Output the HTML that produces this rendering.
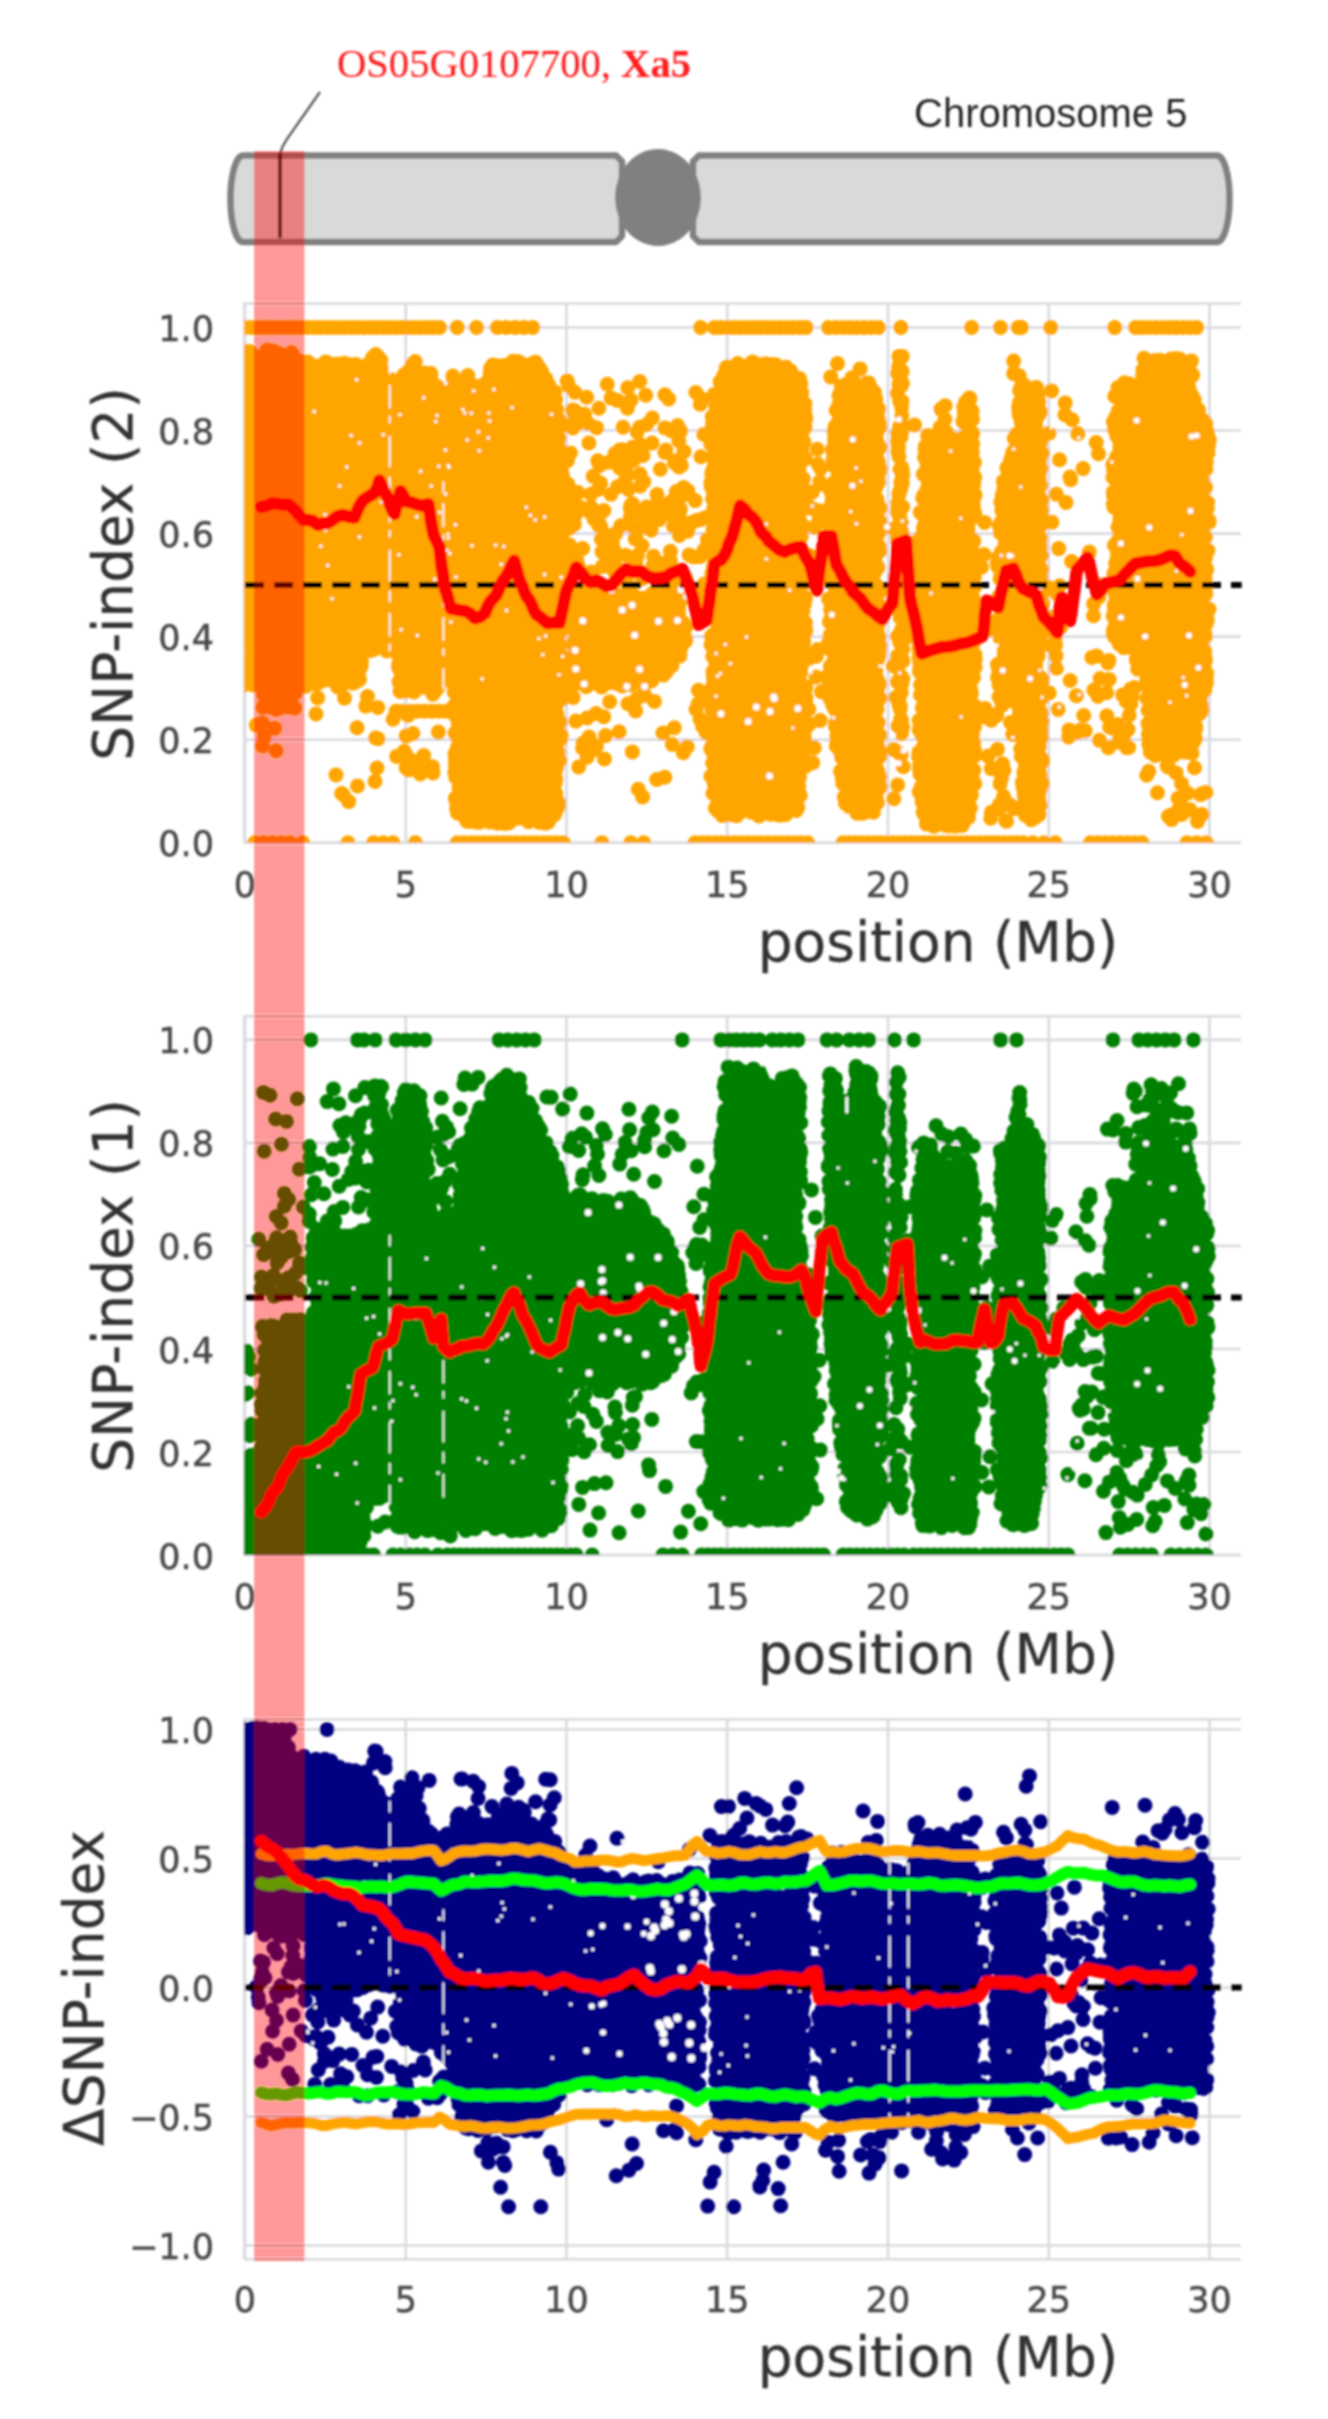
<!DOCTYPE html><html><head><meta charset="utf-8"><title>QTL-seq chromosome 5</title><style>html,body{margin:0;padding:0;background:#fff}svg{display:block}</style></head><body><svg width="1328" height="2419" viewBox="0 0 1328 2419"><defs><filter id="bl" x="-5%" y="-5%" width="110%" height="110%"><feGaussianBlur stdDeviation="1.0"/></filter></defs><rect width="1328" height="2419" fill="#fff"/><g filter="url(#bl)"><g stroke="#808080" stroke-width="6.5" fill="#d9d9d9" stroke-linejoin="round"><path d="M243 155.5H616L622 161.5V236L616 242H243A12.5 43.25 0 0 1 243 155.5Z"/><path d="M699 155.5H1217A12.5 43.25 0 0 1 1217 242H699L693 236V161.5Z"/></g><ellipse cx="658" cy="197.5" rx="43" ry="48.5" fill="#808080"/><line x1="280" x2="280" y1="153" y2="238" stroke="#111" stroke-width="4"/><path d="M280 154Q282 146 287 139L320 92" fill="none" stroke="#555" stroke-width="2.2"/><text x="337" y="77" font-family="'Liberation Serif',serif" font-size="40.6" fill="#ff1a1a">OS05G0107700, <tspan font-weight="bold">Xa5</tspan></text><text x="914" y="127" font-family="'Liberation Sans',sans-serif" font-size="40" fill="#262626">Chromosome 5</text><clipPath id="c1"><rect x="244.3" y="303.5" width="996.5" height="539.2"/></clipPath><line x1="245" x2="245" y1="303.5" y2="842.7" stroke="#d9dade" stroke-width="2.6"/><line x1="405.8" x2="405.8" y1="303.5" y2="842.7" stroke="#d9dade" stroke-width="2.6"/><line x1="566.5" x2="566.5" y1="303.5" y2="842.7" stroke="#d9dade" stroke-width="2.6"/><line x1="727.2" x2="727.2" y1="303.5" y2="842.7" stroke="#d9dade" stroke-width="2.6"/><line x1="888" x2="888" y1="303.5" y2="842.7" stroke="#d9dade" stroke-width="2.6"/><line x1="1048.8" x2="1048.8" y1="303.5" y2="842.7" stroke="#d9dade" stroke-width="2.6"/><line x1="1209.5" x2="1209.5" y1="303.5" y2="842.7" stroke="#d9dade" stroke-width="2.6"/><line x1="244.3" x2="1240.8" y1="842.7" y2="842.7" stroke="#d9dade" stroke-width="2.6"/><line x1="244.3" x2="1240.8" y1="739.7" y2="739.7" stroke="#d9dade" stroke-width="2.6"/><line x1="244.3" x2="1240.8" y1="636.6" y2="636.6" stroke="#d9dade" stroke-width="2.6"/><line x1="244.3" x2="1240.8" y1="533.6" y2="533.6" stroke="#d9dade" stroke-width="2.6"/><line x1="244.3" x2="1240.8" y1="430.5" y2="430.5" stroke="#d9dade" stroke-width="2.6"/><line x1="244.3" x2="1240.8" y1="327.5" y2="327.5" stroke="#d9dade" stroke-width="2.6"/><path d="M244.3 842.7V303.5H1240.8" fill="none" stroke="#d9dade" stroke-width="2.5"/><line x1="244.3" x2="1240.8" y1="842.7" y2="842.7" stroke="#d9dade" stroke-width="2.5"/><g clip-path="url(#c1)"><path d="M238.1 350L238.1 687.3L260.5 687.3L261.1 710.5L297.3 710.5L298.9 687.3L358.7 687.3L363.5 651.2L391.7 651.2L391.7 374.7L382.7 374.7L379.8 347.9L373.5 347.9L370.3 361.8L300.8 361.8L299.2 350Z" fill="#ffa500" fill-rule="evenodd"/><path d="M389.2 385L389.2 648.8L397.2 653.9L398.7 694.5L441.5 694.5L441.5 386.2L433.6 375.5L416.9 362.2L415.1 358.1L410.7 367L393.9 385Z" fill="#ffa500" fill-rule="evenodd"/><path d="M440.7 401L440.7 682.1L453.5 682.1L454.5 809.6L466.4 823.8L550.3 823.8L559 810L563.7 688L563.7 482.2L558.9 405.8L554.6 389.4L545.5 377.3L534.3 359.4L491.3 361.6L488.1 382.1L448.3 384.8Z" fill="#ffa500" fill-rule="evenodd"/><path d="M572.5 591.1L572.5 687.3L645.1 687.3L674.4 668.5L685.9 645.5L685.9 591.1Z" fill="#ffa500" fill-rule="evenodd"/><path d="M710.7 430.8L710.7 780.4L716.3 816.1L796.3 816.1L806.4 764.8L806.4 405.5L796.4 366.5L748.6 361.4L746.5 355.7L744.7 360.8L724.7 366.2L715.4 381Z" fill="#ffa500" fill-rule="evenodd"/><path d="M828.1 533.7L828.1 687.7L845 813.5L879.1 813.5L880.4 791L880.4 405.9L871.1 382.4L838.7 382.4L832.9 431Z" fill="#ffa500" fill-rule="evenodd"/><path d="M897.2 354.1L897.2 733.7L902.9 733.7L902.9 354.1Z" fill="#ffa500" fill-rule="evenodd"/><path d="M906.9 539.6L906.9 640.9L910.9 640.9L910.9 539.6Z" fill="#ffa500" fill-rule="evenodd"/><path d="M918.1 523.5L918.1 790.6L925.1 826.4L969.7 826.4L975.2 790.7L975.2 482.2L972.2 392.7L964.3 392.7L961.1 436.5L924.1 436.5Z" fill="#ffa500" fill-rule="evenodd"/><path d="M996.9 559.5L996.9 707.9L1019.2 707.9L1022.4 821.2L1040 821.2L1042.8 790.9L1042.8 420.8L1035.7 382.4L1019 382.4L1016.1 431.5L1001.7 483.1Z" fill="#ffa500" fill-rule="evenodd"/><path d="M1112.6 430.7L1112.6 635.7L1117.5 651.2L1144.6 651.2L1147.8 756.8L1194.8 756.8L1206.7 687.6L1206.7 421.8L1195.6 401.4L1191.2 356.7L1144.1 356.7L1140.9 382.4L1115.5 382.4Z" fill="#ffa500" fill-rule="evenodd"/><path d="M238.9 483.6h0M391 494.5h0M390 474.2h0M243.6 376.9h0M344.4 363.3h0M238.7 602.6h0M373.3 360.7h0M316.1 684h0M247.2 351.4h0M388.4 463.2h0M386.8 468.7h0M244 360.7h0M242 460.8h0M242.8 350.9h0M386.7 420.3h0M355.7 364.6h0M381.5 367.7h0M238.9 533.3h0M240.3 402.9h0M359.9 650.3h0M265.7 353h0M388.7 587.3h0M375.8 354.6h0M387.3 469h0M299.3 683.6h0M266.4 699.7h0M355.5 666.2h0M245.3 682.3h0M242.8 399.4h0M241.2 352.7h0M244.1 501h0M241.4 452.9h0M361.3 666h0M290.1 707.1h0M361.5 661.1h0M242.2 613h0M271.1 707.5h0M355.3 365.9h0M266.9 350.1h0M391.2 626.9h0M243.3 575.6h0M390.6 515.5h0M364.9 367.2h0M389.8 560.8h0M243.1 394.1h0M391 379.5h0M378.9 371.8h0M243.2 669h0M359.6 679.4h0M382.7 378.7h0M387.1 378.3h0M386.4 479.9h0M344.4 363.4h0M341 366.1h0M349.9 364.8h0M240.5 433.7h0M348.8 366.1h0M391.6 641.2h0M302.7 682.1h0M385.9 386h0M385.8 428.1h0M242.1 482.2h0M263.5 683.8h0M240.5 491.2h0M243.1 611.9h0M390.1 648.9h0M241 500.7h0M266.4 692.5h0M238.6 418.5h0M243.5 474.5h0M280.3 707.1h0M308 362.1h0M242.2 630.9h0M386 525.1h0M280.9 706.9h0M239 450.1h0M294.8 708.1h0M310.3 683h0M386.9 474.4h0M287.8 707.1h0M253.7 355.7h0M379.7 646.7h0M389 525.3h0M240.1 626.1h0M371.9 649.5h0M263.5 694.6h0M243.3 376.7h0M387.5 510.6h0M243.2 636.2h0M391.3 404.9h0M300.5 361h0M317.6 365.9h0M278.8 708.4h0M244.1 511.4h0M240 682.5h0M354.8 366h0M273.4 350.9h0M241.8 590.1h0M390.6 526.2h0M358.1 656.2h0M262.9 707.3h0M387.4 380.7h0M243 429h0M239.4 528.6h0M240.2 687h0M387.4 600.7h0M239.2 630.7h0M329.1 363.6h0M386.4 445.5h0M387.9 455.1h0M240.7 629.3h0M276.1 709.4h0M358.2 652.7h0M390.4 496.8h0M386.6 443h0M243.9 663.6h0M239 630.9h0M385.9 426.6h0M243.5 491.9h0M338.6 682.1h0M387.9 501.7h0M388.6 575.7h0M359 671.2h0M241 503.6h0M241.8 543.7h0M355.7 682h0M240.3 498.4h0M391.2 644.2h0M244.1 446.6h0M390.2 485.4h0M238.6 465.4h0M340.6 687h0M241.1 575.1h0M338.3 363.9h0M390.3 467.9h0M241.6 519.8h0M242 668.7h0M389.9 616.7h0M390 509.3h0M370.3 650.4h0M371 648.1h0M356.7 367.8h0M240.9 487.9h0M241.6 485h0M238.6 596.5h0M306.6 363.4h0M373.7 646.5h0M297.2 363.2h0M272.7 352.1h0M387.4 478.3h0M391.6 412.5h0M388.6 560.7h0M269.4 352.3h0M391 640.8h0M388.5 382.9h0M364.8 645.4h0M239.2 422.7h0M240.6 389.1h0M390.4 636.2h0M391.1 616.8h0M239.4 576.2h0M271.1 705.7h0M325.7 361.9h0M239.7 535.4h0M387.6 641.4h0M298 686.2h0M306.2 686.2h0M355.8 364.5h0M319 682.4h0M390.2 446.7h0M239.7 478.8h0M390.7 411.1h0M387.4 549.7h0M360.6 649.4h0M388.2 627.4h0M272.3 705.2h0M241.2 494.7h0M266.6 354.4h0M239.1 434.7h0M238.4 434.6h0M243.5 406.3h0M378.6 357.5h0M243.8 466.7h0M240.6 486.9h0M388.1 424.1h0M386.7 543.6h0M390.3 587h0M279.8 353.7h0M388.6 591.9h0M388.7 574.2h0M365.8 367.7h0M335.8 366.4h0M249.9 351.5h0M391.6 551.4h0M250.7 353.6h0M358.3 663.4h0M242.5 601.5h0M290.7 353.3h0M387.7 446h0M391.3 643.4h0M239.3 560.2h0M253.4 684.9h0M391.4 420.9h0M240.3 395.8h0M330.9 364h0M291.4 352.5h0M373.9 649.5h0M389.1 528.4h0M243.9 513h0M250.8 355h0M299.9 686.6h0M372.6 357.5h0M240.2 600.7h0M242.5 414.7h0M357.1 668.6h0M391.6 392.3h0M240.6 379.1h0M281.3 705.5h0M241.3 448h0M366.9 365.1h0M242.7 487h0M240.2 474.6h0M243.2 438.2h0M298 364.9h0M240.6 522h0M238.4 360.1h0M377.6 376.3h0M238.7 460.4h0M387 474.2h0M305.2 686h0M295.2 693.3h0M342.8 366.2h0M243.3 380.6h0M386.8 604.8h0M357.1 658.6h0M239 357.2h0M244 629h0M388.7 508.2h0M388 447.1h0M381 360.3h0M240.1 418.5h0M387 502.8h0M241.1 538.6h0M240.5 537.2h0M286.4 704.8h0M360.6 651.4h0M337.6 687h0M352.8 683.3h0M238.8 549h0M387.7 484.7h0M387.8 405.6h0M240.7 430.7h0M386.6 464.7h0M388.8 476.1h0M357.1 672.2h0M391.6 578h0M307.7 363.5h0M386.7 650.9h0M238.6 668.7h0M391.3 385.1h0M388.1 621.7h0M390.8 533.9h0M388.5 379h0M385.9 440.4h0M387.1 592.4h0M370.1 646.5h0M239.8 591.4h0M359.6 655.5h0M239 429h0M292.5 693.2h0M385.8 463.6h0M379.8 365.7h0M245.2 684.4h0M241.9 681h0M391.6 384.9h0M392.5 619.9h0M438.1 579h0M398.5 380.5h0M439.6 500.7h0M439 580.4h0M437.5 599.6h0M436.5 435.8h0M412.4 369.2h0M439.6 626.7h0M435.6 489.2h0M438.7 583.5h0M432.8 694.2h0M394 477.9h0M439.4 395.8h0M441.4 420.8h0M389.5 431.5h0M415.2 361.6h0M439.5 449.9h0M402.7 665h0M392.7 528.2h0M403.7 375.1h0M392.6 617.5h0M392.9 562.7h0M389.8 611h0M439 417.1h0M394.4 583.2h0M392.7 428.2h0M441.2 407.2h0M438.4 578.1h0M400 691.5h0M436.5 664.9h0M438.6 555.7h0M391.6 520.9h0M394.4 394.6h0M440.7 625.2h0M391.6 638.5h0M436.3 548.2h0M439.3 639.7h0M392.5 610.8h0M390.7 521.8h0M439.9 613h0M398.8 655.7h0M438.2 563.3h0M438.6 614.2h0M438.4 613.9h0M391.3 537.8h0M389.9 549.4h0M436.2 477.8h0M393.4 516.9h0M393.7 548.5h0M393.1 399.4h0M392 647.6h0M390 477h0M408.6 371h0M438.8 391.5h0M397.8 666.8h0M440.7 635.5h0M439.5 666.3h0M389.8 404.4h0M430.5 377h0M439.8 544.8h0M397.4 389.7h0M436.7 689.3h0M389.4 580.6h0M394.5 432.4h0M441.1 485.3h0M399.9 691h0M436.7 386h0M389.7 578.1h0M395.2 558.4h0M436.7 631.2h0M395.1 410.8h0M437.2 440.1h0M438.4 682h0M437.4 563.8h0M390.6 521.5h0M395 535h0M392.3 510.8h0M399.5 665.5h0M440.4 523h0M412.5 366.9h0M441.3 475.5h0M441.5 567.4h0M439.4 516.6h0M389.7 417.6h0M393 475h0M440.4 389.6h0M439.5 398.4h0M413.7 372.2h0M440.1 618.2h0M439.6 528.8h0M414 692h0M392.4 494h0M398.7 681.7h0M439.2 529.3h0M391.3 568.4h0M393.8 553.1h0M395.1 557h0M390.7 513.7h0M436.8 633.2h0M437.2 428.7h0M440.4 631.9h0M390.5 495.4h0M437.4 576.6h0M435.9 392.4h0M389.5 557.9h0M433.8 692.8h0M393.5 427.9h0M435.9 572h0M437 478.5h0M398.1 665.4h0M393.2 557.3h0M393.4 648.3h0M398.9 665.4h0M392.8 634.9h0M401.4 689.2h0M440.4 438h0M439.9 400.1h0M412.4 364.4h0M439.7 441.5h0M390 431.5h0M392.2 599.5h0M424.5 372.9h0M441.2 419.1h0M394.7 495.8h0M394.9 484.7h0M402 689.4h0M438.7 509.6h0M391.4 626.6h0M435.8 534.4h0M397.8 648.7h0M392.9 621.7h0M440.9 667.4h0M393.3 542.3h0M436.9 646.6h0M394.8 522.4h0M440.2 639.8h0M399.8 670.2h0M393.6 581.5h0M403.2 662.4h0M437.5 537.5h0M440.3 503.2h0M391 634.1h0M438 611.6h0M440 516.4h0M437.5 444.4h0M437.5 544h0M398.1 654.8h0M437.2 625.4h0M438 526.5h0M393.4 449.3h0M436 571.2h0M391.4 426.8h0M393.8 553.8h0M436.9 513.8h0M389.8 572.8h0M440 596.9h0M394.2 505.1h0M438.7 632.8h0M439.9 541h0M424.3 375.7h0M438.2 508.7h0M437.3 612.2h0M399.9 669.6h0M391.1 552.6h0M438.7 634.9h0M438.4 638.4h0M437 685.4h0M438.4 686h0M393.4 431.6h0M441.4 500.5h0M391.8 414.6h0M403.6 685h0M438.4 627.6h0M392.6 603.6h0M393.6 577.4h0M405.4 691.3h0M439.7 497.6h0M436.6 405h0M440.7 557.3h0M389.7 459.7h0M430.9 373.5h0M440.1 656.7h0M439.2 413.9h0M393.5 549.5h0M404.3 375.4h0M407.6 690.7h0M437.6 432.2h0M440.1 565.2h0M394.4 565.2h0M391 528h0M391.6 503.9h0M390.2 534.1h0M391.4 634.2h0M440.9 527.2h0M541.6 376.8h0M441.4 407.4h0M519.1 361.9h0M479.6 822.2h0M517.7 363.6h0M560.8 734.9h0M456 685.9h0M558.1 751.8h0M560.6 670.1h0M456.4 801.8h0M444.6 632.5h0M455 753.5h0M444.4 482.3h0M446.6 476h0M443.3 552.2h0M540.7 376.5h0M554.6 814.5h0M558.1 504.6h0M444.5 488h0M460.5 813.1h0M563.5 553.7h0M557.7 520.4h0M559.4 689.9h0M562.7 619.8h0M559.8 521.2h0M441 515.2h0M557.8 807.4h0M444.7 653.2h0M470.5 821.4h0M563.6 504.3h0M557.3 464.4h0M555.9 779.2h0M559.5 657.2h0M450.4 680.8h0M555.8 793.6h0M561.1 682h0M560.1 645.4h0M550.8 814.3h0M458.1 761.1h0M478.1 819.5h0M503.7 365.8h0M442.3 626.1h0M457.7 746.8h0M559.3 739.7h0M443.9 481.6h0M454 706.1h0M561.3 736h0M557.4 735.7h0M548.6 385.2h0M490.6 368.1h0M459.3 753.1h0M561.9 554.5h0M556.7 409.5h0M441.4 595.8h0M441.3 562.6h0M561.7 495.3h0M560.7 739.1h0M511.4 365.6h0M560.7 669h0M442.4 454.3h0M559.6 583.4h0M561.7 536.9h0M506.7 366.3h0M442.9 436.3h0M561.2 683.8h0M538.4 376.3h0M490.3 371.8h0M455.4 758.4h0M560.6 477.9h0M562 630.3h0M492.5 819.8h0M441.9 630.5h0M554.1 781.1h0M441.6 568.1h0M499.5 822.9h0M442.8 405.1h0M458.9 787.2h0M448.1 396.4h0M558.3 645.4h0M455.7 777.5h0M456.9 708.3h0M557.9 528.6h0M444.5 485.7h0M446.5 609h0M446.3 468.2h0M514.5 818.2h0M558.9 448.9h0M445.2 393.7h0M493.6 370.3h0M523.5 364.8h0M561.3 679.7h0M560.7 526.7h0M445.3 532.3h0M448.1 677.6h0M545.9 378.7h0M442.7 499.2h0M560.2 535h0M558.8 439.4h0M509.1 822.7h0M445.6 457h0M503.6 366.4h0M442.5 402.2h0M559 437.7h0M444.5 487.5h0M492.8 365.1h0M451.9 680.5h0M444.7 530.4h0M558.8 490.9h0M443.6 484.2h0M489.9 822.1h0M446.2 482.4h0M560.5 495.3h0M561.2 623.9h0M443.3 398.3h0M443.7 531.4h0M491.6 379.3h0M559.3 605.5h0M557.9 755.7h0M446.2 568.6h0M560.6 453.1h0M558.4 643.7h0M534.5 362.6h0M445.9 539.9h0M558.5 666.6h0M556.5 733.7h0M443 656.4h0M444.9 395.4h0M444.7 639.7h0M445 468.7h0M557.9 682.8h0M444.7 600.4h0M539.5 822.4h0M562.1 524.1h0M491.9 386.7h0M454.2 692.2h0M555.6 441.4h0M455.4 756.9h0M454.9 714.9h0M535.7 362.2h0M458.9 751.2h0M442.1 458h0M442.9 402.6h0M474 385.8h0M459 795.8h0M563.4 625.2h0M555.1 783.2h0M555.5 399.6h0M556.7 739h0M441.6 617.4h0M455.6 705.5h0M457.9 811.6h0M560.3 669.9h0M498.5 365.7h0M455.7 756.7h0M553.7 399.1h0M560 721.8h0M454.2 691.4h0M541.8 371.7h0M560.1 580.3h0M561.8 591.8h0M558.6 802.6h0M457.2 778.1h0M510.9 821h0M451.7 678.5h0M558.1 466.2h0M442 453.5h0M444.7 425.2h0M560.5 461h0M455.3 798.4h0M528.6 821.7h0M457.4 700.9h0M563.1 658.3h0M455.3 762.4h0M442 606.6h0M504.9 365.4h0M443.7 464.2h0M548.6 384.6h0M456.6 808.8h0M560.6 655.3h0M556.6 760.5h0M441.3 658.2h0M445.4 457.8h0M446 410.4h0M555 771.1h0M460 783.1h0M457.8 388h0M466.9 821.3h0M557.9 525.8h0M454.5 706.8h0M457.3 733h0M446.3 400.6h0M495.3 366.1h0M562.7 477h0M482.7 387.2h0M554.7 391.9h0M556.7 446.2h0M505.1 823.5h0M458.4 755.5h0M443.2 553h0M455.1 733.1h0M561.5 472.8h0M444.4 678.3h0M562 684.4h0M556 435.5h0M446.4 565.6h0M559.7 760.5h0M561.2 660.2h0M552 816.7h0M562.2 542.2h0M492.8 818.5h0M548.2 822.1h0M489.5 377.4h0M457.5 813h0M558.5 576.9h0M442.3 524.7h0M560.8 576h0M476.7 822.2h0M532.7 363.4h0M539.3 367.8h0M442.9 516.8h0M557.1 714.4h0M516.9 361.4h0M446.6 549.4h0M493.2 365.2h0M557.5 479.1h0M445.6 497.7h0M497.7 823.2h0M443.3 544.9h0M454.8 772.5h0M444.1 533.6h0M559.2 469.6h0M446.1 621.9h0M485 386.1h0M466 819.6h0M441.3 455.3h0M444.1 630.5h0M558 724.3h0M443.6 600.4h0M518.7 818.1h0M457.7 720.1h0M562.1 699.2h0M561 547.4h0M562.5 488h0M445.9 449.6h0M563.4 674.1h0M442.7 553.3h0M458.1 720.9h0M479.1 388h0M442.2 587.7h0M555 813.2h0M512.8 361.2h0M556.6 767.8h0M446.1 643h0M470.2 820.4h0M559.1 614.6h0M458.4 723.9h0M558.4 806.6h0M442.6 634.5h0M560.4 502.7h0M442.7 645.5h0M453.4 680.6h0M451.5 385.8h0M560.6 682.7h0M556.1 446.3h0M554.5 812h0M483.7 384.8h0M559.2 722.9h0M558.8 448.1h0M446.6 433.3h0M455.5 766.6h0M560 490.4h0M561.9 472.4h0M455.8 679.8h0M444.8 561.3h0M443.9 478.5h0M457.1 749h0M558.5 733.9h0M461.2 388h0M545.5 823.2h0M456.8 797.4h0M445 459.6h0M457 802.9h0M443 464.8h0M457.5 737.1h0M539.4 818.6h0M478.9 388.1h0M556 756.7h0M536.3 370.4h0M563.5 688.6h0M562.9 589.2h0M563.7 615.9h0M502.9 817.9h0M559.1 633.8h0M442.5 614.4h0M556.7 429.6h0M444.5 453.2h0M557.2 724.3h0M560.9 674.1h0M440.7 630.6h0M663.5 675.1h0M644 681.9h0M680.8 648.1h0M587 593.7h0M676.6 656.1h0M574.3 628.6h0M683.5 595.1h0M651.8 680.6h0M641.8 684.6h0M591.5 683.5h0M576.6 633.7h0M670.1 663.7h0M576.9 593.2h0M574.9 603.5h0M575 652.5h0M608.4 593.8h0M676 653.9h0M631.6 684.7h0M679.9 655.9h0M630.4 591.2h0M573.3 642.7h0M576.7 656.8h0M574.8 647.4h0M680.8 597.8h0M642.3 684h0M644.6 684.9h0M614 594.1h0M572.6 614.7h0M573.2 685.3h0M615.6 596.7h0M573.4 667h0M572.8 671.8h0M600.9 685.9h0M597.4 593.1h0M576 630.4h0M685.7 640.4h0M602.3 596.2h0M636.6 681.6h0M586.2 686.8h0M575.4 633h0M614.4 593.7h0M573.8 670.8h0M576.6 628h0M685.7 627.5h0M596.3 682.2h0M575.6 615.2h0M684.1 641.9h0M671.9 665.7h0M630.7 594.1h0M684 625.2h0M653.1 596h0M578 672.6h0M665.1 593.3h0M679.4 593.7h0M585 684.1h0M614.5 682.5h0M680.3 601.5h0M602 685.1h0M609.1 682.7h0M576.9 631.6h0M575.5 641.3h0M666.5 671.7h0M622.3 686h0M677.7 656.5h0M685.5 595.7h0M601.1 593h0M683.4 596.3h0M618.2 683.9h0M666.5 670.7h0M578.2 608.5h0M653.6 595.7h0M664.3 673.4h0M652.5 593.4h0M583.1 596.3h0M610.1 595.8h0M629.3 683.1h0M680.5 622h0M623.3 595.2h0M597.5 596.6h0M685.1 641.5h0M674.2 656.3h0M576.1 652h0M574.5 608.7h0M685 640.1h0M624.3 596.4h0M601.8 596.2h0M626.2 684h0M685.5 638.9h0M601.6 687h0M675.9 595.2h0M604.8 593.3h0M683.5 622.9h0M632.9 594.6h0M576.7 608.6h0M666.8 593.4h0M582.5 592.5h0M578.1 630.6h0M577.1 636.9h0M578.1 630.2h0M627.7 592.5h0M597.2 595.9h0M590.1 682.2h0M766 363.9h0M802.3 528.2h0M713.6 654.2h0M804 459.3h0M713.8 557.7h0M800.6 582.3h0M713.2 753.1h0M804.1 558.6h0M717.1 413.4h0M714 760.2h0M759 816h0M737.1 810.4h0M797.7 797.4h0M716.5 591.2h0M712.9 671.9h0M803.7 641.4h0M710.8 748.7h0M714.1 718.9h0M805.2 729.5h0M799.6 385h0M770.7 813.5h0M775.8 364.8h0M796.3 810.4h0M806 697.9h0M715.1 550.2h0M711.8 431.9h0M714.4 422.2h0M712.6 763h0M715.4 738.8h0M765.9 367.8h0M741.9 366.6h0M805.6 727.2h0M714.3 589.5h0M786.2 367.3h0M736.7 815.7h0M771.7 364.4h0M751 810.7h0M730.8 813.2h0M797.8 807.6h0M711.4 688.6h0M713.5 693h0M802.6 690.4h0M805.8 418.9h0M802.7 728.8h0M712 710.2h0M802.4 485.9h0M715.6 649.8h0M765.1 812.9h0M804.2 623.4h0M804 635.2h0M713.4 587.6h0M800.7 479h0M714.7 468.4h0M713.4 543.8h0M714.4 461.9h0M805.9 631h0M806 687h0M800.8 566.1h0M802.2 639.3h0M761.7 365.2h0M712.7 656.3h0M802 498.6h0M802.9 413.9h0M714 428h0M804.4 738h0M714.5 421.7h0M712.2 577.2h0M714.3 783.8h0M713.8 701.5h0M803.8 502.1h0M801.1 700.4h0M800.6 477.9h0M802.4 645.8h0M718.3 795.6h0M711.3 701.3h0M801.6 605.2h0M805.4 622.7h0M710.8 776.2h0M715.9 753.9h0M713.2 581.7h0M713.4 491.1h0M805.5 416.9h0M711.8 573.5h0M795.4 377.8h0M713.6 699.7h0M800.8 672h0M712.6 470.1h0M782.8 811.2h0M715.5 584.1h0M793.8 797.7h0M711.1 644.9h0M785.5 814.7h0M711.3 636.2h0M715.7 406.5h0M801.2 633.7h0M803.9 715.9h0M713 710.5h0M801.4 485.4h0M804.7 410.3h0M723.6 375.9h0M717.9 811h0M804 730.1h0M805.7 501.8h0M716.7 704.5h0M802.1 480.9h0M801.8 450.3h0M803.9 564.8h0M799.6 777.1h0M714.1 427.8h0M803.3 734.5h0M714.5 449.3h0M713.3 609.7h0M805.6 458.8h0M760.7 366.5h0M798.5 794.6h0M802.3 662.6h0M716.6 496h0M798.4 390.1h0M800.7 424.7h0M790.6 371.1h0M801 606.4h0M713 456.8h0M771 813.2h0M795.1 806.5h0M801.6 665.1h0M713.4 509.2h0M715.9 663.5h0M716.2 636.5h0M802 610.3h0M755.6 811.7h0M800.5 697.4h0M751.1 812.2h0M715.7 526.3h0M712.8 703.8h0M801.8 625.2h0M802.8 560.2h0M715.7 445.3h0M714.1 492.1h0M764.7 364.1h0M714 422.6h0M713.2 721.5h0M711.7 473.8h0M711.3 487.1h0M801.3 536.6h0M800.9 432.5h0M716.7 455.6h0M713.5 677.9h0M799.5 378.5h0M718.4 793h0M716.3 520.1h0M801.8 392.7h0M712.6 499h0M803.3 478.7h0M713.4 612.3h0M725.7 374.5h0M805.9 505.3h0M737.8 363.5h0M803 630.5h0M713.5 557.5h0M717.5 396.3h0M713.9 489.1h0M805.2 625.2h0M715.4 808.4h0M715.6 790.2h0M715 633.5h0M776.9 814.4h0M713.1 429.7h0M716.1 806.7h0M755.9 363.7h0M716.1 552.5h0M740.2 812.2h0M803.6 705h0M711.3 432.7h0M800.8 397.3h0M800.3 795.4h0M803.3 639.2h0M770.7 814.3h0M719.1 397h0M713.1 580.3h0M770.9 367.5h0M804.6 651h0M716.7 603.9h0M803.8 422.8h0M715.9 533.3h0M805.1 427.6h0M713.7 493.5h0M805.7 687.9h0M804.9 557h0M780.7 812.2h0M799.4 396.8h0M800.3 383.6h0M802.1 762.8h0M729.8 814.7h0M802.4 632.5h0M711.7 584.6h0M800.8 529.2h0M801.8 690.8h0M714.5 480h0M719.5 803.5h0M779.8 815.2h0M720.1 381.8h0M804.5 553.5h0M804.3 604.5h0M805.7 766.1h0M710.9 692.4h0M716.2 556.6h0M805.1 725.9h0M800.8 383.8h0M802.9 622.6h0M803.3 752.1h0M713 793.4h0M800.9 404.8h0M714.3 394.4h0M801.8 433.3h0M713.2 695.6h0M716.3 604.3h0M778.2 810.3h0M716.7 480.7h0M801.3 560.5h0M715.1 596.7h0M796.8 796.3h0M715.9 659.2h0M712.7 416.6h0M801.9 525.4h0M713 742.7h0M713.9 670.3h0M804 442.1h0M714.3 642.7h0M802.2 504.1h0M715.6 499.8h0M716.2 709.1h0M717.4 792.8h0M725.9 368.2h0M713 529.7h0M803.5 525.9h0M805.4 597.6h0M715.2 545h0M752.7 362.1h0M710.8 444.1h0M713.5 509.5h0M800.5 670.5h0M713.1 533.3h0M804.5 739.7h0M801.3 733.3h0M712.5 424.1h0M801.3 510h0M805.6 582.2h0M714.9 502.4h0M716.5 617.8h0M786 368.9h0M800.7 707.3h0M802.1 619.9h0M798.7 786h0M800.7 411.3h0M710.8 482.8h0M719.6 391.9h0M803.7 751.5h0M727.3 366.9h0M778.8 368.5h0M713.3 566.4h0M803 611.3h0M714.5 775.8h0M772 367.1h0M805.3 599.2h0M716.7 441.6h0M714.4 575.4h0M769.5 369.2h0M713.8 424.4h0M715.7 667.7h0M712.2 416.9h0M805 403.7h0M758.3 366.3h0M714.7 555.5h0M712.2 481h0M713.3 684.7h0M722.5 815.6h0M713.8 672.5h0M802.6 628.8h0M803.6 733.7h0M713.5 689.1h0M805.9 704.6h0M800 397.7h0M804.3 491.5h0M832.8 669.7h0M879.6 427.7h0M829.1 681.4h0M875.9 623.3h0M841.9 746.8h0M878.7 482.1h0M877.8 617.8h0M830.1 635.3h0M833.5 506.6h0M878.9 615.8h0M876.4 769.8h0M879.8 776.8h0M874.8 477.9h0M832.2 633.2h0M878.7 408.7h0M874.5 604.7h0M845.5 803.5h0M833.7 533.8h0M877.2 709.2h0M836.6 742.7h0M876.1 732.5h0M840.7 746.1h0M875.6 727.6h0M880.2 468.8h0M878.8 781.3h0M832.2 489.5h0M865.2 384.2h0M843.5 768.2h0M833.9 495.3h0M831 553.6h0M834.7 443.1h0M878.5 588.2h0M830.7 547.7h0M844.7 783.8h0M831.4 522.6h0M875.6 603.3h0M879.2 788.5h0M877.3 758.6h0M876.3 585.6h0M837.3 738.7h0M831.4 616.3h0M828.6 599h0M839 405.6h0M876.1 639.4h0M833.9 660.2h0M828.8 641.8h0M878.2 680.8h0M880 508.4h0M828.2 675.2h0M830.4 666.1h0M829.4 576.5h0M842 386.3h0M832.1 699.7h0M875.6 763.6h0M834 618.7h0M847.2 804.1h0M868.8 383h0M879.9 756.5h0M833.6 482.7h0M875 462.4h0M877.4 802.7h0M878.6 749.3h0M832.7 687.2h0M877.1 408.9h0M878.3 448.2h0M832.2 520.3h0M833.1 459.6h0M874.5 760.7h0M878.1 771.3h0M842.7 387.8h0M879.6 751.6h0M835.7 455.1h0M839.9 752.4h0M831.2 569.9h0M876.9 432.5h0M834.3 708.4h0M879.2 532.6h0M840.6 411.4h0M878.9 421.1h0M831.2 689.6h0M845.9 799h0M834.2 487.5h0M876.1 601.4h0M878.5 696.9h0M869.5 387.7h0M837.6 447.2h0M833.2 688.7h0M839.5 741.2h0M874.5 392.4h0M870.1 386.9h0M832.5 703.2h0M838.9 395.4h0M879 655.4h0M831.9 501.2h0M879.7 645.2h0M832.5 704.6h0M880.3 620h0M844.5 797.8h0M831.3 598.4h0M874.9 561h0M880.3 591.4h0M837.6 726.5h0M831.7 621.1h0M832.3 673.1h0M830.2 490.4h0M841.1 386.2h0M877.5 621h0M877.6 477h0M828.9 648.8h0M839.1 412.4h0M841.9 398.1h0M836.9 735.9h0M834.6 440.6h0M828.8 525.1h0M834.5 696.1h0M832.3 465h0M830.5 609.3h0M878 733.2h0M876.5 728.7h0M864.1 812.8h0M877.8 410h0M876.7 535.7h0M848.5 805.5h0M835.6 723.2h0M877.6 416h0M878 567.3h0M835.4 457.1h0M875.8 548h0M829.1 643.5h0M830.9 564.6h0M830.3 699h0M875.7 488.3h0M835.3 496.6h0M878.4 722.5h0M835.4 726.4h0M866.7 383h0M857 813.3h0M879.7 684.2h0M880.1 786.9h0M836.3 746.2h0M833.6 674.6h0M830.7 506.7h0M876 728.8h0M834.5 456.5h0M832.1 495.3h0M878.2 687.1h0M830.3 680.2h0M879.2 472.7h0M834 431.2h0M879.1 604.9h0M877 413.9h0M855 386.4h0M875.2 797.5h0M840.4 771.2h0M877.8 659.1h0M832.3 449.7h0M838.8 404.9h0M878.5 461.5h0M830.3 519.5h0M861.3 810.9h0M834.3 707h0M878.1 634.8h0M842.8 783.4h0M828.3 540.7h0M875.6 778.3h0M833.5 538h0M831.2 641.3h0M875.8 650h0M879.5 649.9h0M833 683.7h0M842.2 778.3h0M834.6 464.4h0M874.7 642.7h0M877.2 499.2h0M871.5 399.8h0M879.6 621.4h0M880.2 447.5h0M828.1 551h0M837.1 712.3h0M834.7 436h0M876.9 441.6h0M833.5 663.4h0M879.2 546.2h0M876.6 615h0M877 742.1h0M833.8 675.2h0M880.3 508.1h0M875 718.1h0M829.6 578.5h0M877 738h0M876 797.1h0M876.2 438.7h0M835.1 700.7h0M879.9 735h0M879 637.1h0M843.8 768.4h0M879.7 753.2h0M874.7 797.1h0M879.7 424.9h0M877.3 744.6h0M833.9 572.4h0M875.6 725.7h0M862 813.3h0M836.2 410.5h0M879.7 520.9h0M841.4 757.1h0M836.2 446.8h0M831.3 526.3h0M862.8 813h0M829.8 524.9h0M880.1 698.5h0M877.8 504h0M876.7 697h0M875.8 399h0M828.8 579.5h0M877.7 685.5h0M858.8 812.1h0M874.7 406h0M831.2 513.1h0M875.6 731.1h0M861.2 385.8h0M873.4 812.3h0M874.7 543h0M837.8 422.2h0M875.9 478.6h0M844.4 796.8h0M846 384.5h0M833.9 456.7h0M875 485.5h0M833.1 515.6h0M876.1 541.6h0M876.5 749.1h0M843.7 778.4h0M876.6 453.3h0M830.3 573.7h0M879.8 551.2h0M835 426.9h0M875.6 680.5h0M845.2 777.3h0M876.2 703.2h0M874.9 569.7h0M875.8 570.5h0M829.4 621.9h0M875.2 438h0M862.5 809.5h0M840.5 408.5h0M877.3 627.6h0M875.9 671.2h0M899.5 696.6h0M901.9 415.2h0M901.4 433.5h0M900.1 574.3h0M898.9 493h0M902.2 371.4h0M897.4 511.9h0M899.3 435.5h0M899.1 509.4h0M900 571.6h0M897.5 541.3h0M899.6 401.2h0M898 609.4h0M897.6 433.5h0M902.9 660.9h0M902 543.9h0M899.1 369h0M900.9 731.2h0M898.6 447.1h0M902.3 356.4h0M900.8 675.9h0M899.7 516.3h0M898.9 495.1h0M899.7 642.5h0M901.5 733.4h0M901.6 407.4h0M897.5 656h0M902.7 727h0M900.2 709h0M902.3 470.2h0M897.5 373.2h0M902.1 546.5h0M900.6 589.3h0M897.8 443.7h0M897.2 580.4h0M898.6 366.2h0M902.4 679.9h0M900.9 488.8h0M899.1 373.1h0M898.9 456.5h0M901.3 692.4h0M899.5 427h0M897.7 451.5h0M900.8 482.6h0M900.1 519.2h0M902.2 425.1h0M897.8 440.2h0M901 655.6h0M901.6 582h0M900.1 435.3h0M901.8 726h0M902.3 483.6h0M901.4 561.8h0M898.3 596.3h0M897.9 726h0M900.3 617.7h0M902.8 678.8h0M902.6 506.9h0M899.8 469.2h0M900.7 642.6h0M899 585.1h0M900.8 521.9h0M897.3 393.2h0M902.3 525h0M902.4 383h0M901.1 630.2h0M898 440.4h0M898.8 554.4h0M902.1 534.1h0M898.9 356.4h0M901.7 720.2h0M902.1 430.4h0M901.3 633.6h0M898.9 704.8h0M900.7 534.3h0M902.1 477.8h0M901.3 385.7h0M901.9 467.7h0M902.2 526.7h0M900.2 505.2h0M901 436.9h0M900.4 588.1h0M902.8 649.3h0M897.7 503.5h0M897.4 442.1h0M901.7 467.3h0M901.6 429.1h0M900.7 718.7h0M897.3 681.7h0M899 383.8h0M902 401.4h0M898.1 665.8h0M897.4 538.5h0M902.8 474.4h0M900.3 705.9h0M897.9 508.2h0M899.3 516.5h0M902 683.5h0M910.5 629.9h0M908.3 581.4h0M907.7 619.9h0M909.9 581.9h0M907.1 637.2h0M908.1 548.6h0M908.6 613.9h0M909.1 634.9h0M909 620.1h0M910.5 625.7h0M910.2 571.7h0M907.5 595.2h0M907.4 590.6h0M909.5 543h0M908.4 619.9h0M910.9 546.2h0M908.1 562.5h0M907.7 568.7h0M924 621h0M968 798.4h0M970.5 721.1h0M928 464.2h0M945.1 821.4h0M964.8 418.6h0M934.9 825.8h0M970 773.9h0M921.9 770.9h0M972.2 411.3h0M971.8 562h0M924.5 472.9h0M927.2 464.2h0M925.4 450h0M975.2 667.2h0M971.7 410.8h0M926.7 820.8h0M972.7 443.8h0M962.9 421.5h0M974.4 576.4h0M974.6 587h0M923.4 474.5h0M923.8 526.4h0M973.6 485.3h0M969 798.5h0M918.8 647.2h0M919.8 663.4h0M929.7 437h0M921.3 726.8h0M959 824.5h0M970.2 797.2h0M920 774.2h0M921.2 513.5h0M920.7 565.5h0M926.4 491h0M967.9 440.3h0M968.1 414.6h0M969.1 477.3h0M975.1 494.9h0M973.1 616.8h0M968.4 443.2h0M920.9 761.7h0M974.1 562.4h0M924.6 805.1h0M970.1 661.8h0M970.7 784.8h0M972.3 452.7h0M972.5 782.2h0M954.3 439.6h0M921.8 735h0M973.7 482.2h0M972.2 716.7h0M919.3 541.4h0M974.7 783.7h0M974.3 611.3h0M972.6 419.2h0M951.7 824.2h0M919.5 670.1h0M972.5 597.1h0M933.7 826.2h0M971.3 795h0M969.6 627.9h0M939.9 441h0M970.6 751h0M922.9 659.7h0M922.4 707.4h0M973.7 714.2h0M952.6 438.5h0M975 654.6h0M962.6 437.9h0M921 661.5h0M971.6 648.7h0M973.5 628.4h0M971.4 794.7h0M970.9 629.5h0M928.2 462.8h0M950 825h0M968.9 427.4h0M974.8 477.2h0M927.6 451.8h0M964.4 423h0M970.7 724h0M971.7 448.9h0M973.6 495.7h0M926.4 823.9h0M972.8 433.4h0M974.8 755.7h0M973.7 514.8h0M973.7 603.9h0M920.4 695h0M969.5 503.1h0M970.7 539.4h0M971.6 452.2h0M970.4 744.8h0M920.1 512.3h0M925.7 804.8h0M918.6 756.7h0M972.6 506.8h0M968.5 421.2h0M972.3 481.4h0M965.5 402.4h0M965.7 405.4h0M974.7 513h0M973.5 582.5h0M918.9 650.5h0M975.1 565.9h0M922.8 803.3h0M969.6 622.5h0M918.5 624.1h0M971.4 693.7h0M930.5 821.5h0M923.7 813.4h0M945.1 825.3h0M974.8 560.8h0M974.5 749.7h0M919.7 538.3h0M974.9 706h0M923.4 495.8h0M922.9 544.5h0M972.2 587h0M963.8 406.9h0M971.5 716.2h0M968.3 448.1h0M919.4 671.6h0M919.5 769.3h0M973.3 780.2h0M918.9 657.4h0M969.6 722.3h0M923.1 812.6h0M922.2 797.3h0M972.7 678.7h0M921.1 787h0M971.3 512h0M972.3 713.4h0M920.1 793h0M966.7 409.1h0M968.9 404.9h0M920.6 684.9h0M921.7 685.9h0M922.7 732.1h0M952.2 441.4h0M967.8 402.2h0M970.7 689.1h0M969.4 809.4h0M921.3 539h0M948.4 440.8h0M919.8 588.8h0M918.6 628.3h0M971.1 567.4h0M964.3 413.5h0M969.5 705.9h0M969.9 680.7h0M961.8 438.8h0M923.7 560.8h0M974.5 462.2h0M972.6 719.9h0M923.7 578.1h0M972.8 605.1h0M922.7 566.8h0M969.6 398h0M949.5 825.9h0M920.4 671.3h0M973.4 540.4h0M922.5 721.8h0M920.6 602.3h0M926.7 461.8h0M972.3 469h0M919 720.5h0M973.1 513.3h0M925 448.2h0M919.2 791.8h0M970.4 808h0M972.2 784.2h0M920.8 764.2h0M919.4 637.4h0M973.6 742.7h0M924 767h0M969.8 737.7h0M922.3 771.9h0M919.2 729.7h0M955.7 826.1h0M969.9 642h0M924.4 457.3h0M928.9 821.5h0M973.5 599h0M922.2 801.6h0M922.4 707.9h0M919.6 630.1h0M974.4 727h0M969.6 544.3h0M970 398.4h0M922.1 608.9h0M971.6 549.7h0M921.6 566.7h0M970.1 670.7h0M970.2 652.5h0M971.5 517.9h0M927.9 447.9h0M969.9 554.3h0M923.1 557.7h0M923.3 528.1h0M973.8 541.1h0M923.1 685.9h0M973.2 653.4h0M923.6 693.2h0M918.4 583.6h0M924 744.7h0M919.6 556.3h0M919.7 633.9h0M936.9 438.5h0M972.1 666.8h0M970.5 415.7h0M920.4 614.3h0M974.2 641.6h0M972.4 555.5h0M923.5 685.5h0M973.9 770.1h0M922 612h0M974.9 617h0M971.7 664.2h0M923.4 554.1h0M923.5 681.7h0M945.1 823.9h0M962.2 825.5h0M948.3 441.1h0M973.4 500.2h0M970.7 703.3h0M945.4 824.1h0M973.6 677.2h0M922.7 498h0M974.1 567.7h0M967.4 404.6h0M968.4 817.5h0M920 575h0M919.8 580.6h0M975.2 659.5h0M927.4 470.8h0M919.5 765.7h0M970.5 743.2h0M924 547.4h0M919.2 754.2h0M972 669.9h0M972.5 735h0M925.2 446.4h0M925.2 507.7h0M972.3 641.2h0M920 763.1h0M918.9 752.2h0M969 398.2h0M924.4 803.6h0M918.6 581.7h0M973.5 506.8h0M1039.5 791.8h0M1002.3 494.7h0M1039 538.7h0M1037.9 581.7h0M1041 730.6h0M1041.2 713.3h0M1036.8 631h0M997.5 664.6h0M1037.8 653.3h0M1040.6 719.9h0M1041.3 607.8h0M1023 787.6h0M1000.9 522.4h0M1038 589.8h0M1006.9 467.8h0M999.1 668.6h0M1038.3 529.1h0M1025.2 776.4h0M1009 473.3h0M998.4 668.2h0M1004.6 532.1h0M1001.2 552h0M996.9 600.1h0M1039.4 445.6h0M1042.3 783.1h0M1039.6 640h0M1003.8 488.4h0M1038.9 596.7h0M1039.2 730.3h0M1018.9 413.4h0M1021.2 730.5h0M1000.3 605.4h0M1001.2 699.1h0M1040.1 567.4h0M1018.5 407.7h0M1040.1 774.5h0M1031.3 819.7h0M1008.2 472.5h0M1004.4 507.3h0M998.7 619.5h0M1000.2 638.4h0M1002.2 705.3h0M998.5 666h0M1036.8 658.5h0M1000.8 502h0M1036 809.6h0M1002.6 556.2h0M1001.9 615.6h0M1042.7 593.5h0M1016.8 703.3h0M1001.8 669.5h0M1032.5 394.7h0M1035.6 817.2h0M1003.1 519.5h0M1037.7 548h0M1037.9 488h0M1036.8 529.1h0M1038.1 758.1h0M1039.3 728.8h0M1023.6 384.6h0M999.1 525.6h0M1041.6 569.6h0M999.3 668.4h0M1022.3 782.4h0M1037.8 531.1h0M1039.3 557.9h0M1026.4 801.2h0M1038.9 754.2h0M1041.9 605.6h0M1039.2 507.3h0M1041.1 440.8h0M1041.1 759.5h0M1039.9 586.1h0M1040.8 499.4h0M1001.8 634.4h0M1040.5 411.8h0M1000.3 532.8h0M1039.3 473.6h0M1039.8 574.4h0M1019.3 402.9h0M1040.3 677.2h0M1037 494.6h0M1038.2 611.2h0M1018.9 443.4h0M1037.9 690h0M1038.3 490.6h0M1020.7 387.3h0M999 684.9h0M1004.2 530.8h0M1001.2 570.3h0M1038.9 521.9h0M1001.1 528.1h0M1039.6 689h0M997.1 563h0M1000.9 574.8h0M1004.6 515.8h0M1023.2 804.9h0M1041.2 596.5h0M1025.8 796.9h0M1042.5 759.4h0M1039 641.1h0M1010.7 459.9h0M1040.1 546.5h0M1039.3 479h0M1004.3 531.4h0M1000 634.3h0M1037.5 565.8h0M1039.7 547.9h0M1002 630.8h0M1026.6 798.5h0M1037.9 397.7h0M998.3 560h0M1042.7 604.1h0M1039.7 544.6h0M1042 698.1h0M1041.9 681.8h0M1042.6 624.8h0M1039.6 617.9h0M1014.2 438.4h0M1036.5 387.6h0M1041.4 555.6h0M1001.8 510.1h0M1037.4 393h0M1019.6 709.8h0M1013 451.8h0M1000 578.7h0M1003.9 498.9h0M1004.6 490.6h0M1020.7 749h0M1039.8 460.4h0M1037.9 564.3h0M1017.2 448.2h0M997.3 620h0M1037.5 651.8h0M1001.4 673.1h0M1038.7 415.1h0M1042 678.7h0M1020.5 736.1h0M1040.1 589.2h0M1022.6 416.6h0M1037.4 776.8h0M1036.8 719.7h0M1037.8 686.3h0M1021.3 422.4h0M1019.6 390.7h0M999.2 567.5h0M1041.6 509.4h0M1025.5 725.7h0M1037.9 405.3h0M1016.3 434.2h0M1022.3 735.8h0M1000.3 670.2h0M1040.8 618.6h0M1038.6 799.9h0M1037.4 573.1h0M1001.4 689.8h0M1005 498h0M1039.5 775h0M1024.1 773.9h0M998.3 557.2h0M1023.7 735.8h0M1025.3 763.5h0M1037.8 579.6h0M999 696.9h0M1024 771.5h0M1003.3 481.4h0M1038.7 402h0M1040.1 588.4h0M1019.8 416.6h0M1038.2 656.1h0M1040.8 485.4h0M1023.4 786.7h0M1020.4 433.1h0M1037.2 511h0M1042.4 453.2h0M1001.6 627.6h0M1037.7 777.8h0M1038.1 705.3h0M1042.6 631.8h0M1040.3 805.3h0M1038.9 799.4h0M1041.8 499.9h0M1038 490.2h0M1024.9 788.4h0M1039.4 610.7h0M1021.3 756.4h0M1038.6 613.9h0M1036.9 793.2h0M997.6 566.5h0M1042.5 585.1h0M1040.4 711.6h0M998.4 625.8h0M997.5 677.4h0M1037.4 770.3h0M1039.5 746h0M1031.7 388.5h0M1039.3 814.4h0M1025.8 755.6h0M1041.1 513.9h0M1039.1 710.7h0M1038.7 769.7h0M1006.2 491.7h0M1027.3 807.3h0M1041.4 737.4h0M1037.2 488.9h0M1041.6 785.2h0M1019.5 714.9h0M1038.9 730.5h0M1026.3 774.7h0M1042 523.9h0M999.8 698.3h0M1025.4 815.3h0M1040.5 781.1h0M1037.4 490h0M999.5 595.8h0M1042.4 622.7h0M1027.2 802.4h0M1039.4 736.4h0M1026.5 811.9h0M1033.5 395.3h0M1019.5 409.9h0M1023.8 752.9h0M1040.2 584h0M1042.5 761.8h0M1024.1 794.7h0M1024.2 725.2h0M1002.1 572.7h0M1041.9 722.3h0M1001.5 630.5h0M998.3 668.1h0M1038.6 499.4h0M1021.6 432.4h0M1016.2 450.4h0M1037.9 495.8h0M1040.3 537.9h0M1040.9 468.5h0M1039.4 599.8h0M1016.2 448.8h0M1040.5 691h0M1019.8 712.2h0M1000.4 604.2h0M1012.1 455.5h0M1039.1 788.4h0M1040.7 576.9h0M1036.1 394.5h0M1037.3 780.8h0M1040.7 690.2h0M1005.6 515.5h0M1116.8 436h0M1114.3 610.8h0M1147.7 661.8h0M1206.2 677.9h0M1201.5 672.1h0M1181.9 361h0M1119.2 644h0M1149.1 743.8h0M1202.6 484.1h0M1114.6 636.8h0M1205.6 487.4h0M1149.6 702.2h0M1138.7 648.9h0M1192.4 396.4h0M1151.1 675.3h0M1196.8 409.6h0M1116.2 494.5h0M1199.5 700h0M1202.9 505.9h0M1201.2 506.3h0M1113.3 421.8h0M1206.2 570.5h0M1201.8 448.6h0M1118 527h0M1129.4 383.9h0M1148 723.5h0M1115.3 625.1h0M1189 367.2h0M1150 692.1h0M1204.1 572.8h0M1202.2 445h0M1203.7 523.3h0M1117.1 501.8h0M1132.2 648.1h0M1203.4 676.2h0M1202.8 565.2h0M1117 550.3h0M1113.5 590.6h0M1161.2 753.7h0M1114.7 396.2h0M1194.7 739.5h0M1204.1 440.8h0M1146.6 367.3h0M1117.1 600.1h0M1202 710.4h0M1202 580.7h0M1188.6 380.5h0M1190.1 392.6h0M1205.7 423.7h0M1203.3 433.3h0M1135.6 647.6h0M1205.1 578.9h0M1124.5 382.7h0M1202.1 670.5h0M1114.3 572.5h0M1117.9 396.4h0M1139.9 385h0M1148.9 726.6h0M1201.7 520.1h0M1203.2 458.4h0M1205.5 660h0M1201.1 578.8h0M1146.4 649.2h0M1202.4 541.9h0M1116.9 585.4h0M1199.3 713.9h0M1113.9 507.2h0M1173.7 755.1h0M1201.2 531.3h0M1201.9 638.8h0M1154.7 360.6h0M1179.5 361.2h0M1202.2 542.5h0M1201 574.3h0M1117.4 395.3h0M1148.4 734.7h0M1202.4 590.5h0M1151.8 700h0M1191.4 360.9h0M1198.8 415.8h0M1200.8 602.1h0M1118.8 419.2h0M1142.9 369.9h0M1202.6 455.4h0M1205.9 434.4h0M1151.9 742.7h0M1202.7 433.5h0M1202.2 494.7h0M1202.4 598h0M1113.1 616.1h0M1116.9 630.6h0M1116.5 457h0M1201.1 574.7h0M1116.1 417.2h0M1118.4 585.2h0M1185.5 752.1h0M1200.9 590.5h0M1204.6 669.1h0M1149 744.7h0M1206 469.3h0M1152.1 737.1h0M1195.7 726.8h0M1114.3 429.2h0M1145.9 685.4h0M1201.4 706.4h0M1204.6 574.7h0M1113.2 630.2h0M1194 400.2h0M1204.8 584.4h0M1205.5 425.1h0M1150.6 664.7h0M1205.6 611h0M1119.5 397.7h0M1160.5 751.2h0M1116.4 563.3h0M1200 417.9h0M1176.1 358.4h0M1204.7 651.3h0M1205.3 661h0M1194.4 739.3h0M1205.5 440.2h0M1142.6 375.9h0M1144 358.2h0M1119.1 394.4h0M1150.4 710.8h0M1193.7 401.6h0M1203.6 435.7h0M1114.3 545.2h0M1202.2 647.1h0M1155.2 755.5h0M1193.6 742h0M1116.3 426.9h0M1202.4 663.3h0M1204.6 633.6h0M1205.5 586.8h0M1188.7 386.7h0M1148.2 364.5h0M1115.9 460.7h0M1201.6 594.9h0M1203.8 633.9h0M1204.4 587.4h0M1148.1 710.3h0M1152.8 752h0M1150.9 712.7h0M1173.4 359.5h0M1205.4 609.6h0M1166.3 752.6h0M1192.1 403.7h0M1150.2 734.3h0M1148.8 739.7h0M1192.7 375.1h0M1118 387.6h0M1115.6 417.4h0M1200.8 585.7h0M1123.5 647.6h0M1113.9 573.9h0M1115.1 498.7h0M1205.3 516.3h0M1201.4 600.3h0M1115.7 622.8h0M1198.5 409.7h0M1144.7 368.6h0M1113.9 584.3h0M1167.3 754.5h0M1150.2 657h0M1202.8 635.4h0M1205.1 469.3h0M1195.4 738.4h0M1114.1 605.3h0M1200.9 695.5h0M1149.6 660.8h0M1117.1 559h0M1151.3 745.9h0M1113.2 492h0M1118.3 499.6h0M1118.2 411.1h0M1206.4 623.4h0M1192.5 405.6h0M1146.8 698.2h0M1185.4 752.1h0M1194.3 399.7h0M1149.9 732h0M1177.8 752.1h0M1202 420.8h0M1195.5 729.2h0M1116.7 488.7h0M1113 477.5h0M1202.1 631.6h0M1199 707.3h0M1150.2 752.2h0M1146.8 679.9h0M1205.5 591h0M1206.4 682.9h0M1170.9 359h0M1112.8 464.4h0M1115.6 563.5h0M1150.5 729.1h0M1116.9 606.4h0M1205.4 557.7h0M1202.2 570.7h0M1202.4 480.7h0M1205.5 536.8h0M1205.5 451.1h0M1202.1 440.1h0M1140.7 650.4h0M1113.1 634.2h0M1204.8 577.1h0M1204.7 656.5h0M1117.8 396.4h0M1117.2 542.1h0M1113.5 495.6h0M1204.8 610.9h0M1206.7 569.8h0M1201.6 524.8h0M1147.1 649.3h0M1201.5 588.2h0M1203 520h0M1115.8 596.4h0M1202.8 600.2h0M1206 430.4h0M1159.9 360.2h0M1146.8 679.5h0M1202 439.7h0M1113.6 469.7h0M1204.8 689.9h0M1114.9 420.3h0M1118.6 603.8h0M1203.5 420.6h0M1201.7 473.9h0M1168.1 361.5h0M1168.5 361.4h0M1146.6 362.6h0M1202.6 484.2h0M1201.4 711.8h0M1200.5 709.7h0M1115 581h0M1170.1 751.5h0M1200.7 703.3h0M1203.1 497.5h0M1201.4 642.7h0M1145.5 371.3h0M1204.6 657.7h0M1180 359.3h0M1205.7 549.9h0M1144 379.8h0M1117.3 557.6h0M1202.9 536.6h0M1113.3 504.1h0M1192.1 753.2h0M1203.2 579.2h0M1147.1 667.8h0M1200.7 494.6h0M262.4 745.9h0M276.1 750.8h0M264.1 736.9h0M262.4 723.1h0M274.7 728.2h0M256.2 725.1h0M377.8 707.5h0M316 714h0M317.7 697.9h0M377.9 738.7h0M344.5 698.1h0M375.7 738h0M357.1 727.7h0M365.8 706.1h0M367.5 696.5h0M406.4 755.6h0M423.7 755.6h0M419.3 768.4h0M415.3 761.6h0M432.5 766.7h0M396.6 756.4h0M438.4 732.1h0M406.1 767.8h0M404.2 751.2h0M393.1 719.3h0M412.9 733.5h0M408 715.5h0M406.2 735.9h0M433.1 772.9h0M375 781.4h0M336 774.9h0M377 768h0M348.7 801.6h0M341.7 793.5h0M343 794.6h0M357.5 786h0M420.2 774h0M408.4 770h0M459.8 383.4h0M453.7 378.3h0M467.8 375.6h0M460.7 384.1h0M452.9 376.1h0M567.4 460.8h0M572.6 410h0M559.1 419.7h0M569 555.8h0M566.5 566h0M565.2 612.6h0M561.4 627.7h0M564.4 507.6h0M557.3 442.7h0M571.4 490.5h0M565.1 502.2h0M567.2 380.9h0M569.3 544.9h0M566.1 674.4h0M563.2 424.8h0M561.6 466.9h0M561.1 564.4h0M562.9 552.6h0M565 555.3h0M571.4 617.6h0M574.4 524.4h0M570.4 452.9h0M574.9 392.2h0M574.8 415.3h0M572.9 427.9h0M574.3 499.1h0M562.4 627.9h0M565.1 453.7h0M569.4 425.6h0M574.9 410.8h0M555.1 560.4h0M566.7 521.6h0M563.7 552h0M554.4 414.3h0M568.6 385.9h0M556.2 425.5h0M568 484.3h0M555.4 657.7h0M559.7 683.6h0M573.7 669.3h0M575.3 515.3h0M573.2 549.3h0M674.4 462.7h0M598.4 520.3h0M591.2 572h0M659.6 565h0M679.9 570.8h0M640.2 486.1h0M628.4 489.4h0M629 460.4h0M681 573.1h0M641.7 448.1h0M632.6 447.2h0M628.2 463.4h0M683.5 494.9h0M668.1 561.5h0M673.3 526.3h0M569.7 528.3h0M641.9 453.3h0M612.4 541.9h0M602.3 566.4h0M684 451.6h0M653.5 556.3h0M680.4 509.3h0M598.1 489.5h0M570.6 551h0M599.6 465.5h0M591.4 507.6h0M605.9 536h0M642.2 512.2h0M589.2 511.6h0M631.2 504.5h0M683.5 487.4h0M614.7 572.2h0M619.8 467.9h0M572.1 559.5h0M600.5 483h0M643 455.5h0M625.7 555.2h0M643.5 516h0M601.3 539.2h0M670 514h0M670.4 560.3h0M652.6 566.4h0M658.1 508.7h0M666.3 563h0M635.9 562.4h0M594.1 519.1h0M685.7 577.9h0M615.2 453.6h0M572.5 512.4h0M597.4 518.9h0M624.8 468.8h0M633.5 460.2h0M651.3 530.1h0M622.2 449.7h0M677.8 574.4h0M673.9 585h0M608.7 462.3h0M660.3 469.2h0M658.3 562.7h0M605.7 565.8h0M687.9 531.2h0M620.8 525.7h0M637.6 555.4h0M578.1 492.6h0M582.7 548.5h0M627.6 475.4h0M630.2 507.7h0M668.1 570.4h0M672.1 500.9h0M572.5 520.9h0M573.8 500.7h0M610.9 494.2h0M665.9 450.1h0M614.2 550.1h0M586.5 574.1h0M578.3 566h0M657.9 500.7h0M625.2 480.5h0M642 545.6h0M679.2 515h0M642.4 526.8h0M582 507.9h0M610.8 557h0M659.3 519.6h0M566.9 459.6h0M679.6 507.6h0M679.4 535.4h0M592.4 574.7h0M687.9 490.7h0M635.9 537.8h0M590.9 494.3h0M652.8 512.1h0M652.6 573.8h0M649.6 518.7h0M676.5 491.6h0M667.9 504.5h0M575.5 509.1h0M600.7 526.5h0M642 578.7h0M616.8 568.1h0M620.5 463.3h0M598.6 525.5h0M626.4 579.3h0M568.8 550.5h0M619.7 450h0M676.2 460.8h0M604.3 533.9h0M664.9 572.2h0M577.1 560.4h0M670.4 551.2h0M602.1 551.9h0M646.5 507.1h0M632.4 503.8h0M657 494.4h0M617.8 579.6h0M617.5 486.8h0M597.8 460.8h0M615.9 533.4h0M674.7 577.3h0M630.3 516.3h0M631.6 525.8h0M686.2 529.7h0M635.2 538.9h0M640 474.1h0M664.9 452.5h0M603.9 510.5h0M681.4 465.4h0M645.5 527.2h0M617 555.8h0M685.8 524.5h0M679 466.9h0M593.1 476.2h0M643.8 481.8h0M668.6 398.9h0M584.7 414.2h0M652.3 418h0M680.7 431h0M678.8 440.7h0M631.1 400h0M588 423.3h0M652 443.1h0M664.9 394.7h0M586.7 397.2h0M598.9 408.2h0M671.2 430.7h0M640.3 444.5h0M577 423.9h0M677.6 425.6h0M623 427.3h0M646.7 424.5h0M645.7 395.2h0M588.9 443h0M617.4 400.4h0M611.1 398.1h0M637.2 432h0M664.9 427.9h0M639.6 427.3h0M627.4 408.3h0M596.6 427.8h0M607.2 384.3h0M627.8 387.8h0M639.7 381.5h0M691.7 522.6h0M701.1 519.4h0M696.3 520.5h0M689.2 554.9h0M693.5 556.9h0M663 732.9h0M632.3 751.9h0M683.3 752.8h0M603.7 716.8h0M687.2 746.9h0M589 737.1h0M587.1 718h0M635.6 710.9h0M596.2 713.5h0M609.7 701.8h0M628 703.7h0M644.7 695.4h0M636.7 698.7h0M674.3 727.8h0M573.3 697.4h0M672.3 744.5h0M583.1 743.1h0M594 749.5h0M582.6 748.1h0M619.1 731.8h0M654.5 701.4h0M575.8 721.1h0M605.6 735.6h0M596.4 746h0M656.7 779.5h0M578.7 767h0M638.3 789.2h0M604.4 758.9h0M587.1 757.2h0M664.8 777.3h0M642.6 796.9h0M703.8 434.4h0M699.9 556.6h0M707.4 539.3h0M695.9 392.5h0M698.3 690.3h0M702.7 399.2h0M704 550.1h0M703 614.5h0M707.8 701.5h0M699.9 617h0M706.1 732.6h0M702.1 592.8h0M704.4 583.9h0M702.5 726.2h0M699.2 611.6h0M698.1 703.8h0M700.2 404.2h0M695.1 500.6h0M705.1 517.8h0M700.9 456.7h0M696.6 598.4h0M696.1 709.5h0M707.9 602.3h0M700 719.3h0M701.8 587.4h0M820.3 720.5h0M815.9 677h0M818.9 519.2h0M812.3 492.2h0M814.5 653.7h0M809.5 573.6h0M808.9 709.2h0M809.3 658.1h0M812.7 762.8h0M818 464.2h0M815.6 556.9h0M809.6 723.9h0M814.5 527.2h0M820.6 468.6h0M808.9 555.2h0M819.8 481.8h0M816.4 656.2h0M817.2 449.2h0M820.7 483.9h0M812.2 508.6h0M814.2 747.8h0M818 567.1h0M821.4 691.7h0M817.7 649.4h0M819.4 510.7h0M899.1 590.6h0M895.8 585.8h0M893.3 666h0M895.8 697.5h0M903.9 601.3h0M893.7 528.9h0M899.8 753.4h0M897.5 636.5h0M893.8 798.7h0M903.4 766.7h0M897.6 784.9h0M901.1 754.7h0M893.8 749.6h0M940.1 427.2h0M945.1 405.8h0M933.6 436.4h0M914.6 425h0M927.6 435.4h0M946.5 432.1h0M940.7 409.2h0M944.9 419.3h0M984.6 522.4h0M984.1 717h0M984.9 708.4h0M984 554.6h0M988.9 629.6h0M981.5 567.1h0M1096.2 442.6h0M1098.8 597.1h0M1056 655.8h0M1089.3 552.1h0M1096.2 583.8h0M1068.6 737h0M1059.6 585.7h0M1097.9 696.2h0M1064.9 414.7h0M1058.7 548.6h0M1059.5 459.7h0M1070.1 680.5h0M1083.7 715.5h0M1070 477h0M1069 729.9h0M1056.6 668.1h0M1066 502.5h0M1098.5 453.7h0M1058.1 709.4h0M1051 625.2h0M1053.4 630.9h0M1077.8 732.2h0M1093.9 690.1h0M1047.3 586.9h0M1060.9 626.8h0M1093.5 615.8h0M1051.5 390.9h0M1077.8 433.7h0M1072.1 419.8h0M1058.3 618.6h0M1085.2 730.7h0M1055.1 636.7h0M1051.9 522.2h0M1049 433.3h0M1096.5 656.1h0M1056.3 494.3h0M1053.4 617h0M1065.2 402.9h0M1055.6 644.9h0M1070.7 479.8h0M1049.3 693h0M1057.1 594.2h0M1083.1 468.6h0M1076.3 695.7h0M1093.6 603.9h0M1050.8 645.8h0M1080.1 730.2h0M1071.6 561.5h0M1136.2 659.9h0M1126.3 701.4h0M1112.6 728.3h0M1117.9 724.4h0M1132.2 696.6h0M1130.8 703.9h0M1108.9 660.4h0M1128.7 747.5h0M1128.1 729.5h0M1106.8 715.7h0M1109.6 727h0M1129.2 715.3h0M1108 662.9h0M1134.3 687.6h0M1123.3 737.8h0M1115.8 727h0M1122.7 694.9h0M1099.4 740.3h0M1106.6 692.8h0M1126.7 747.6h0M1118.6 742.2h0M1137.7 669.1h0M1130.8 689h0M1100.1 678.6h0M1108.4 747.7h0M1118.7 741.3h0M1109.2 679.5h0M1091.8 657.5h0M1148.8 771.3h0M1167.2 765.9h0M1194.5 767.7h0M1168.4 767.1h0M1177.7 810.7h0M1190 809.8h0M1168.4 816.2h0M1200.5 794.6h0M1197.5 821.5h0M1181.7 814.4h0M1171.2 815.1h0M1202.1 814.5h0M1171.6 819.6h0M1176.1 772.9h0M1146.7 775.2h0M1178 798.3h0M1187.7 793.2h0M1181.6 783.7h0M1180.4 804h0M1205.9 792.4h0M1157.5 792.7h0M1202.9 793.3h0M1006.6 821.3h0M991.3 768.6h0M995.9 714.4h0M991.3 812.3h0M1010.3 805.3h0M1010.5 722.6h0M1003.9 770.5h0M999.2 804.8h0M1014.3 808.6h0M997.5 749.3h0M988.1 756.1h0M1005.8 801.7h0M1001.4 778.2h0M990.7 818.2h0M999.2 809h0M1012.7 734.5h0M1005.7 820.8h0M1000.1 783.9h0M1003.5 796.2h0M1002.5 763.8h0M996.8 715.5h0M991.4 720.3h0M830.8 376.9h0M837.5 363.6h0M860.1 368.9h0M852 377.7h0M1013.7 373.7h0M1013.8 373.1h0M1013.7 361.1h0M1019.2 375.7h0M1206.1 553.8h0M1207 609.8h0M1207.3 619.7h0M1205.8 594h0M1209 520.6h0M1206.2 568.2h0M1208 453.1h0M1203.3 456.6h0M1209.4 440.1h0M1208.4 446h0M1204.6 635.8h0M1207.6 502.6h0M1205.5 636.4h0M1203.5 580.8h0M1206.3 462.2h0M1206.1 440.9h0M1207.5 432.2h0M1206.8 673.3h0M1209.1 522.3h0M1206.2 510.9h0M1203.8 606h0M1203.9 537.5h0M1209.1 609.2h0M1207.3 508.5h0M1208 550.5h0M245 327.5h0M251.3 327.5h0M257.5 327.5h0M263.8 327.5h0M270.1 327.5h0M276.4 327.5h0M282.6 327.5h0M288.9 327.5h0M295.2 327.5h0M301.5 327.5h0M307.7 327.5h0M314 327.5h0M320.3 327.5h0M326.6 327.5h0M332.8 327.5h0M339.1 327.5h0M345.4 327.5h0M351.7 327.5h0M357.9 327.5h0M364.2 327.5h0M370.5 327.5h0M376.8 327.5h0M383 327.5h0M389.3 327.5h0M395.6 327.5h0M401.9 327.5h0M408.1 327.5h0M414.4 327.5h0M420.7 327.5h0M427 327.5h0M433.2 327.5h0M439.5 327.5h0M457.2 327.5h0M476.5 327.5h0M497.4 327.5h0M506.2 327.5h0M515.1 327.5h0M523.9 327.5h0M532.7 327.5h0M700.6 327.5h0M714.4 327.5h0M720.9 327.5h0M727.5 327.5h0M734 327.5h0M740.6 327.5h0M747.1 327.5h0M753.7 327.5h0M760.2 327.5h0M766.7 327.5h0M773.3 327.5h0M779.8 327.5h0M786.4 327.5h0M792.9 327.5h0M799.5 327.5h0M806 327.5h0M828.5 327.5h0M835.6 327.5h0M842.8 327.5h0M849.9 327.5h0M857 327.5h0M864.1 327.5h0M871.2 327.5h0M878.4 327.5h0M900.9 327.5h0M971.6 327.5h0M1000.5 327.5h0M1018.2 327.5h0M1021.4 327.5h0M1050.7 327.5h0M1114.7 327.5h0M1135.6 327.5h0M1142.3 327.5h0M1149.1 327.5h0M1155.9 327.5h0M1162.7 327.5h0M1169.5 327.5h0M1176.3 327.5h0M1183.1 327.5h0M1189.9 327.5h0M1196.6 327.5h0M396.1 711.3h0M403.2 711.3h0M410.3 711.3h0M417.5 711.3h0M424.6 711.3h0M431.7 711.3h0M438.8 711.3h0M445.9 711.3h0M254.6 842.7h0M263.5 842.7h0M272.3 842.7h0M281.2 842.7h0M290 842.7h0M302.9 842.7h0M347.9 842.7h0M373.6 842.7h0M383.2 842.7h0M392.9 842.7h0M415.4 842.7h0M457.2 842.7h0M463.8 842.7h0M470.5 842.7h0M477.1 842.7h0M483.7 842.7h0M490.3 842.7h0M497 842.7h0M503.6 842.7h0M510.2 842.7h0M516.9 842.7h0M523.5 842.7h0M530.1 842.7h0M536.8 842.7h0M543.4 842.7h0M550 842.7h0M556.7 842.7h0M563.3 842.7h0M601.9 842.7h0M630.8 842.7h0M643.7 842.7h0M695.1 842.7h0M701.7 842.7h0M708.3 842.7h0M715 842.7h0M721.6 842.7h0M728.2 842.7h0M734.8 842.7h0M741.4 842.7h0M748.1 842.7h0M754.7 842.7h0M761.3 842.7h0M767.9 842.7h0M774.5 842.7h0M781.1 842.7h0M787.8 842.7h0M794.4 842.7h0M801 842.7h0M807.6 842.7h0M843 842.7h0M849.2 842.7h0M855.4 842.7h0M861.6 842.7h0M867.8 842.7h0M874 842.7h0M880.2 842.7h0M886.4 842.7h0M892.7 842.7h0M898.9 842.7h0M905.1 842.7h0M911.3 842.7h0M917.5 842.7h0M923.7 842.7h0M929.9 842.7h0M936.1 842.7h0M942.3 842.7h0M948.5 842.7h0M954.7 842.7h0M960.9 842.7h0M967.2 842.7h0M973.4 842.7h0M979.6 842.7h0M985.8 842.7h0M992 842.7h0M998.2 842.7h0M1004.4 842.7h0M1010.6 842.7h0M1016.8 842.7h0M1023 842.7h0M1032.7 842.7h0M1043.9 842.7h0M1055.2 842.7h0M1090.5 842.7h0M1097.9 842.7h0M1105.2 842.7h0M1112.6 842.7h0M1119.9 842.7h0M1127.3 842.7h0M1134.6 842.7h0M1142 842.7h0M1187 842.7h0M1196.6 842.7h0M1206.3 842.7h0" fill="none" stroke="#ffa500" stroke-width="15" stroke-linecap="round"/><line x1="389.7" x2="389.7" y1="363.6" y2="688.1" stroke="#fff" stroke-width="1.8" stroke-dasharray="10 12 22 9 6 14 30 11" stroke-linecap="round"/><line x1="443.4" x2="443.4" y1="482.1" y2="688.1" stroke="#fff" stroke-width="1.8" stroke-dasharray="10 12 22 9 6 14 30 11" stroke-linecap="round"/><path d="M493.9 389.5h0M423.8 397.8h0M562.6 656.6h0M478.5 431.7h0M464.9 413h0M359.3 537h0M495.7 545.1h0M462.9 409.5h0M445.8 383.5h0M559 674.8h0M449.1 467.2h0M544.6 517h0M339.6 485.9h0M383.3 434.7h0M472 545.8h0M488.9 412.9h0M535.1 519.9h0M482.1 679.1h0M314.2 411.4h0M526.2 507.2h0M544.5 574.5h0M467.3 439.9h0M450.9 621.9h0M417.3 635.4h0M356.6 379.8h0M473.6 391h0M551.5 414.3h0M398.9 554.7h0M489.6 420.9h0M320.8 546.3h0M332.1 598.7h0M325.6 530.1h0M437.2 562.3h0M359.5 443.1h0M351.1 435.4h0M420.7 471.2h0M402.1 496.9h0M456 576.9h0M400 414.7h0M325.1 514.7h0M503.8 546.6h0M346.8 467.1h0M542.8 654.8h0M401.1 629.7h0M488.2 438h0M455.4 524.8h0M327.8 565.4h0M479.2 450.7h0M501.3 564.2h0M471.3 413.2h0M530.3 515.3h0M538.9 638.8h0M545.7 636.1h0M381.3 502h0M438.8 466.3h0M561.2 577.2h0M506.5 610.4h0M416.6 516.7h0M512 407.8h0M431.2 486.1h0M720.3 673.6h0M1012.8 737.6h0M891.9 475h0M1111.8 462h0M1001.3 555.5h0M1059.2 707h0M1076.8 666h0M816.1 592.9h0M931.1 593.3h0M1169.9 702.3h0M1042 697.3h0M1039.8 670.3h0M715.9 696.2h0M812.2 505.9h0M907.7 587.4h0M1176.4 571h0M730.3 663.8h0M960.8 518.3h0M899.7 673h0M902.4 521h0M913.8 522.7h0M861 481.3h0M997.1 645.3h0M1013.7 449.1h0M766.1 524h0M746.4 636.9h0M815.3 539.7h0M989.6 604.4h0M1073.1 667.2h0M950.8 585h0M789.7 590.2h0M904 552h0M717.5 676.2h0M786.4 552.8h0M1044.1 611.3h0M1020.7 487.1h0M1066.3 442.3h0M1064.3 664.7h0M850.8 511.5h0M816.5 634.2h0M856.4 523.7h0M811 672.2h0M1079.2 694.8h0M766.4 559.1h0M880 666h0M716.1 653.5h0M833.6 717.8h0M725.3 644.6h0M1012.5 555.8h0M1051.4 427.5h0M1078.7 437.7h0M1186.7 695.7h0M1181.8 534.7h0M1181.5 584.2h0M932.3 411.7h0M856.1 468.1h0M792.9 728.1h0M961.1 717h0M950.7 450.9h0M1183.2 677.6h0M445.6 494.1h0M434.8 579.2h0M446.9 550.4h0M448 534.2h0M445.5 449.9h0M448.2 465.4h0M435.8 421.6h0M449.9 553.6h0M439.9 561.3h0M439.6 512.3h0M434.7 584.5h0M448.3 537.9h0M437.1 415.4h0M440.8 566.7h0" fill="none" stroke="#fff" stroke-width="3.5" stroke-linecap="round"/><path d="M639.6 669.3h0M611.6 590.1h0M681 589.8h0M673.5 682.9h0M626.8 686.5h0M584.2 684.1h0M686.6 596.5h0M658.5 621.3h0M677.5 620.6h0M634.6 635.2h0M644.6 686.5h0M622.2 610.1h0M582.8 620.7h0M575.1 650.2h0M575.8 669h0M632.1 605.3h0M773.6 697h0M774.3 698.4h0M797.8 708.6h0M770 711.5h0M748.2 721.5h0M756.3 707h0M720.9 713.8h0M769.5 775.9h0" fill="none" stroke="#fff" stroke-width="7" stroke-linecap="round"/><path d="M1184.8 684.9h0M1120.9 617.4h0M1191.5 436.4h0M1120.8 543.4h0M1198.3 667.7h0M1149.2 527.4h0M1196.8 435.6h0M1189 635.5h0M1137.3 578.8h0M1136.6 420.6h0M1190.5 511.1h0M1145.1 636.6h0M1002.7 670.6h0M903.7 750.5h0M1038.9 588.6h0M1030.1 678.7h0M898.6 763.2h0M852.8 439.4h0M831.8 614.8h0M892.8 735.3h0M1009.5 555.7h0M887.1 527.1h0M852.4 485.7h0M830.8 756.6h0M910.8 526.3h0M899 419.5h0" fill="none" stroke="#fff" stroke-width="6" stroke-linecap="round"/></g><path d="M245 585.1L1241.7 585.1" fill="none" stroke="#000" stroke-width="6" stroke-linejoin="round"  stroke-dasharray="19 10" stroke-linecap="butt"/><path d="M261.1 506.9L266.5 505.9L272 503.3L277.5 503.7L282.9 504.7L288.4 504.4L292.3 507.8L296.1 511.3L300 516.2L303.8 520L308.4 519.9L313.1 521.1L317.7 524.9L322.4 523.6L327.1 523.2L331.8 520.6L337.4 516.3L343.1 514.9L348.7 516.9L354.3 517.6L356.5 512.4L358.7 507.2L360.8 503.5L363 500.2L368.3 496.7L373.6 493.6L375.5 490.9L377.5 486.9L379.4 480.6L381.7 485.4L384.1 491.5L386.5 495.6L388.5 500.3L390.5 506L392.5 510.4L394.5 514L395.9 507.2L397.4 504.1L398.8 500.4L400.3 491.2L403 494.9L405.8 501.6L411.4 502.4L417 504.5L422.6 505.8L428.3 504L429.2 508.7L430.1 515.6L431 521.9L431.9 526.9L432.8 531L433.7 535.3L435.6 539.1L437.6 543L439.5 547.9L440.2 554.7L441 562.6L441.7 567.8L442.4 571.1L443.1 575.2L443.8 580.9L444.6 586.8L445.3 590L446.7 593.1L448 598.1L449.4 602.9L450.8 608.5L460.4 610.4L465.2 611L470.1 613.6L474.9 618.3L479.9 616.9L484.8 613.2L487.5 606.8L490.1 601.9L492.7 599.2L495.3 596.3L498 591.6L500.6 585.2L503.3 579.9L506 576.6L508.7 572.3L511.4 566.1L514.1 560.8L516.1 567.7L518.1 575.8L520.1 581.5L522.1 585.3L524.1 591.3L526.4 596.4L528.8 599L531.2 603.4L533.6 609.6L536 614.2L541.6 618.2L547.2 623.2L553.3 622.6L559.4 622.8L560.6 617.4L561.8 611.7L563 607.2L564.1 601L565.3 595L566.5 590.6L568.9 585.1L571.3 580.2L573.7 574.5L576.1 567.5L581.1 572.6L586 579L590.9 582.1L596.1 580.3L601.2 583L606.4 586.2L611.5 585.4L616.4 579.3L621.4 573.4L626.3 569.1L631.4 571.7L636.6 571.2L641.7 571.8L646.9 576.3L653.3 578.2L659.7 578.1L666.2 576.8L671.5 573.1L676.9 571L682.2 569L684.2 573.6L686.1 578.6L688 582.8L690 588.7L691.9 595L693 598.9L694 603.3L695.1 608.1L696.2 612L697.2 618.1L698.3 624.7L706.7 620L707.4 613.7L708.2 608.7L709 603.6L709.8 597.9L710.5 591L711.3 586.1L712.1 583L712.8 577.2L713.6 570L714.4 563.8L717.6 561.5L720.8 560.1L724 555.9L727.2 549.5L728.9 543.4L730.5 540.3L732.1 536.8L733.7 531.3L735.3 525.2L736.9 519.6L738.5 513L740.1 505.7L744.4 509.2L748.7 514.5L753 517.9L755.5 520.9L758.1 525.6L760.7 531.8L763.3 534.6L765.8 536.3L768.4 540.9L773.7 545.2L778.9 549.5L784.2 551.9L789.8 549.5L795.5 547.6L801.2 546.9L803.4 552.3L805.5 556.9L807.7 560.2L809.9 563.9L811.3 569L812.7 574.2L814.1 580.1L815.5 586.3L816.9 590.3L817.6 584L818.2 579.5L818.8 574.2L819.4 569L820 565.7L820.6 561.8L821.2 557.5L821.9 552.4L822.5 545.8L823.1 541.5L823.7 536.6L831.4 536.2L832.4 542.6L833.5 547.6L834.5 553.9L835.5 560.6L836.6 565.3L839.8 570.1L843 577L846.2 582.1L849.4 586.1L852.6 591.6L856.7 595.3L860.7 598.8L864.7 604.6L868.7 609.2L873.3 612L877.9 616.1L882.5 619.2L885.7 612.5L889 607.5L892.2 603.9L892.7 600.2L893.2 595L893.7 588.2L894.2 581.3L894.7 576.7L895.2 573.2L895.7 567.6L896.2 561.9L896.7 557.4L897.1 550.9L897.6 543.6L906 540.6L906.4 547.4L906.7 551.9L907.1 555.6L907.4 561.4L907.8 566.9L908.1 570.7L908.5 576.5L908.8 584L909.2 588.5L909.5 591.5L909.9 596.8L911 603L912.2 607.8L913.3 611.9L914.5 616.4L915.6 621.8L916.8 627.5L917.9 633.6L919.2 641.4L920.5 647.5L921.8 653.6L927 651.7L932.2 649.7L937.4 648.3L942.7 646.9L948.8 646.7L954.9 645.5L961 643.6L967.1 642.7L972.3 640.9L977.6 638.6L982.8 635.9L983.4 632.1L983.9 628.1L984.5 620.5L985 613.2L985.6 609.6L986.1 606.6L986.7 600.7L992.5 602.9L998.3 607.2L999.4 601.4L1000.6 594.9L1001.7 590.5L1002.9 586L1004 580.2L1005.2 575.6L1006.3 570.5L1013.4 568.7L1015.8 574.1L1018.2 581.3L1020.6 585.1L1023 588.7L1029.5 591.8L1035.9 594.1L1037.8 600.3L1039.7 606.6L1041.7 611.1L1043.6 617L1048.2 621.4L1052.8 626.5L1057.4 632.6L1058.1 626.3L1058.8 617.9L1059.5 610L1060.2 604.5L1060.9 601.1L1061.6 597.5L1063.3 602.6L1065 606.3L1066.6 611.6L1068.3 616.9L1070 620.9L1070.7 616.8L1071.4 613L1072.1 607.1L1072.8 601.6L1073.5 596.9L1074.2 592L1074.9 586.6L1075.6 580.4L1076.3 574.5L1077 569.8L1080.5 566.1L1083.9 562.2L1087.3 557.7L1088.9 561.7L1090.5 569.5L1092.2 577.6L1093.8 582.2L1095.4 587.3L1097 594.4L1100.8 590.2L1104.7 583.9L1112.1 582.1L1119.5 580.2L1123.5 575.5L1127.5 571.4L1131.5 567.2L1135.6 563.5L1142 562.3L1148.4 561.2L1154.8 560.9L1159.9 559.9L1165 557.8L1170 555.5L1175.1 555.9L1178.9 562.2L1182.7 565.4L1186.4 568.1L1190.2 571.7" fill="none" stroke="#ff0000" stroke-width="12.5" stroke-linejoin="round" stroke-linecap="round"/><g font-family="'DejaVu Sans','Liberation Sans',sans-serif" fill="#4a4a4a" stroke="#4a4a4a" stroke-width="0.5"><text x="214" y="856.2" font-size="35" text-anchor="end">0.0</text><text x="214" y="753.2" font-size="35" text-anchor="end">0.2</text><text x="214" y="650.1" font-size="35" text-anchor="end">0.4</text><text x="214" y="547.1" font-size="35" text-anchor="end">0.6</text><text x="214" y="444" font-size="35" text-anchor="end">0.8</text><text x="214" y="341" font-size="35" text-anchor="end">1.0</text><text x="245" y="897" font-size="35" text-anchor="middle">0</text><text x="405.8" y="897" font-size="35" text-anchor="middle">5</text><text x="566.5" y="897" font-size="35" text-anchor="middle">10</text><text x="727.2" y="897" font-size="35" text-anchor="middle">15</text><text x="888" y="897" font-size="35" text-anchor="middle">20</text><text x="1048.8" y="897" font-size="35" text-anchor="middle">25</text><text x="1209.5" y="897" font-size="35" text-anchor="middle">30</text><text x="938" y="961" font-size="55" text-anchor="middle" fill="#333" stroke="#333" stroke-width="0.3">position (Mb)</text><text transform="translate(132 574) rotate(-90)" font-size="55" text-anchor="middle" fill="#333" stroke="#333" stroke-width="0.3">SNP-index (2)</text></g><clipPath id="c2"><rect x="244.3" y="1016.3" width="996.5" height="538.7"/></clipPath><line x1="245" x2="245" y1="1016.3" y2="1555.0" stroke="#d9dade" stroke-width="2.6"/><line x1="405.8" x2="405.8" y1="1016.3" y2="1555.0" stroke="#d9dade" stroke-width="2.6"/><line x1="566.5" x2="566.5" y1="1016.3" y2="1555.0" stroke="#d9dade" stroke-width="2.6"/><line x1="727.2" x2="727.2" y1="1016.3" y2="1555.0" stroke="#d9dade" stroke-width="2.6"/><line x1="888" x2="888" y1="1016.3" y2="1555.0" stroke="#d9dade" stroke-width="2.6"/><line x1="1048.8" x2="1048.8" y1="1016.3" y2="1555.0" stroke="#d9dade" stroke-width="2.6"/><line x1="1209.5" x2="1209.5" y1="1016.3" y2="1555.0" stroke="#d9dade" stroke-width="2.6"/><line x1="244.3" x2="1240.8" y1="1555" y2="1555" stroke="#d9dade" stroke-width="2.6"/><line x1="244.3" x2="1240.8" y1="1452" y2="1452" stroke="#d9dade" stroke-width="2.6"/><line x1="244.3" x2="1240.8" y1="1349" y2="1349" stroke="#d9dade" stroke-width="2.6"/><line x1="244.3" x2="1240.8" y1="1245.9" y2="1245.9" stroke="#d9dade" stroke-width="2.6"/><line x1="244.3" x2="1240.8" y1="1142.9" y2="1142.9" stroke="#d9dade" stroke-width="2.6"/><line x1="244.3" x2="1240.8" y1="1039.9" y2="1039.9" stroke="#d9dade" stroke-width="2.6"/><path d="M244.3 1555.0V1016.3H1240.8" fill="none" stroke="#d9dade" stroke-width="2.5"/><line x1="244.3" x2="1240.8" y1="1555.0" y2="1555.0" stroke="#d9dade" stroke-width="2.5"/><g clip-path="url(#c2)"><path d="M238.1 1452.8L238.1 1564.5L362.9 1564.5L364.5 1502.6L395.3 1502.6L396.9 1528.4L433.7 1528.4L451.5 1522.7L465.3 1531L555.5 1531L560.5 1512.9L563.9 1384.2L648.6 1384.2L665.4 1375.2L679.8 1356.7L685.9 1322.7L685.9 1288.2L667.3 1238.6L651.8 1218.7L634.8 1196L614.9 1200.5L562.7 1191.9L560.6 1175.2L548.1 1140.1L528.8 1098.8L520.4 1074.2L496.8 1074.2L491.6 1088.9L475.2 1115.1L458.3 1144.6L456.6 1210.7L434.4 1210.7L430.3 1184.8L425.5 1112.9L420.2 1089.7L401.1 1089.7L390 1147.3L384.9 1146.9L382.3 1084.5L374.7 1084.5L373.1 1228.8L312 1228.8L310.4 1318.6L261.3 1321.2L260.6 1452.8Z" fill="#008000" fill-rule="evenodd"/><path d="M709.1 1297.5L709.1 1502.1L718.1 1520.7L797.6 1520.7L812.9 1491.7L812.9 1273.6L801.6 1258.2L801 1092.2L796.2 1073.1L785.1 1070.1L775 1090.4L765 1066.5L724.9 1066.5L720.4 1143.5L710.7 1220.6Z" fill="#008000" fill-rule="evenodd"/><path d="M828.1 1112.1L828.1 1322.9L847.1 1510.9L858.1 1520.7L878.3 1520.7L882 1502.9L882 1117.6L877.3 1087.6L870.7 1066.5L855.1 1066.5L853.5 1097.4L837.4 1097.4L835.7 1071.7L829.5 1071.7Z" fill="#008000" fill-rule="evenodd"/><path d="M894.6 1071.7L894.6 1404.8L900.6 1404.8L900.6 1071.7Z" fill="#008000" fill-rule="evenodd"/><path d="M916.5 1194.9L916.5 1512.5L924 1528.4L969.9 1528.4L975.2 1502.9L975.2 1194.7L972.5 1159.2L922.1 1159.2Z" fill="#008000" fill-rule="evenodd"/><path d="M996.9 1235.7L996.9 1492.2L1008.1 1525.8L1034.2 1525.8L1041.1 1492.6L1042.1 1246L1039.6 1144.7L1023.6 1119.2L1020.2 1086.4L1012.6 1135.2L1000 1150.3Z" fill="#008000" fill-rule="evenodd"/><path d="M1109.4 1246.1L1109.4 1389.7L1118.1 1440.8L1195.4 1440.8L1208.3 1399.6L1208.3 1226.2L1194.1 1175.4L1185.6 1143.8L1136.5 1143.8L1134.9 1182.4L1112.3 1182.4Z" fill="#008000" fill-rule="evenodd"/><path d="M380.3 1108.5h0M426.1 1145.1h0M288.8 1324.9h0M549.8 1525.2h0M419 1102.8h0M665 1366.3h0M278.5 1558.6h0M313.2 1237.9h0M239.5 1488.2h0M385.3 1149.1h0M558 1463.5h0M458.8 1154.4h0M671.6 1366.1h0M378.2 1086.6h0M559.3 1483.5h0M377.8 1123.8h0M238.5 1485.9h0M684.2 1323.8h0M556.5 1496.1h0M421.7 1133.3h0M558.6 1183.4h0M394.2 1134.4h0M394.9 1499.1h0M653.8 1374.7h0M654.3 1224.1h0M298.5 1320.3h0M473.6 1127.2h0M397.2 1526.1h0M607.7 1201.3h0M374.2 1146h0M379.7 1498.3h0M313.5 1281.1h0M558.3 1488.1h0M619.7 1379.1h0M675.1 1268.7h0M261.3 1404.2h0M563.7 1197h0M552.8 1170.9h0M415.1 1093.3h0M682.7 1320.3h0M239.9 1561.7h0M460.3 1206.3h0M413.3 1093.3h0M681.6 1337.5h0M460.2 1195.1h0M550.1 1151.6h0M399.6 1503.7h0M546.3 1143.1h0M519.3 1078.9h0M426.3 1187.3h0M467.2 1528.3h0M359.9 1552.2h0M459.7 1156.1h0M381.2 1086.6h0M250.2 1455.4h0M562.6 1412.7h0M316.7 1271.8h0M330 1233.1h0M535.4 1120.5h0M446.5 1213h0M389.2 1147.2h0M666.2 1243h0M619.6 1202.3h0M265.9 1441.9h0M313.1 1237.9h0M264.2 1334.8h0M257 1454.7h0M422.4 1131.3h0M329.1 1233.3h0M493.9 1089.2h0M677.6 1355h0M560.3 1178h0M652.9 1381.4h0M557 1418.5h0M248.8 1457.2h0M475.4 1126.1h0M635.7 1205.6h0M380.9 1142.9h0M566.9 1378.6h0M462.3 1177.2h0M420 1095.7h0M266.6 1397.1h0M458.5 1147.3h0M538.5 1126.4h0M527.1 1104.3h0M403.8 1103.4h0M421.5 1111.4h0M375.1 1498.3h0M664.9 1246.3h0M430.1 1209.2h0M680.5 1310.1h0M457.2 1524.1h0M460.5 1180.4h0M561.5 1184h0M278.6 1562.7h0M556.9 1452.4h0M403.4 1527.2h0M256.6 1561.9h0M263.6 1368.4h0M380.3 1121.3h0M521.3 1530.6h0M458.7 1151.5h0M380.6 1139.4h0M316.9 1233.1h0M666.3 1241.7h0M496.7 1089h0M375.1 1148.9h0M398.3 1126.1h0M265.3 1406.2h0M361.6 1531.2h0M630.4 1379.5h0M606.3 1204h0M462.5 1180.4h0M381.7 1087h0M522.5 1526.1h0M580.1 1194.8h0M642.3 1210h0M558.3 1518.5h0M478.8 1111.6h0M241.4 1534.5h0M257.2 1563.8h0M370.6 1232.1h0M432 1199.4h0M631.9 1200.2h0M517.8 1081.8h0M677.9 1278.8h0M239.6 1494.6h0M587.4 1200h0M254.7 1454.7h0M557.7 1167.4h0M378 1189.7h0M265.9 1435.7h0M301.3 1561.5h0M495.8 1526.4h0M561.1 1486.1h0M560 1512.9h0M557.3 1192.7h0M459.7 1145.4h0M381.6 1113.6h0M377 1190.2h0M621.2 1199.1h0M266.9 1360.4h0M520.1 1087.6h0M402.4 1104.9h0M496.1 1085.1h0M356.6 1234.3h0M241.4 1556.6h0M589.7 1199.2h0M642.7 1209.3h0M567.7 1378.4h0M425.3 1162.5h0M261.7 1437.3h0M362.3 1561.7h0M243.8 1478.5h0M273.2 1325.9h0M243.2 1488.6h0M318.7 1560.8h0M479.2 1118.2h0M660.3 1375.7h0M424 1133.6h0M562.2 1193.2h0M361.7 1507.6h0M299.1 1559.2h0M615.1 1381.7h0M359.2 1504.3h0M383.5 1151.6h0M633.5 1202.5h0M428.3 1169.4h0M409.7 1094.1h0M423.4 1165.2h0M360 1542.6h0M517.3 1082h0M240.4 1471.1h0M450.4 1519.7h0M552.9 1520.5h0M313.2 1261.8h0M242.4 1529.3h0M569.5 1381.1h0M499.7 1081.6h0M313.4 1312.8h0M392.1 1148.8h0M406.7 1523.3h0M398.7 1119.2h0M396.6 1131.2h0M590.9 1199.5h0M685.8 1311.9h0M605.3 1378.6h0M314.9 1242.5h0M563.6 1386.5h0M462.2 1190.9h0M559.9 1509.1h0M555.5 1508h0M381.9 1132.2h0M402.5 1103.1h0M619.5 1204.5h0M642.1 1384.1h0M423.9 1152.2h0M334 1561.1h0M667.4 1242.9h0M314.8 1263.7h0M381.5 1104.6h0M396.7 1518.8h0M626.3 1199.6h0M402.2 1100.5h0M265.2 1391.6h0M634.3 1378.9h0M265.5 1427h0M242.1 1479.9h0M361.8 1563.6h0M675.6 1270.9h0M567.4 1382.5h0M449.3 1522.6h0M460.2 1180.7h0M307.7 1323.9h0M680.1 1299h0M361.7 1562.6h0M459.4 1184.9h0M283.5 1563.7h0M426.6 1166.5h0M362.1 1230.8h0M261.1 1432.7h0M239.6 1512.2h0M593.1 1383.6h0M264.4 1350.2h0M313.9 1278.2h0M264.8 1363h0M568.4 1378.6h0M242.6 1490.1h0M241.5 1543.1h0M562.9 1405.1h0M461.9 1153.4h0M685.8 1321.5h0M662.6 1373.1h0M518.4 1525.8h0M378.8 1093.6h0M491.7 1094.8h0M587.2 1379.1h0M378.9 1101.7h0M359.1 1534.3h0M678.7 1354h0M383.7 1120.3h0M368.5 1230h0M241.9 1485h0M265.6 1397.2h0M374.8 1204.6h0M626.6 1382.8h0M293 1320.1h0M274.1 1562h0M606 1201.6h0M286.9 1320.1h0M670.8 1256.1h0M493.3 1086.5h0M422.7 1142.7h0M646.4 1219.8h0M450 1522.3h0M361.1 1520.9h0M539.8 1525.1h0M679.6 1281.3h0M642.6 1210.1h0M562.1 1439.4h0M243.4 1538.5h0M291.1 1562h0M477.5 1116.2h0M657.9 1229.7h0M630.3 1381.1h0M528.6 1529.3h0M501.7 1079.4h0M545.5 1149.4h0M426.4 1526.2h0M473.1 1126.6h0M485.9 1108.1h0M314.5 1242.4h0M557.7 1467.9h0M577.8 1195.5h0M399.5 1527.1h0M375.3 1113.6h0M363.6 1530.3h0M592.3 1201.5h0M678.2 1347.3h0M379 1154.4h0M396.3 1506.9h0M631.3 1381.5h0M419.2 1527.9h0M662.4 1239.3h0M559.8 1424.7h0M240.6 1549.9h0M620.1 1200.5h0M283.7 1559.8h0M585.3 1378.6h0M265.5 1380.9h0M242.6 1496.4h0M461.8 1150.7h0M542.1 1530.3h0M554.8 1165.6h0M266.4 1385.9h0M374.3 1181.6h0M404.3 1092.5h0M556.1 1478h0M505 1077.6h0M652.8 1381.5h0M266.2 1360.8h0M558.6 1170.5h0M608.5 1379.3h0M601.5 1203.3h0M294.8 1560.4h0M640.7 1207.6h0M316.5 1231.4h0M552 1155.6h0M685.2 1324.6h0M560 1422.2h0M304.9 1560.6h0M294.8 1561.5h0M378.3 1123.5h0M391.4 1142.7h0M361.7 1554.7h0M420.8 1122.4h0M460.3 1157.3h0M421.5 1528.1h0M272.7 1559.8h0M560.8 1446.7h0M555.3 1486.9h0M271 1325.7h0M314.9 1257.8h0M490.8 1093.4h0M560.5 1490.5h0M683.4 1319.1h0M643.7 1212.2h0M395.7 1146h0M396.5 1128.2h0M266.7 1361.8h0M666.6 1249.9h0M378.5 1110.8h0M561.3 1469.4h0M556.5 1495.1h0M262 1410.6h0M374.7 1095.7h0M366.3 1502.1h0M596 1203.2h0M401 1507.7h0M595.2 1202.1h0M316.9 1260h0M505.4 1077.7h0M450.3 1517.5h0M464.1 1146.4h0M369.6 1230.7h0M315.5 1319.3h0M459.7 1200.1h0M678.3 1333.1h0M379.6 1156.9h0M402.8 1111.8h0M383.5 1118h0M501.5 1526.6h0M392.8 1140.5h0M422.7 1121.6h0M240 1536.3h0M528.6 1102.5h0M425.6 1192h0M265.3 1385.3h0M536.4 1127.7h0M383 1126.1h0M460.2 1181.7h0M240.6 1520.8h0M495.1 1528.4h0M636.4 1379.8h0M550 1155.1h0M241 1564.3h0M401.4 1518.8h0M292.8 1323.9h0M320.1 1562.8h0M241 1534.2h0M312 1323.1h0M426.4 1195.1h0M396.3 1135.7h0M338.2 1562.7h0M632.6 1200.9h0M492.2 1088h0M592.2 1198.8h0M650.7 1377.5h0M240.8 1525.2h0M622.1 1199.3h0M614.7 1378.4h0M677.7 1274.9h0M561.4 1382.7h0M559.1 1383.4h0M604.1 1381.5h0M401.7 1514.6h0M240.8 1491.6h0M678.6 1285.6h0M683.6 1323.3h0M461.8 1150.4h0M420.3 1111.7h0M424.4 1141.2h0M561 1394.6h0M585.6 1200h0M391.5 1146.8h0M661.3 1370.8h0M261.5 1446.8h0M558 1468.9h0M380.5 1136.7h0M671.7 1252h0M369.9 1498.6h0M265.6 1388.9h0M239.2 1559.9h0M352.4 1558.9h0M378.9 1144.1h0M422.9 1163.4h0M561 1188.1h0M624.3 1203.2h0M378.7 1167.6h0M517.1 1079.4h0M374.8 1085.9h0M376.3 1209.1h0M539.1 1526.1h0M667.3 1241.2h0M311.9 1247.2h0M244.1 1486.7h0M494.3 1525.5h0M263.9 1396.5h0M316.2 1255.5h0M558.7 1497.4h0M594.1 1202h0M241.5 1473h0M393.7 1138.4h0M376.8 1146.3h0M680.6 1322.1h0M414.9 1528.2h0M580.9 1380.9h0M640.4 1205.6h0M414 1090.8h0M260.4 1454h0M677.3 1265.9h0M358.2 1530.5h0M313.3 1246.6h0M636.9 1207h0M262.3 1326.7h0M419.7 1104.5h0M333 1228.9h0M514.6 1529.9h0M431.8 1527.7h0M263.3 1439.2h0M242.3 1527.7h0M556.9 1445.2h0M427.9 1524.1h0M559.8 1428.4h0M480 1107.8h0M405.7 1089.8h0M400.5 1513.9h0M683.2 1306.7h0M462.8 1185.8h0M262.4 1423.5h0M506.8 1075.2h0M239.3 1462.4h0M313.8 1265.9h0M561.8 1460.5h0M312.1 1258h0M394 1133.6h0M610.3 1378.4h0M459.3 1148.5h0M650.8 1382.7h0M243 1472.3h0M574.6 1382.6h0M326.7 1230.3h0M680.6 1297.6h0M630.4 1197.7h0M397.3 1110.1h0M557.8 1515.3h0M381.1 1124.3h0M559.6 1393.8h0M316.2 1296.7h0M429.4 1523.8h0M265.2 1392.7h0M639.5 1206.7h0M561 1426.9h0M465.8 1530.4h0M429.2 1191.1h0M544.1 1525.4h0M660.6 1235.4h0M435.1 1524.5h0M681 1291.3h0M379.8 1162.7h0M512.5 1527.8h0M532.1 1108.6h0M651.6 1222.7h0M376.1 1229.5h0M398.8 1522.9h0M308 1559.1h0M678.6 1275h0M426.8 1160.4h0M511.7 1530.8h0M395.2 1126.7h0M557.5 1180.9h0M425.8 1127.7h0M657.4 1230h0M682.8 1309.5h0M675.6 1357h0M451.7 1517.9h0M363 1530.5h0M464.2 1143.4h0M664.4 1238.3h0M462.5 1164h0M663.5 1234h0M637.7 1379h0M262.1 1393.1h0M300.5 1319.8h0M560.2 1195.2h0M558.8 1180.6h0M309.6 1320.1h0M551.3 1525.8h0M400.3 1110.8h0M316.8 1229.2h0M248.8 1561.1h0M607.3 1378.3h0M674.6 1263.2h0M378 1135.8h0M681 1311.5h0M471.4 1128h0M534.9 1123h0M314.1 1237.3h0M664.4 1374.3h0M311.4 1270.5h0M525.2 1527.6h0M475.8 1118.9h0M603.2 1200.4h0M680.1 1292.3h0M378.9 1112.6h0M422.5 1524.6h0M322 1231.3h0M558.6 1478.3h0M373.8 1212h0M393.6 1132.6h0M376 1106.6h0M278.4 1563h0M589.7 1378.9h0M458.4 1148h0M277.1 1561.2h0M240 1528h0M638.9 1211h0M676.4 1349.9h0M540.7 1130h0M425.9 1527.2h0M360.5 1562.5h0M378.8 1107.1h0M450.4 1213.8h0M262.6 1326.3h0M429.4 1212.7h0M612.5 1384h0M432.1 1528.4h0M378.6 1172h0M677.8 1268.9h0M252.6 1563.1h0M298.6 1320.9h0M649.2 1380h0M375.8 1225h0M275.4 1560.2h0M475.3 1528.7h0M378.2 1209.4h0M427.3 1191.4h0M561.3 1458.5h0M662.3 1375.1h0M265 1361.3h0M304.8 1564.3h0M676.5 1268.4h0M378.6 1221.9h0M649.2 1377.5h0M359.4 1539.1h0M799.8 1156.1h0M720 1512.9h0M715 1494.2h0M713.2 1338.3h0M798.4 1098.6h0M803.1 1509.6h0M713 1311.7h0M711.5 1323.2h0M709.8 1392.7h0M710.3 1271.4h0M717.7 1200h0M712 1404h0M713 1307.5h0M799.6 1087.3h0M796.4 1107.2h0M713.8 1315.4h0M721 1154.6h0M725.6 1094.8h0M798.2 1113.1h0M723.9 1162.3h0M797.9 1107.1h0M718.6 1182.5h0M795.6 1194h0M713.2 1398.7h0M714.2 1479h0M805.2 1501.3h0M800.8 1152.6h0M797.3 1135.8h0M799.3 1101.4h0M729.5 1081.3h0M735.3 1070.8h0M759.5 1519.4h0M753.5 1068.9h0M714 1295.6h0M781.3 1518.3h0M710.6 1413h0M710.7 1324.4h0M712.1 1405.5h0M779.7 1517.9h0M780.5 1084.3h0M810 1463.7h0M810.8 1372.4h0M811.1 1486.6h0M714 1271.4h0M710.3 1303.4h0M728.8 1520.2h0M715.5 1259.4h0M758.8 1519h0M713.8 1480h0M796.8 1091.1h0M711 1421h0M715 1249.5h0M712.9 1346h0M797.4 1511.6h0M798.7 1168.3h0M714.5 1200.9h0M782.1 1080.8h0M711 1284.9h0M715.1 1460.1h0M809.9 1342.4h0M711 1405.3h0M713.2 1446.7h0M798.3 1256.1h0M723.5 1131.2h0M800.6 1180.6h0M810.8 1337.1h0M742.6 1071.6h0M717.5 1186.8h0M752.6 1069.7h0M713.5 1285.8h0M712.5 1311.6h0M728.1 1067.1h0M796.2 1083h0M802.2 1500.2h0M785.1 1080.7h0M710 1297.9h0M782.5 1519.3h0M809.5 1419.5h0M812.4 1334.2h0M795.9 1227.6h0M711.1 1453.2h0M812.4 1283.4h0M799.9 1152.1h0M713.6 1210.5h0M782.3 1078.4h0M811.3 1470.1h0M807.4 1305h0M787.3 1079h0M724.7 1135.4h0M800.8 1122.7h0M711.2 1501.2h0M716 1199.9h0M710.6 1358.8h0M796.2 1084.3h0M774.9 1092.9h0M719.7 1184.7h0M800.1 1148.2h0M792 1075.9h0M742.3 1520.1h0M740.1 1518.4h0M795.6 1225.3h0M801 1247.3h0M800.4 1171.9h0M709.8 1377h0M807 1411.8h0M807.1 1465.8h0M716.6 1176.7h0M711.7 1387h0M725 1081.4h0M799.8 1097.2h0M715.7 1223.8h0M713.6 1306.2h0M725.6 1122.4h0M727.1 1095.9h0M763.5 1519.1h0M715.3 1262.8h0M808.5 1362.3h0M715.3 1193.8h0M719 1192.8h0M753 1517.8h0M723.8 1115.4h0M807.7 1318.9h0M725.2 1147h0M709.3 1410.6h0M727.5 1094.1h0M714.4 1435.8h0M719.2 1173.6h0M711.4 1430.9h0M709.2 1313.4h0M750.9 1514.8h0M797.8 1163.7h0M795.9 1246.5h0M710.3 1489.7h0M788.4 1519.8h0M812 1466.9h0M711.5 1427.8h0M799.5 1161.9h0M776.7 1519.5h0M798.6 1510.7h0M724.7 1120.9h0M721.5 1167.3h0M712.8 1326.6h0M784.2 1083.1h0M801.1 1250.5h0M752.7 1515.9h0M783 1516.9h0M796 1141.4h0M712.3 1459.6h0M714.1 1459.7h0M806.6 1493.7h0M711.4 1345.7h0M709.2 1500h0M772.6 1093.6h0M711.8 1260h0M801.5 1255.8h0M798.7 1138.2h0M715.9 1211.2h0M710 1483.8h0M798.8 1203.7h0M805 1504.1h0M714.3 1270h0M735.7 1069h0M801.2 1254.8h0M711.1 1248.9h0M809.6 1316.5h0M712.8 1312.2h0M809.6 1382h0M714.6 1197.1h0M710.1 1268.7h0M777.2 1089.3h0M714.5 1327.2h0M809.5 1320.4h0M810.4 1405.3h0M806.9 1472.4h0M711.4 1249.5h0M795.3 1092.5h0M712.8 1325.1h0M709.2 1342.3h0M805.5 1495.4h0M809.5 1350.1h0M796.7 1169h0M807.4 1307.5h0M713.4 1471.6h0M717.3 1185.7h0M808.8 1281h0M710.1 1287h0M772.3 1091.9h0M715.3 1218.9h0M729.2 1085.5h0M807.5 1472.7h0M711.1 1436.3h0M758.2 1520.3h0M811.8 1308.6h0M714.6 1480.5h0M808.2 1328.6h0M811.4 1305.3h0M797.9 1247.2h0M720.7 1149.7h0M810.8 1405.9h0M799.1 1239.5h0M723.1 1147.1h0M769.9 1086.1h0M796 1256.9h0M737.2 1068.1h0M736.5 1518.7h0M713.6 1380.9h0M716.1 1199.4h0M779.5 1515.6h0M811.4 1425.8h0M810.6 1393.4h0M796.9 1086.6h0M811.2 1380.8h0M712.8 1426.3h0M711.7 1424.9h0M809.6 1275.1h0M782 1088.3h0M799.5 1155.6h0M730.9 1071.7h0M715.4 1214.6h0M809.9 1369.1h0M809.5 1396.9h0M723.9 1115.7h0M725 1110.7h0M795.8 1154.3h0M798 1091.6h0M719.7 1181.8h0M709.6 1441.2h0M712.5 1340.7h0M776.2 1517.7h0M773.3 1088.8h0M799.5 1107.1h0M720.5 1179.8h0M724.1 1086.7h0M798.4 1254.9h0M812.1 1312.1h0M710.7 1348h0M809.2 1373.7h0M810.4 1347.6h0M811.2 1451.3h0M806.3 1492h0M710.7 1503.2h0M798 1514.4h0M716.8 1201.5h0M722.7 1161h0M798.9 1147.5h0M777.8 1519.8h0M723.8 1119.3h0M808.1 1369.9h0M811.1 1448h0M709.9 1327.1h0M810.9 1293h0M811 1305.3h0M796.6 1113.1h0M714.1 1383.6h0M709.4 1452.6h0M808.3 1359.2h0M710.4 1299.1h0M799.3 1264.1h0M716 1253.9h0M800.1 1122.2h0M810 1465h0M768.4 1088.1h0M712 1476.9h0M713.5 1414h0M716.3 1211.8h0M807.2 1438.7h0M715 1413.6h0M807.6 1404.1h0M808 1481.5h0M811.4 1488.6h0M784.8 1518.7h0M711.7 1284.3h0M799.2 1087.5h0M807.1 1318.6h0M710.9 1363.6h0M714.7 1442.8h0M721.3 1155.8h0M800.4 1182.2h0M807.3 1442.4h0M720.5 1142.6h0M795.8 1216.4h0M779.2 1518.3h0M712.9 1388.1h0M809.5 1317.4h0M772.8 1093.6h0M768.9 1519.1h0M799 1202.7h0M711.7 1281h0M722.5 1135.7h0M719.2 1185.6h0M774.3 1094.3h0M841.7 1409h0M877.7 1150.3h0M881.3 1204.2h0M880.6 1330.3h0M833.1 1317.7h0M843.6 1440.8h0M876.2 1168.9h0M850.1 1501.7h0M836.6 1090.2h0M879.8 1397.2h0M880.9 1294.7h0M832.8 1165h0M836.6 1102.3h0M876.8 1304.9h0M832.1 1354.9h0M878.8 1105.7h0M881.5 1487.1h0M833.7 1354.3h0M836.5 1383.1h0M876.3 1192.2h0M830.3 1073.9h0M831.5 1199.7h0M829 1110.9h0M831 1159.8h0M879.6 1233.3h0M880.6 1503.1h0M844.2 1473.7h0M859.7 1080.1h0M834.1 1086.9h0M829.6 1148.5h0M877.1 1208.9h0M831.4 1256.9h0M834.5 1331.7h0M839.4 1420.4h0M877.5 1439.2h0M873.3 1516.2h0M877.9 1243.8h0M880.9 1233.2h0M832.8 1166.5h0M831 1344.1h0M828.3 1167h0M828.8 1259.2h0M878.5 1320.8h0M833.7 1086.5h0M838.8 1381.5h0M876.1 1510.1h0M850.5 1494.6h0M828.7 1283h0M828.9 1181.3h0M830.8 1165.3h0M878.4 1276.8h0M881.6 1284.5h0M880.3 1220.4h0M880.1 1279.4h0M875.9 1510.1h0M878.8 1360.6h0M832 1312.6h0M877.2 1332.2h0M857.9 1098.9h0M877.4 1334.9h0M832.5 1152.4h0M878.4 1155.3h0M867.4 1519.1h0M831.6 1088.3h0M880.3 1436.5h0M836.7 1398.3h0M828.9 1324.7h0M871 1075.9h0M876 1236h0M832.5 1302.6h0M831.5 1218.9h0M834.6 1086.1h0M841.5 1447.9h0M881.3 1248.5h0M832.1 1246.7h0M836 1400.3h0M880.2 1412h0M830.1 1105.1h0M877.8 1472.2h0M876.7 1436.9h0M831.4 1349.2h0M853.6 1512.4h0M838 1393.7h0M880.8 1145.9h0M839.3 1424h0M877 1108.8h0M830.4 1299.6h0M860.3 1073.6h0M829.4 1075.8h0M828.1 1249.8h0M834.5 1383.7h0M833.5 1227.3h0M866.1 1071.6h0M877.6 1218.5h0M829.3 1189.1h0M873.9 1102.1h0M879.3 1312.8h0M881.3 1367.2h0M881.3 1409.6h0M831.9 1342.4h0M839.5 1429.1h0M833.7 1280.9h0M835.9 1362.9h0M854.4 1098.5h0M828.8 1135.6h0M834 1223.3h0M830.9 1085.6h0M871.7 1517.1h0M881.4 1148.9h0M842.7 1447.1h0M879.2 1375.4h0M833.6 1248h0M877.2 1313.3h0M844.5 1469h0M881 1423.2h0M830.5 1212.2h0M877.2 1503.6h0M829.4 1307.5h0M876.3 1319.1h0M833.3 1330.5h0M846.3 1444.7h0M835.4 1351.6h0M880.8 1151.4h0M880.2 1256h0M879 1399.8h0M833.5 1178h0M878.7 1248.3h0M843.4 1436.2h0M831.1 1310.1h0M829.9 1102.4h0M878.4 1116.3h0M880 1254.5h0M856.2 1066.6h0M847.8 1465.9h0M881.8 1433.3h0M878.7 1148.3h0M876.6 1409.6h0M838.6 1383.5h0M876 1260.9h0M833.2 1135.4h0M876.5 1454.7h0M830.9 1152.8h0M844.1 1438.6h0M857 1515.1h0M831.5 1338.9h0M846 1447.1h0M852.9 1097.6h0M833.7 1322.6h0M832.9 1351.8h0M833 1257h0M876.1 1396.6h0M833.7 1229h0M878.4 1393.3h0M831.5 1167.6h0M830.4 1151h0M835.5 1078.4h0M833.4 1169.6h0M881.4 1221.8h0M837.2 1399.6h0M876.7 1490.6h0M856.6 1099.3h0M829.8 1240h0M832.5 1312.3h0M846.3 1501.4h0M879.6 1142.6h0M843.7 1101.5h0M876.1 1394.9h0M833.8 1135.7h0M868.6 1516.3h0M877.5 1169h0M881.4 1350.6h0M832.4 1305.4h0M878.4 1158.2h0M878.9 1107.8h0M877 1506h0M876.4 1197.9h0M878.7 1332.9h0M846.3 1102.4h0M876.9 1191.7h0M857.9 1100.5h0M881.9 1486.5h0M856.2 1074.2h0M868.8 1072.9h0M833.4 1193.5h0M878.8 1401.7h0M876.2 1107.4h0M855 1091.1h0M839.4 1404.8h0M848.2 1481h0M880.5 1493.5h0M878.6 1234.6h0M879.1 1453.6h0M828.3 1253.5h0M875.6 1102h0M878.4 1124.4h0M830.8 1234h0M834.6 1347.6h0M879 1381.3h0M850.9 1510.8h0M846.3 1480.6h0M879.7 1361.5h0M847.5 1507.5h0M855.9 1070.7h0M836.4 1355h0M834.1 1169.6h0M876 1358.9h0M877.1 1333.3h0M881 1344.5h0M880.2 1456.5h0M842.1 1432h0M843.4 1417.7h0M830.9 1241.6h0M832.3 1181.8h0M877 1492.6h0M879.5 1341.8h0M830.2 1227.9h0M831.7 1206h0M878.2 1388.1h0M872.5 1515h0M881.5 1393.5h0M880.4 1418.8h0M832.8 1305.7h0M833.8 1148.9h0M880.9 1452.1h0M829.4 1314.7h0M870.8 1078.9h0M836.1 1394.3h0M842.8 1454.1h0M881.3 1191.5h0M846.5 1485.3h0M878 1156.6h0M839 1375.3h0M881.6 1317h0M878.9 1485.1h0M880 1106.4h0M878.9 1312.2h0M845.6 1476.5h0M856.8 1511.9h0M840.7 1442.9h0M833.1 1098.8h0M848.8 1484.9h0M836.9 1372.6h0M833.2 1323.9h0M836.2 1370.3h0M876.8 1415.4h0M877.4 1262h0M876.8 1266h0M876.4 1336.7h0M845.4 1450.7h0M856.3 1084.6h0M877.2 1116.3h0M881.9 1400.6h0M881 1477h0M881.5 1426.9h0M830.6 1332.6h0M829.8 1090.9h0M831.6 1235.4h0M879.6 1181.5h0M839.1 1373.2h0M833.1 1259.2h0M879.4 1305.4h0M832.8 1207h0M828.3 1165.9h0M881.5 1194.5h0M881.9 1209.6h0M828.3 1122h0M831.2 1238.8h0M828.3 1304.9h0M895.6 1112.4h0M898.2 1135.2h0M897.7 1382.5h0M895 1130.4h0M899.2 1252.6h0M897.2 1282.8h0M898.1 1307.1h0M897.7 1072.8h0M897.8 1319h0M896.7 1120.2h0M895.3 1299h0M895.1 1279h0M897.6 1268.2h0M898.3 1158.2h0M897.8 1223h0M898.5 1105.3h0M899.2 1077.2h0M896 1128.4h0M895.4 1271.2h0M899.6 1367.7h0M895.3 1172.3h0M899.8 1141.2h0M894.8 1354.1h0M899.1 1221.6h0M899.5 1128.5h0M900.3 1398.5h0M897.2 1365.9h0M899.1 1204.5h0M896.7 1380.4h0M895.3 1264.6h0M895 1249.6h0M898.9 1336.8h0M898.7 1118.2h0M900.2 1162h0M899.5 1143h0M896.9 1108.5h0M896.6 1329.8h0M898.6 1267.7h0M900.3 1398.1h0M900.6 1334h0M898.7 1282.9h0M896.4 1287.2h0M896.7 1349.1h0M897.3 1156.6h0M895.8 1323.6h0M899.3 1330.1h0M896.4 1147.3h0M898.5 1347.6h0M895.4 1189.6h0M900.4 1372.7h0M899.2 1212.6h0M896.2 1082.5h0M897.2 1214h0M898.9 1142h0M899.1 1175.2h0M896.1 1360.7h0M897.5 1132.2h0M895.8 1205.5h0M897.3 1213.6h0M896 1094.3h0M898.9 1094.1h0M897.3 1378.4h0M899.5 1392.1h0M898.9 1151.4h0M900.2 1323.5h0M895.4 1190.1h0M898.3 1255.2h0M900.2 1344.5h0M899.5 1328.8h0M897.5 1162h0M895.7 1289.5h0M899.9 1151.6h0M895.6 1112h0M899.8 1122.2h0M896.1 1111.8h0M900.2 1319.8h0M895.3 1153.5h0M895.5 1194.4h0M895.9 1217.7h0M898.6 1295.2h0M900.6 1162.4h0M897.2 1260.5h0M898.5 1143h0M896.3 1203.3h0M896.2 1133.2h0M897 1153.7h0M896.5 1326.5h0M900.3 1227.3h0M898 1105.4h0M897.9 1144.1h0M921.2 1456.7h0M926 1172.2h0M924.3 1162.8h0M972.1 1307.2h0M918.8 1217.8h0M922.1 1323h0M974.7 1214.2h0M974 1456.6h0M971.3 1350h0M921 1413.5h0M973.7 1214.9h0M974.5 1253.8h0M921.2 1511.3h0M916.8 1304.2h0M963.5 1523.2h0M917.4 1307.2h0M971 1425.1h0M924 1166.5h0M974.1 1199.7h0M973.2 1306.7h0M967.2 1514.1h0M972.8 1205.7h0M919.5 1513.2h0M970.3 1455h0M917.4 1414.4h0M922.3 1523.3h0M920.2 1251.7h0M970.2 1259.8h0M971.2 1387.7h0M920 1480.1h0M918.5 1504.5h0M974.6 1451.6h0M973.3 1257.9h0M969.5 1397.3h0M916.6 1236.9h0M918.7 1344.9h0M921.9 1373.5h0M917 1362.2h0M918 1282.3h0M919.2 1281.3h0M968.4 1519.4h0M972.4 1234.9h0M919.4 1180.1h0M971.5 1485h0M972.7 1422.5h0M922.2 1481.2h0M919.9 1279.3h0M920 1498.2h0M960.1 1160.7h0M971.9 1364h0M969 1519.6h0M917.6 1387.4h0M917.8 1310h0M970.2 1199.1h0M974.7 1486.4h0M968.6 1527.5h0M916.6 1284.9h0M970.4 1518.8h0M970.7 1488.1h0M972.8 1460.5h0M968.6 1180.8h0M970.6 1503h0M917.6 1462.3h0M926.3 1164.8h0M916.6 1294.5h0M917.1 1375.9h0M919 1241.4h0M969.7 1174h0M969.4 1395.4h0M972.7 1311.8h0M920.9 1419.7h0M974.9 1195.5h0M973 1287.2h0M974.2 1339.1h0M916.8 1195.2h0M921.9 1242.6h0M973.5 1463.3h0M971.7 1248h0M921.2 1377.8h0M973.6 1308.1h0M974.3 1337.3h0M925 1174.1h0M974.1 1418.1h0M964.5 1527.8h0M919.6 1188.2h0M972.7 1311.3h0M971.3 1219.6h0M918.8 1304.4h0M970.9 1190.8h0M970.8 1409h0M916.8 1195.6h0M973.6 1217.7h0M922.4 1258h0M971.2 1472.2h0M920.6 1233.2h0M916.8 1384.7h0M917.5 1191h0M972 1183h0M917.5 1273h0M922 1513.9h0M921.5 1278.8h0M973.7 1460.4h0M969.9 1524.2h0M921.8 1168h0M920.6 1324.4h0M919.6 1365.6h0M970.3 1463.2h0M939.1 1160h0M922.2 1361.6h0M970 1501.2h0M918.8 1276.4h0M974.9 1397.1h0M918.7 1348h0M969.6 1401.6h0M918.7 1229.4h0M920.1 1272.7h0M917.8 1406.7h0M967.8 1525.4h0M969.6 1165.5h0M917.7 1314.8h0M922.8 1525.6h0M924.5 1179.3h0M970.2 1246.7h0M969.3 1286.9h0M941 1522.5h0M974.2 1364.2h0M922.1 1185.6h0M920 1238.4h0M919 1345.5h0M974.9 1230.6h0M920 1289.5h0M921.1 1249.5h0M967.3 1523.5h0M974.5 1269h0M969.8 1214.6h0M970.6 1303.7h0M922.1 1439.8h0M969.4 1375.9h0M923 1159.4h0M920.1 1501.7h0M918.3 1378.4h0M973.6 1458.7h0M969.4 1195h0M918.7 1192.6h0M919.4 1205.6h0M973.1 1211.5h0M916.9 1263.3h0M974.5 1237.7h0M916.8 1403.3h0M970.1 1409.5h0M919.5 1224.3h0M919.6 1353.1h0M971.4 1233.2h0M921.8 1311.8h0M969.4 1428.2h0M969 1514.6h0M921.4 1189.8h0M970.7 1493.1h0M971.4 1478h0M922 1292.5h0M969.6 1227.6h0M924.6 1179.7h0M922.4 1327h0M919.2 1215.8h0M972.8 1192.7h0M919.5 1471.7h0M921.8 1299.1h0M966 1160.8h0M922.3 1201.7h0M916.6 1299.6h0M920.2 1308.3h0M931.3 1163.9h0M920.8 1273h0M919.1 1214.2h0M969.4 1211.8h0M971.6 1321.1h0M918.4 1433.9h0M969.4 1256.9h0M970.9 1175.1h0M952.2 1525.5h0M920.4 1208.7h0M918 1316.4h0M918.1 1248.4h0M972.2 1468.9h0M973.2 1396.9h0M970.5 1397.6h0M920.7 1479.1h0M969.8 1352.6h0M924.9 1175.1h0M918.5 1294.8h0M972.2 1207.3h0M937.6 1523h0M968.7 1515.8h0M939 1164.9h0M916.6 1468.3h0M917.9 1369h0M970 1172.8h0M941.4 1527.6h0M918 1435.6h0M920.4 1226.9h0M920.2 1453.8h0M972.4 1321.2h0M962.1 1161.8h0M928.3 1163.2h0M921.3 1344.1h0M920.2 1279.8h0M920.4 1342.5h0M920.4 1293.8h0M970 1326.7h0M972.7 1295.7h0M972 1213.1h0M917.8 1460.1h0M916.7 1474.3h0M921.5 1486.8h0M929.6 1526.1h0M974.7 1487.2h0M971.5 1178h0M974.1 1391.9h0M974.8 1276.6h0M921.3 1495.6h0M972.3 1512.6h0M926.9 1164.1h0M1036.5 1309.3h0M1031.6 1523.4h0M1041.2 1322.9h0M997.5 1419.6h0M999.8 1290.6h0M1038.6 1307.7h0M1041.6 1279.4h0M1037.4 1206.7h0M1040.2 1381.5h0M1041.1 1328h0M998 1295.9h0M1001 1343.3h0M1036.9 1427.3h0M1003.6 1192.5h0M1035.9 1413.7h0M1003.8 1155.9h0M1039.2 1349.4h0M1037.2 1235h0M1036.6 1247.2h0M1037.3 1286.7h0M1031.1 1136.2h0M1034.4 1501.6h0M1003.9 1148.2h0M1039.7 1399.3h0M1035.9 1484.5h0M1039.4 1265.7h0M1040.6 1346.1h0M1038.7 1227.7h0M1038.9 1398.6h0M1036.4 1418.7h0M1020.1 1104.3h0M997.6 1276.5h0M1002.2 1315h0M1004.1 1171.7h0M997.3 1469.8h0M1037.3 1382.4h0M1038.8 1315.6h0M1014 1131.1h0M1001.2 1182.2h0M1002.2 1484.1h0M1037.1 1212.8h0M1018.4 1119h0M1017.7 1111.2h0M1036.6 1339.7h0M1036.2 1152.1h0M1038.4 1145.3h0M1003.5 1200.6h0M1002 1468.4h0M1001.1 1225.7h0M1035.5 1418h0M1002.3 1311.5h0M999.4 1278h0M1039.6 1213.3h0M1036.7 1316.1h0M1039.6 1351.4h0M1036.7 1148.6h0M1010.4 1146.3h0M1037.8 1433.5h0M1013.2 1524.8h0M1037.1 1156.8h0M1037.9 1219.5h0M1040.9 1208.7h0M1002.1 1304.7h0M1040.3 1426h0M999.7 1324.1h0M1038.7 1145.8h0M1039.6 1212.8h0M1024.5 1525.4h0M1019.9 1099.7h0M1036 1370.8h0M1038.1 1307h0M1023.7 1126h0M998 1374.5h0M998.9 1229.4h0M1000.7 1379.3h0M1040.4 1233.2h0M1001 1442h0M1039.1 1176h0M1035.8 1388.9h0M1038.7 1163.6h0M1002.5 1240.3h0M1026.9 1124.6h0M1038 1403.9h0M1003.2 1224.4h0M1000.7 1230.6h0M1037.3 1460.7h0M1016 1117.2h0M1039.6 1452.9h0M1001.6 1378.8h0M1002.1 1470.2h0M999.6 1301.7h0M999.6 1370h0M1000.3 1150.4h0M1037.8 1346.3h0M1041.4 1414.3h0M1039.2 1264.7h0M1001.4 1229.5h0M1005.2 1161.5h0M1000.5 1383.6h0M1001.1 1324.3h0M1035.5 1455.1h0M1001.6 1446.6h0M1037.1 1206.2h0M1039.5 1202.1h0M1003.1 1231h0M997.1 1389.9h0M1037.3 1155.1h0M1019 1098h0M1001 1503.7h0M1019 1122h0M998 1382h0M1039.5 1304.7h0M1038.8 1487.7h0M1039.6 1334.5h0M1038.8 1257.8h0M1036 1410.8h0M1000.7 1174.5h0M1035.9 1469h0M1002 1400.8h0M1040.3 1344.2h0M1000.5 1311.3h0M1028.9 1134.1h0M1027.6 1524.2h0M997.3 1422.4h0M1009.3 1147.9h0M1003.7 1206.9h0M1002.1 1352.1h0M1000.3 1345.7h0M1038.8 1228.4h0M1040.9 1458h0M1036.7 1393.6h0M1040.6 1324.5h0M1018.4 1123.6h0M998.4 1217.9h0M1000.6 1153.2h0M1001.7 1284.8h0M1011.8 1522.2h0M997.4 1318.1h0M1039.7 1279.4h0M998.4 1432.9h0M999 1442.9h0M1002.4 1413.8h0M1037 1205.3h0M1005.6 1159h0M1002.5 1210.3h0M1002.3 1223h0M1023.3 1520.2h0M1002.4 1467.9h0M1038.6 1239.4h0M1039.4 1469.8h0M1019 1114.2h0M1037.7 1320.4h0M1000.2 1260.8h0M1041.2 1307.7h0M997.7 1338.7h0M1039.9 1477.3h0M1002 1240.3h0M1039.9 1296h0M1038.7 1414.9h0M1006.9 1521.1h0M997.3 1254.8h0M1041.6 1367.1h0M1019.7 1092.5h0M1021 1126.1h0M1039.1 1405.7h0M1002.3 1160.4h0M1016 1138.7h0M999.7 1350.5h0M1032.5 1134.4h0M1040.9 1205.7h0M998.6 1278.9h0M1035 1189.2h0M1038.3 1189.9h0M999.9 1476.1h0M1037.9 1251.9h0M1001.6 1231.8h0M1033.5 1137.5h0M1001.2 1408.2h0M997.2 1274.2h0M997.4 1398.3h0M1040.1 1485.3h0M1036.1 1160.7h0M1038.4 1428h0M1038.3 1255.2h0M1017.5 1522h0M1005.2 1503h0M1000.1 1351.9h0M1021.4 1524.2h0M1038.2 1487.5h0M1006.9 1149.8h0M1036.4 1254.7h0M997.8 1314.3h0M1040.7 1405.9h0M1033.4 1508.2h0M1035.5 1495.3h0M1001.8 1392.6h0M1037.7 1355.8h0M1036 1323.2h0M1013.4 1139.6h0M1038.1 1182.3h0M1040.2 1425.3h0M1038.9 1368.3h0M1037.1 1260.9h0M1001.6 1353.5h0M1036.6 1297.5h0M1035.8 1384.3h0M997.2 1405.4h0M1002.2 1495.7h0M1039.5 1440.3h0M1002.2 1504.2h0M1002.4 1167.3h0M1038.4 1195h0M1036.5 1325.3h0M1036.1 1243.5h0M1038.1 1308.6h0M1038.2 1381.7h0M1040.1 1319h0M1038.3 1170.2h0M1036 1230.3h0M1037 1299.2h0M1032.2 1513.7h0M1009 1514.5h0M1039.7 1157.1h0M1000.6 1183.1h0M1038.9 1372.5h0M1000.7 1478.4h0M1012.2 1524.1h0M1038.1 1336.8h0M1040 1435h0M1004.7 1185h0M1002 1303.6h0M1000.2 1358.8h0M1001.8 1190.4h0M1012 1138.5h0M1109.9 1320.2h0M1179.2 1435.4h0M1204.4 1368.2h0M1110.6 1362.8h0M1198.1 1415.2h0M1111.6 1323.3h0M1144 1144.9h0M1174.9 1146.6h0M1118.1 1438.2h0M1112.2 1258.7h0M1113.7 1234h0M1205.5 1361.9h0M1139.7 1157.8h0M1205.3 1341.4h0M1117.5 1414h0M1110.1 1334h0M1193.4 1439.7h0M1196.2 1197.5h0M1207.4 1381.9h0M1204.5 1250.9h0M1116.2 1419.4h0M1160.5 1148.7h0M1111 1358.5h0M1111.3 1249.2h0M1191.3 1177.3h0M1206.9 1278.8h0M1121.4 1187.2h0M1110.7 1261.8h0M1203.2 1260.5h0M1115.2 1401.9h0M1137 1437.5h0M1202.9 1323h0M1112.3 1262.8h0M1110.5 1343.2h0M1207.9 1327.6h0M1207 1322.5h0M1113.2 1394.5h0M1138.4 1156h0M1162.6 1436.3h0M1190.7 1181.8h0M1136.3 1180.1h0M1190.1 1166.1h0M1115.9 1220h0M1111.2 1392.2h0M1136.4 1436.1h0M1115.7 1188.2h0M1115.8 1213.8h0M1115.2 1415.3h0M1195.6 1201.5h0M1118.2 1409.5h0M1115.2 1303.8h0M1138.7 1147.9h0M1114.3 1372.6h0M1184.2 1153.8h0M1205.5 1347.1h0M1202.3 1280.3h0M1208.1 1248h0M1147.6 1439.6h0M1111.2 1320.5h0M1135.7 1164.3h0M1137.3 1154.6h0M1204.8 1286.1h0M1114.9 1191.7h0M1202.4 1307h0M1109.7 1369.2h0M1126.5 1438.1h0M1112.4 1336.5h0M1117.1 1401.6h0M1188.5 1158.1h0M1115.2 1333.7h0M1203.5 1260.7h0M1113.9 1264.8h0M1203.5 1273.2h0M1189 1177h0M1155.1 1145.7h0M1112.8 1185.6h0M1206.8 1233.6h0M1204.6 1352.2h0M1141.1 1162.4h0M1115.3 1300.7h0M1203.5 1300.1h0M1112.5 1359.8h0M1188.1 1159.4h0M1205 1247.4h0M1110 1266.3h0M1135.5 1440.2h0M1115.3 1249.6h0M1206.3 1260.5h0M1203.5 1238.2h0M1113.1 1262h0M1195.8 1188.7h0M1153.1 1440.7h0M1110 1252.3h0M1205.4 1247.1h0M1113.2 1393.5h0M1203 1288h0M1205.4 1379.2h0M1203.7 1295.6h0M1117.7 1185.6h0M1206.1 1249.3h0M1140.7 1438.5h0M1113.6 1336.4h0M1190.8 1182.4h0M1140.6 1437.7h0M1192 1176.3h0M1205.6 1330.3h0M1112.3 1284.7h0M1114.9 1371.6h0M1176 1149.6h0M1185.9 1149.2h0M1185.7 1435.2h0M1185.5 1166.4h0M1116.8 1397.9h0M1110.8 1382.6h0M1204.6 1262.8h0M1169.8 1439.7h0M1111.4 1382h0M1140.1 1184.4h0M1111.7 1289.9h0M1146 1435.8h0M1192.9 1179.1h0M1137.8 1146.9h0M1200.4 1409.4h0M1197.7 1188.7h0M1170.8 1148.9h0M1115.4 1380.7h0M1206.5 1364.8h0M1208.1 1370.3h0M1204.4 1292.6h0M1113.7 1287.4h0M1207.6 1230.2h0M1112.7 1310.2h0M1208.3 1256.3h0M1205.1 1296.8h0M1197.9 1202.6h0M1204.1 1222.6h0M1112.7 1311.5h0M1110.8 1227.4h0M1207.6 1292.2h0M1193.1 1432.7h0M1113.8 1399.2h0M1115.2 1293.8h0M1202.5 1417.3h0M1113.1 1402h0M1194.2 1181h0M1151.6 1144.4h0M1141.3 1153.8h0M1112.6 1326.4h0M1111.1 1318.1h0M1205.9 1389.5h0M1112.2 1288.8h0M1115.9 1424.7h0M1132.1 1438.2h0M1116 1190.1h0M1114.9 1254.7h0M1111.8 1349h0M1112 1229.4h0M1109.6 1333h0M1129.1 1187.8h0M1206.6 1229.2h0M1197.2 1207.2h0M1196.3 1429.2h0M1110.1 1248.3h0M1202.3 1217.2h0M1208.2 1255.4h0M1120 1418.6h0M1113.8 1244.8h0M1204.3 1264.4h0M1136.3 1186.9h0M1110.2 1334.7h0M1174.7 1439.2h0M1204.3 1375.4h0M1111.9 1220.9h0M1110.3 1343.8h0M1111.6 1402.4h0M1204 1341.7h0M1206.8 1305.1h0M1205.7 1307h0M1198.6 1418.2h0M1202.9 1256.3h0M1156.6 1439.8h0M1140.1 1180.2h0M1115.1 1262.4h0M1137.8 1164.6h0M1206.1 1406h0M1110.7 1277.8h0M1117.3 1434.4h0M1202.4 1406.8h0M1207.8 1397.4h0M1137.8 1154.4h0M1110.4 1303.5h0M1195.6 1439.5h0M1111.7 1357.4h0M1113.6 1241h0M1111 1367.5h0M1202.7 1356.8h0M1205.4 1223.1h0M246.7 1351.3h0M247.3 1358.6h0M245.1 1394.5h0M250.2 1425.8h0M247.6 1392.8h0M249.5 1435.6h0M248.3 1367.6h0M251.2 1424.2h0M251.1 1369.3h0M248.6 1356.9h0M288.2 1239h0M288.7 1251.7h0M279.2 1294.2h0M284.1 1244.5h0M297.2 1288h0M258.7 1239.2h0M269.3 1283.6h0M275.4 1242h0M261.4 1277h0M273.6 1276.5h0M299.5 1263h0M267.5 1248.3h0M273.3 1275.4h0M268.4 1289h0M290.3 1237h0M281.4 1257.3h0M291 1243.3h0M277.1 1263h0M295.5 1273.1h0M300.4 1290.4h0M274 1296.3h0M282.1 1280.7h0M277.4 1244.5h0M284.2 1286.7h0M304.3 1267.6h0M288.9 1277.6h0M274.5 1245.5h0M294.8 1249.4h0M288.7 1245.3h0M271.4 1278.3h0M261 1288.3h0M276.6 1237.8h0M263.6 1254.7h0M288.3 1290.9h0M267.6 1252h0M287.2 1292.1h0M284.3 1206.2h0M263.4 1092.4h0M275.6 1119h0M297.3 1098.8h0M276.2 1216.5h0M281.5 1144.2h0M281.2 1222.9h0M284.3 1193.4h0M303.3 1207h0M288.7 1199.4h0M270.1 1095.3h0M299.2 1169.3h0M286.5 1121.4h0M264.2 1151.2h0M314.3 1182.6h0M313.5 1164.4h0M309.3 1214h0M309.5 1166.9h0M323.9 1193.7h0M319.7 1163.8h0M309.1 1221.3h0M311.3 1194.7h0M327.3 1221h0M309.7 1157.3h0M309.5 1146.6h0M358.5 1207h0M334.2 1211.5h0M343 1146.4h0M351.7 1171.7h0M343.5 1132h0M358.5 1149.5h0M348.3 1179.4h0M350.5 1126.9h0M334.8 1220.8h0M367.1 1200h0M362.1 1170.9h0M357.5 1121.6h0M360.2 1118.2h0M366.8 1182h0M358.2 1136.7h0M355.5 1177.9h0M359 1126.2h0M361.5 1114.6h0M342.8 1207.4h0M345.8 1122.7h0M339.9 1125.5h0M342.6 1129.3h0M332.4 1169.4h0M367.5 1141.4h0M355.6 1161.3h0M332.9 1149.1h0M368.5 1170.3h0M339.2 1186.3h0M361.2 1197.6h0M356.2 1175.5h0M355.5 1095.8h0M364.9 1087.6h0M333.4 1088.9h0M327.2 1101.6h0M338.9 1103.8h0M364.8 1112.9h0M363.9 1535.8h0M385.1 1522h0M363.1 1517.5h0M366 1525.2h0M361 1508h0M377.8 1526.3h0M366.4 1507.5h0M364.5 1524.3h0M441.2 1098h0M437.2 1137.2h0M437.3 1191h0M443.1 1159.9h0M441.4 1188.5h0M445 1181.6h0M442.4 1121.2h0M440.3 1149.6h0M448.7 1131.8h0M449.7 1174.2h0M443.5 1134.6h0M449.1 1156.8h0M445.5 1201.4h0M446.8 1127.4h0M436.8 1183.5h0M436.9 1191.6h0M450.5 1529.3h0M435.3 1529.8h0M414.6 1531.7h0M439.9 1509.3h0M397.8 1523.1h0M450.3 1535.9h0M413.3 1519.3h0M440.6 1532.7h0M438 1508.1h0M402 1516.2h0M407.2 1517.1h0M427.6 1530.6h0M471.1 1082.4h0M463.8 1084.4h0M465 1078h0M478.1 1077.4h0M460.1 1108.7h0M472.1 1084.1h0M546.9 1097h0M562.6 1109.1h0M551.2 1097.3h0M570.2 1094.1h0M597.5 1154.1h0M654.5 1181.5h0M652.4 1112.1h0M585.6 1137.3h0M598.9 1175.5h0M653.1 1129.7h0M644.7 1146.7h0M582.3 1179.6h0M625.1 1142.6h0M646.8 1132.4h0M648.7 1117.7h0M578.7 1150.5h0M633.7 1174.3h0M631.2 1150.8h0M672.7 1138h0M629.6 1129.8h0M569.3 1146.6h0M619.7 1164.1h0M628.9 1109.2h0M586.9 1113.1h0M572.1 1138.2h0M644.5 1140.4h0M602.5 1128.8h0M605.3 1134.6h0M664 1150.7h0M622.2 1154.2h0M583 1174.7h0M644 1144.5h0M596.3 1145.6h0M594.6 1165.7h0M678.9 1144.5h0M671.6 1116.3h0M630.5 1150.6h0M581.7 1133.7h0M697.3 1166.3h0M694.1 1249.2h0M693.8 1206.8h0M699.7 1384.7h0M692.7 1252.6h0M693.5 1385.7h0M696.7 1260.8h0M691.2 1392.9h0M577.9 1403.6h0M577.6 1425.7h0M651.8 1419.4h0M589.5 1444.8h0M596.4 1421.4h0M633.2 1397.5h0M570 1435.5h0M628.5 1439h0M569.5 1412h0M617.6 1451.6h0M584.1 1451.8h0M614.9 1407.1h0M632.3 1405.3h0M632.6 1424.5h0M578.6 1438.1h0M615.4 1412.6h0M607.4 1392h0M615.6 1434.5h0M631.3 1443.7h0M566.9 1392.1h0M635.5 1396.7h0M584.8 1394.7h0M592.9 1414.3h0M618.9 1425.6h0M583.9 1406.5h0M608.1 1445.6h0M607.8 1432.6h0M571.9 1449.6h0M633.6 1437.8h0M599.4 1390.7h0M648.6 1464.9h0M700.7 1523.7h0M594.5 1483.6h0M688.4 1511.2h0M578.8 1504.4h0M590 1530.1h0M665.6 1486.4h0M606 1482.8h0M638.3 1511h0M582.5 1487.4h0M598.6 1513h0M649.5 1470.6h0M680.6 1532.1h0M619.1 1532.8h0M700.8 1323.4h0M704.4 1379.2h0M703.7 1491.6h0M701.9 1245.1h0M696.8 1382h0M703.9 1219.7h0M703.8 1194.3h0M700.7 1255.5h0M696.5 1244.6h0M705.2 1335h0M701.3 1441.8h0M696 1263.5h0M696.4 1441.6h0M699.7 1227.4h0M810.7 1347.4h0M819.8 1405.7h0M814.1 1376.5h0M816.7 1498.8h0M820.4 1450h0M822 1236.1h0M811.5 1189.9h0M817.1 1418.9h0M815.4 1217.4h0M819.2 1360.2h0M901.3 1498.7h0M892.5 1318.2h0M898.5 1438.1h0M910.1 1206.8h0M907.1 1240.7h0M887.7 1365.2h0M905.2 1355.9h0M889.7 1449h0M907.9 1384.2h0M906.6 1384.9h0M888.7 1495.1h0M892.1 1262.2h0M887.8 1213.8h0M894.7 1238.6h0M908.4 1344.3h0M900.8 1475.8h0M903.6 1493.5h0M901.1 1217.1h0M909.9 1447.2h0M886.7 1324.1h0M896.3 1463.9h0M887 1297.8h0M891 1322h0M908.1 1299.8h0M894.8 1235.2h0M896.4 1474h0M893.4 1425.3h0M894 1487.3h0M896.5 1466.6h0M901 1507.8h0M899.3 1459.5h0M897.7 1501.6h0M901 1441.9h0M894 1424.5h0M901.5 1441.5h0M900.6 1479.8h0M897.8 1429h0M895.9 1407.8h0M893.3 1439.3h0M918.4 1147.3h0M960.9 1134.1h0M923.6 1143.1h0M931.6 1153.1h0M941.9 1134.1h0M967.8 1146.4h0M936.1 1125.7h0M947.9 1151.5h0M930.7 1145h0M929.2 1151.4h0M948.4 1136.8h0M973.5 1146.1h0M965.6 1139.4h0M956.1 1153.3h0M981.8 1277h0M988.9 1486.9h0M981.9 1472.4h0M981.5 1399.9h0M989.8 1328.3h0M984.2 1342.6h0M990.1 1456.7h0M986.6 1308.1h0M991.1 1270.3h0M992.1 1383.8h0M989.5 1266.3h0M986.8 1210h0M1102.2 1325.3h0M1081.8 1405h0M1068.6 1354.6h0M1052.6 1361.2h0M1056.1 1319h0M1094.4 1329.8h0M1102.3 1291.4h0M1075.9 1231.7h0M1085.4 1279.4h0M1056.3 1214.6h0M1089.9 1194.6h0M1104.2 1429.2h0M1084.9 1480.7h0M1092.5 1357.1h0M1086.2 1287.4h0M1096 1454.8h0M1098.3 1373.3h0M1085.1 1391.5h0M1050.8 1238.1h0M1091.2 1428.3h0M1103.8 1396.8h0M1089.3 1428.2h0M1069.6 1359.4h0M1052.2 1220.6h0M1089 1245.3h0M1067.9 1474.6h0M1051.1 1327.7h0M1087.1 1396.4h0M1071.8 1340.2h0M1063.7 1308.3h0M1086.9 1216.2h0M1085.4 1240.7h0M1101.8 1373.7h0M1077.2 1443.2h0M1103.8 1448.2h0M1065.8 1353.1h0M1081.9 1323.3h0M1100.3 1287.5h0M1090.2 1198.7h0M1086.1 1203.6h0M1093.9 1326.2h0M1078.2 1335.7h0M1076.4 1300.8h0M1090 1302.9h0M1084.3 1284.8h0M1097 1290h0M1099.3 1280.6h0M1087.3 1318.2h0M1087.6 1308.6h0M1081.7 1281.9h0M1091.9 1392h0M1083.2 1409h0M1103.2 1397.5h0M1079.1 1408.3h0M1071.8 1356.4h0M1080.1 1410.2h0M1070 1343.8h0M1098.1 1412.6h0M1076.5 1353.1h0M1073.7 1341.2h0M1096.3 1356.2h0M1083.3 1359.6h0M1113.1 1129.9h0M1125.7 1142.1h0M1107.4 1129.1h0M1117.1 1120.5h0M1125.9 1133.4h0M1152.9 1121.1h0M1145 1125.5h0M1168.5 1139.2h0M1178.5 1083.7h0M1153 1129.6h0M1163.3 1121.9h0M1189.5 1129h0M1149.6 1100h0M1186.7 1112.9h0M1152.6 1091.3h0M1190.1 1133.5h0M1171.5 1108.5h0M1158.1 1123.8h0M1135.4 1091.1h0M1165.2 1132.4h0M1151.1 1084.7h0M1166.7 1098.4h0M1167.9 1111.6h0M1161.3 1088.5h0M1177.4 1130.4h0M1138.6 1142.5h0M1137.1 1106.8h0M1150.1 1102.2h0M1155.1 1094.8h0M1178 1112.6h0M1170.5 1093h0M1162.7 1139.1h0M1176.3 1128.9h0M1151 1139.7h0M1133.2 1093.5h0M1165.4 1133h0M1144.1 1142.4h0M1155.5 1108.8h0M1148.4 1131.7h0M1138.8 1127.6h0M1134.4 1091.5h0M1146.1 1105.1h0M1160.8 1142.3h0M1167.7 1142.1h0M1185.3 1142.4h0M1172.2 1131.6h0M1161.4 1110.8h0M1185.2 1136.8h0M1133.8 1089h0M1109.4 1481.9h0M1205.9 1534h0M1105.9 1532.6h0M1203.8 1504.5h0M1184.8 1499h0M1125.1 1489.2h0M1159.7 1461.8h0M1119.9 1478.2h0M1136.7 1519.4h0M1156.7 1465.7h0M1175.2 1488.5h0M1116.1 1475.5h0M1189 1485.2h0M1103.4 1491.2h0M1164.4 1505.4h0M1188.9 1475h0M1187.3 1522.6h0M1185.3 1448.9h0M1136.1 1454.1h0M1117.2 1450.4h0M1145.3 1484.4h0M1128.4 1453.8h0M1155.2 1521.3h0M1123 1485.2h0M1119.3 1517.5h0M1116.7 1472.6h0M1194.5 1451h0M1120.4 1527.3h0M1158.3 1454.4h0M1186.2 1481.1h0M1196.4 1504h0M1126.4 1460.8h0M1132.8 1492.3h0M1201 1513.8h0M1167.4 1480.9h0M1153.2 1507.5h0M1193.8 1509.4h0M1194.8 1456h0M1151.6 1475h0M1118.3 1501.6h0M1127.8 1524.4h0M1133 1445.2h0M1159.9 1442h0M1152.8 1525.8h0M1137.2 1495.1h0M310.9 1039.9h0M357.5 1039.9h0M364 1039.9h0M375.2 1039.9h0M396.1 1039.9h0M405.8 1039.9h0M415.4 1039.9h0M425 1039.9h0M499 1039.9h0M507.8 1039.9h0M516.7 1039.9h0M525.5 1039.9h0M534.3 1039.9h0M682.2 1039.9h0M720.8 1039.9h0M728.5 1039.9h0M736.3 1039.9h0M744 1039.9h0M751.7 1039.9h0M759.4 1039.9h0M772.3 1039.9h0M780.8 1039.9h0M789.4 1039.9h0M798 1039.9h0M826.9 1039.9h0M836.6 1039.9h0M849.4 1039.9h0M859.1 1039.9h0M868.7 1039.9h0M894.4 1039.9h0M913.7 1039.9h0M1000.5 1039.9h0M1016.6 1039.9h0M1113 1039.9h0M1138.8 1039.9h0M1147.6 1039.9h0M1156.5 1039.9h0M1165.3 1039.9h0M1174.1 1039.9h0M1193.4 1039.9h0M254.6 1555h0M261.3 1555h0M267.9 1555h0M274.5 1555h0M281.1 1555h0M287.7 1555h0M294.3 1555h0M300.9 1555h0M307.5 1555h0M314.1 1555h0M320.7 1555h0M327.3 1555h0M333.9 1555h0M340.6 1555h0M347.2 1555h0M353.8 1555h0M360.4 1555h0M367 1555h0M373.6 1555h0M392.9 1555h0M400.9 1555h0M409 1555h0M417 1555h0M425 1555h0M437.9 1555h0M447.5 1555h0M454 1555h0M460.4 1555h0M466.8 1555h0M473.3 1555h0M479.7 1555h0M486.1 1555h0M492.6 1555h0M499 1555h0M505.4 1555h0M511.8 1555h0M518.3 1555h0M524.7 1555h0M531.1 1555h0M537.6 1555h0M544 1555h0M550.4 1555h0M556.9 1555h0M563.3 1555h0M569.7 1555h0M576.1 1555h0M592.2 1555h0M663 1555h0M672.6 1555h0M682.2 1555h0M701.5 1555h0M708 1555h0M714.4 1555h0M720.8 1555h0M727.2 1555h0M733.7 1555h0M740.1 1555h0M746.5 1555h0M753 1555h0M759.4 1555h0M765.8 1555h0M772.3 1555h0M778.7 1555h0M785.1 1555h0M791.5 1555h0M798 1555h0M804.4 1555h0M810.8 1555h0M817.3 1555h0M823.7 1555h0M843 1555h0M849.8 1555h0M856.6 1555h0M863.4 1555h0M870.1 1555h0M876.9 1555h0M883.7 1555h0M890.5 1555h0M897.3 1555h0M904.1 1555h0M913.7 1555h0M920.5 1555h0M927.3 1555h0M934.1 1555h0M940.9 1555h0M947.7 1555h0M954.4 1555h0M961.2 1555h0M968 1555h0M974.8 1555h0M984.4 1555h0M991.4 1555h0M998.4 1555h0M1005.3 1555h0M1012.3 1555h0M1019.3 1555h0M1026.2 1555h0M1033.2 1555h0M1040.2 1555h0M1047.1 1555h0M1054.1 1555h0M1061.1 1555h0M1068 1555h0M1119.5 1555h0M1127.5 1555h0M1135.6 1555h0M1143.6 1555h0M1151.6 1555h0M1170.9 1555h0M1179.8 1555h0M1188.6 1555h0M1197.4 1555h0M1206.3 1555h0" fill="none" stroke="#008000" stroke-width="15" stroke-linecap="round"/><line x1="389.7" x2="389.7" y1="1235.6" y2="1503.5" stroke="#fff" stroke-width="1.8" stroke-dasharray="10 12 22 9 6 14 30 11" stroke-linecap="round"/><line x1="443.4" x2="443.4" y1="1338.7" y2="1503.5" stroke="#fff" stroke-width="1.8" stroke-dasharray="10 12 22 9 6 14 30 11" stroke-linecap="round"/><line x1="846.8" x2="846.8" y1="1076" y2="1112" stroke="#fff" stroke-width="3" stroke-dasharray="10 12 22 9 6 14 30 11" stroke-linecap="round"/><path d="M318.6 1466.4h0M476.5 1408.2h0M445.9 1347.2h0M532.1 1351.9h0M487.6 1314.4h0M523 1457.1h0M507.4 1334.8h0M501.9 1338.8h0M412.7 1387.2h0M426.4 1258.4h0M438 1472.9h0M374.5 1408h0M461.8 1287h0M445.6 1354.9h0M353.6 1288.6h0M379.6 1334h0M326.1 1282.9h0M494.4 1267.2h0M512.8 1462h0M508.5 1431.1h0M485.7 1462.3h0M529.3 1276.9h0M466.4 1400.9h0M392.9 1400.7h0M560.1 1370h0M507.3 1412.3h0M487.2 1360.7h0M373.6 1316.6h0M319.8 1282.4h0M482.7 1248.4h0M400.3 1479.7h0M348.8 1386.7h0M336.6 1474.3h0M506 1418.8h0M518.3 1308.5h0M400.3 1383.8h0M366.6 1318.2h0M553 1482.4h0M391.7 1421.3h0M416.1 1318.5h0M506.3 1336.3h0M357.2 1502.9h0M416.1 1394.7h0M478.8 1458.9h0M355.7 1463.3h0M550.6 1320.3h0M481.8 1299h0M501.2 1443.8h0M461.7 1399.1h0M370.2 1365.2h0M744.1 1247.3h0M780.5 1468.7h0M761.2 1477.6h0M784.1 1443.4h0M1066.3 1216.9h0M1149.5 1182.9h0M765.4 1237.2h0M914.7 1382.7h0M1077.2 1441h0M1002 1289.2h0M1059.9 1366.3h0M1185 1286.9h0M779.4 1332.2h0M723.4 1498.2h0M1070.6 1239h0M837 1425.8h0M1024.9 1355.3h0M1016.3 1343.6h0M964.7 1239.5h0M910.1 1408.1h0M874.9 1161.3h0M1139.7 1461.6h0M1149.8 1275.6h0M904.2 1252.7h0M741 1438.4h0M916 1151.2h0M877.4 1444.5h0M1081.2 1182.1h0M1044.3 1488.3h0M952.1 1263h0M1078.2 1317.6h0M1073.9 1469.1h0M847.3 1183h0M1148.5 1236.1h0M952.8 1478.6h0M720.1 1298.5h0M993.2 1411.8h0M718.9 1283.3h0M748.8 1362.8h0M844.3 1479.4h0M919.6 1312h0M838.1 1168.1h0M1039.2 1355.2h0M1107.8 1472h0M843.7 1264.5h0M1146.5 1319h0M1067 1478.1h0M925 1324.9h0M798.9 1298.6h0M1109 1411.1h0" fill="none" stroke="#fff" stroke-width="3.5" stroke-linecap="round"/><path d="M588.1 1212.5h0M580.6 1283.8h0M627.7 1338.8h0M601.9 1269.6h0M639.7 1288.8h0M597.4 1303.4h0M603.2 1292.9h0M638.9 1285.9h0M601.3 1281.6h0M630.2 1257.3h0M663.7 1323.3h0M673.9 1311.8h0M645.7 1354.2h0M589 1372.9h0M672.2 1339.4h0M658.1 1257.6h0M618.9 1205.1h0M617.9 1332.6h0M667.5 1216.7h0M602.5 1337.5h0M678.2 1351.4h0M602.5 1280.8h0" fill="none" stroke="#fff" stroke-width="7" stroke-linecap="round"/><path d="M1196.2 1249.3h0M1146 1143.5h0M1185.8 1148.7h0M1147.5 1370.5h0M1137.1 1383.9h0M1162.8 1222.4h0M1173.1 1188.4h0M1184.6 1285.7h0M1160.1 1388.7h0M1137.5 1291.1h0M869.4 1389.7h0M973.5 1291.1h0M1009.8 1349.3h0M859.9 1405.9h0M909 1315.2h0M837.7 1471.4h0M879.9 1425.6h0M944.5 1257.8h0M1020.4 1283.6h0M1014.6 1361h0M918.6 1310.3h0M841.3 1478h0" fill="none" stroke="#fff" stroke-width="6" stroke-linecap="round"/></g><path d="M245 1297.5L1241.7 1297.5" fill="none" stroke="#000" stroke-width="6" stroke-linejoin="round"  stroke-dasharray="19 10" stroke-linecap="butt"/><path d="M261.1 1512.3L263.6 1509.1L266.2 1506.8L268.8 1501.4L271.4 1494.2L273.9 1490.6L276.5 1488.9L279.3 1483L282.1 1475.2L284.9 1470.7L287.7 1467.4L290.5 1462L293.3 1456.9L296.1 1452.1L306.1 1452.1L310.4 1450.5L314.7 1448.1L319 1445.4L323.3 1442.9L327.6 1440.3L331 1435.7L334.5 1431.7L337.9 1430.8L341.3 1427.8L344.7 1421.8L348.1 1417.2L351.5 1414.5L355 1410.7L355.8 1403.8L356.6 1399.7L357.4 1396.7L358.3 1390.8L359.1 1384.5L359.9 1379.3L360.7 1374.1L366.7 1370.5L372.6 1367.7L374.2 1362.7L375.7 1356.4L377.2 1350.6L378.7 1346.2L383.2 1344.8L387.7 1342.5L392.2 1339L393.5 1332.8L394.7 1327.6L395.9 1322.3L397.1 1315.6L398.4 1310.5L405.8 1314.1L412.4 1313.4L419 1313L425.7 1313.3L427.3 1317.3L428.9 1322L430.5 1326.9L432.1 1332.4L433.7 1338.2L436.2 1331.7L438.7 1324.3L441.1 1319.1L441.6 1326.3L442 1331.5L442.5 1336.1L442.9 1341.9L443.4 1346.5L449.5 1352.1L453.3 1349.8L457.2 1349.2L461 1346.4L466.5 1346L472 1344.6L477.4 1343.3L482.9 1344.2L486.3 1341.7L489.7 1337.4L493 1330.9L496.4 1326.2L498.6 1322L500.8 1316.8L503 1311.7L505.3 1307.3L507.5 1303.3L509.7 1298.3L511.9 1294.5L514.1 1292.7L516.1 1298.5L518.1 1301.8L520 1306.3L522 1313.3L524 1317.7L526 1320.2L528.3 1325.3L530.6 1329.9L532.9 1335.1L535.3 1341L537.6 1346.3L543.5 1349.6L549.5 1352.2L555.4 1348.1L561.4 1344.7L562.3 1339.4L563.3 1334.4L564.2 1331.8L565.2 1327.6L566.2 1321.1L567.1 1316.8L568.1 1313L569.1 1307.4L572.5 1301.3L575.9 1295.4L579.4 1292.8L584.2 1300.1L589 1304.7L595.4 1302.6L601.9 1301.7L606.7 1305.9L611.5 1308.8L616.3 1309.5L622.2 1308.1L628.1 1307.5L634 1305.4L638.6 1299.8L643.2 1296.5L647.8 1292.3L652.4 1291.8L657.1 1294.4L661.7 1299.3L666.9 1300.7L672.2 1301.8L677.4 1305.8L683 1303.2L688.7 1299.2L690.1 1305L691.5 1311.2L692.8 1315.9L694.2 1321.3L695.6 1327.8L697 1334.3L697.7 1339.9L698.3 1343.9L699 1347.3L699.6 1353.6L700.2 1361.7L700.9 1366.3L702.3 1359.7L703.8 1355.8L705.2 1350.6L706.7 1344L707.4 1339.6L708.1 1334.2L708.8 1326.1L709.5 1320.2L710.2 1315.9L710.9 1309.6L711.6 1303L712.3 1299.1L713 1295.5L713.7 1289.7L714.4 1283.5L719.7 1280L725.1 1276.9L730.5 1274.4L731.8 1270.9L733.2 1265L734.6 1257.7L736 1250.6L737.4 1243.9L738.7 1240.3L740.1 1236.8L744.4 1241.8L748.7 1247.4L753 1250.7L756.1 1253.5L759.1 1259.2L762.2 1265.6L765.3 1270L768.4 1273.8L773.7 1275.5L778.9 1275.7L784.2 1276.8L789.8 1277L795.5 1274.8L801.2 1269.8L803.4 1272.9L805.5 1279.2L807.7 1287.7L809.9 1294.3L811.3 1299.2L812.8 1303.5L814.2 1306.9L815.7 1311.3L816.1 1307L816.6 1301.1L817.1 1294.6L817.6 1289.9L818.1 1285.7L818.6 1280L819 1273.5L819.5 1267.7L820 1263.1L820.5 1259.2L821 1253.9L821.4 1248.3L821.9 1243.7L822.4 1238.7L826.9 1234.7L831.4 1232L832.8 1237.9L834.2 1242L835.6 1245.6L837 1249.8L838.4 1255.7L839.8 1261.1L843 1264.9L846.2 1269.3L849.4 1271.4L852.6 1273.4L855.8 1279.1L859.1 1285.8L862.3 1291.3L865.5 1294.2L868.7 1296.1L872.7 1300.5L876.6 1306.4L880.6 1310.1L883.5 1304.8L886.4 1301.7L889.3 1297.5L892.2 1291.4L892.8 1285.1L893.4 1278.6L894 1273.7L894.6 1270.2L895.2 1265.8L895.8 1260.2L896.4 1255.3L897 1252.1L897.6 1247.3L907.3 1243.9L907.6 1248L907.9 1251.7L908.1 1257.4L908.4 1263.8L908.7 1269.9L909 1276.8L909.3 1282.9L909.6 1286.4L909.9 1290.3L910.7 1295.8L911.6 1302.1L912.5 1309.7L913.4 1316.4L914.2 1319.7L915.1 1323.2L916 1328L917.4 1332.6L918.8 1338.3L920.1 1342.3L925.3 1340.1L930.5 1342.6L935.7 1344.2L940.9 1344L946.1 1343.8L951.3 1341L956.7 1340L962 1340.7L967.3 1340.9L972.7 1342.5L978 1342.2L979.1 1333.8L980.2 1326.9L981.2 1322.6L982.3 1318.4L983.4 1314.1L984.4 1309.3L985.4 1314.3L986.3 1320.3L987.2 1325.7L988.1 1328.4L989 1331L990 1335.9L990.9 1343.1L994.6 1341.6L998.3 1336.1L999.2 1328L1000.1 1322L1001 1316.7L1001.9 1312.7L1002.8 1309.5L1003.7 1304.7L1013.4 1303.4L1016.6 1307.7L1019.8 1313.2L1023 1318.3L1029.5 1321.3L1035.9 1325.8L1037.8 1331.4L1039.7 1334.2L1041.7 1339.2L1043.6 1347L1049.4 1349.8L1055.2 1350.1L1056 1341.3L1056.9 1334.3L1057.7 1329.4L1058.5 1323.1L1059.4 1317.4L1062.9 1314.4L1066.4 1310.9L1070 1307.1L1073.5 1303L1077 1299.1L1080.6 1302.7L1084.1 1305.7L1087.7 1310.7L1091.3 1316L1095 1319.8L1098.6 1323.1L1103.6 1319L1108.5 1315.5L1113.8 1317.3L1119.1 1319L1124.3 1319.9L1129.6 1316.6L1134.8 1313.6L1140.1 1308.4L1143.8 1304.3L1147.5 1301.1L1151.1 1298.5L1154.8 1297.3L1161.3 1295.6L1167.7 1292.2L1174.1 1291.9L1178.6 1298.7L1183.1 1303.5L1185.5 1307.7L1187.9 1313.2L1190.2 1319.5" fill="none" stroke="#ff0000" stroke-width="12.5" stroke-linejoin="round" stroke-linecap="round"/><g font-family="'DejaVu Sans','Liberation Sans',sans-serif" fill="#4a4a4a" stroke="#4a4a4a" stroke-width="0.5"><text x="214" y="1568.5" font-size="35" text-anchor="end">0.0</text><text x="214" y="1465.5" font-size="35" text-anchor="end">0.2</text><text x="214" y="1362.5" font-size="35" text-anchor="end">0.4</text><text x="214" y="1259.4" font-size="35" text-anchor="end">0.6</text><text x="214" y="1156.4" font-size="35" text-anchor="end">0.8</text><text x="214" y="1053.4" font-size="35" text-anchor="end">1.0</text><text x="245" y="1609" font-size="35" text-anchor="middle">0</text><text x="405.8" y="1609" font-size="35" text-anchor="middle">5</text><text x="566.5" y="1609" font-size="35" text-anchor="middle">10</text><text x="727.2" y="1609" font-size="35" text-anchor="middle">15</text><text x="888" y="1609" font-size="35" text-anchor="middle">20</text><text x="1048.8" y="1609" font-size="35" text-anchor="middle">25</text><text x="1209.5" y="1609" font-size="35" text-anchor="middle">30</text><text x="938" y="1673" font-size="55" text-anchor="middle" fill="#333" stroke="#333" stroke-width="0.3">position (Mb)</text><text transform="translate(132 1286) rotate(-90)" font-size="55" text-anchor="middle" fill="#333" stroke="#333" stroke-width="0.3">SNP-index (1)</text></g><clipPath id="c3"><rect x="244.3" y="1719.3" width="996.5" height="540.0000000000002"/></clipPath><line x1="245" x2="245" y1="1719.3" y2="2259.3" stroke="#d9dade" stroke-width="2.6"/><line x1="405.8" x2="405.8" y1="1719.3" y2="2259.3" stroke="#d9dade" stroke-width="2.6"/><line x1="566.5" x2="566.5" y1="1719.3" y2="2259.3" stroke="#d9dade" stroke-width="2.6"/><line x1="727.2" x2="727.2" y1="1719.3" y2="2259.3" stroke="#d9dade" stroke-width="2.6"/><line x1="888" x2="888" y1="1719.3" y2="2259.3" stroke="#d9dade" stroke-width="2.6"/><line x1="1048.8" x2="1048.8" y1="1719.3" y2="2259.3" stroke="#d9dade" stroke-width="2.6"/><line x1="1209.5" x2="1209.5" y1="1719.3" y2="2259.3" stroke="#d9dade" stroke-width="2.6"/><line x1="244.3" x2="1240.8" y1="2245.5" y2="2245.5" stroke="#d9dade" stroke-width="2.6"/><line x1="244.3" x2="1240.8" y1="2116.5" y2="2116.5" stroke="#d9dade" stroke-width="2.6"/><line x1="244.3" x2="1240.8" y1="1987.5" y2="1987.5" stroke="#d9dade" stroke-width="2.6"/><line x1="244.3" x2="1240.8" y1="1858.5" y2="1858.5" stroke="#d9dade" stroke-width="2.6"/><line x1="244.3" x2="1240.8" y1="1729.5" y2="1729.5" stroke="#d9dade" stroke-width="2.6"/><path d="M244.3 2259.3V1719.3H1240.8" fill="none" stroke="#d9dade" stroke-width="2.5"/><line x1="244.3" x2="1240.8" y1="2259.3" y2="2259.3" stroke="#d9dade" stroke-width="2.5"/><g clip-path="url(#c3)"><path d="M238.1 1727.8L238.1 1928.6L260.2 1928.6L260.8 1936.3L310.3 1936.3L311.9 1991.6L393.7 1989.1L397 2039.7L440.3 2052.1L456.7 2081.3L458.3 2119.6L466.7 2131.1L540.5 2131.1L554.8 2105.9L566.2 2084.6L700.4 2087.2L700.4 1877.6L697 1880L646.6 1880L594 1874.7L565.3 1863.2L554.8 1840.7L543.8 1823.2L470.2 1821.9L455.3 1822.9L451.7 1834.2L424.5 1830.2L419.7 1791.8L400.1 1790.1L393.5 1807.8L381.5 1794.9L372.5 1776.8L356 1770.2L333.1 1767.6L316.9 1758.4L301.7 1755.7L287.7 1742.9L285 1727.8Z" fill="#000080" fill-rule="evenodd"/><path d="M715.6 1858.9L715.6 2115.9L719.3 2133.7L796.7 2133.7L804.2 2107.9L804.2 1871.6L802 1841.3L718 1841.3Z" fill="#000080" fill-rule="evenodd"/><path d="M824.9 1872.7L824.9 2116.4L888 2124.6L910.5 2122.1L972.8 2129.2L974.6 2116.1L974.6 1858.8L972.6 1840.8L922.9 1836.4L917.7 1843L912.2 1869.7L886.8 1869.7L883.6 1859.3L830.8 1859.3Z" fill="#000080" fill-rule="evenodd"/><path d="M993.7 1872.9L993.7 2111L1038.6 2115.1L1041.1 2090.4L1041.1 1884.6L1038.5 1854.8L1001.1 1859Z" fill="#000080" fill-rule="evenodd"/><path d="M1109.4 1872.4L1109.4 2090.2L1195.2 2094.9L1208.3 2087.3L1208.3 1861.9L1195.2 1854.3L1114.2 1859.1Z" fill="#000080" fill-rule="evenodd"/><path d="M347.5 1989.7h0M654.6 2080.6h0M313.4 1962h0M531.6 1824.1h0M452.8 2073.3h0M700.3 1941h0M697.7 1930.7h0M268.6 1731.7h0M304.1 1931.8h0M546.5 2114.4h0M551.4 2103.5h0M590.8 1877.5h0M240 1818.7h0M241.9 1741.5h0M415.9 2044h0M241.8 1731.6h0M559.4 1852.3h0M474 2128.1h0M397.7 1798.9h0M400.7 1795.8h0M267.3 1931.7h0M524.1 2127.8h0M418.8 1808.3h0M382.9 1985h0M382.7 1984.2h0M700 1958h0M389.9 1984.3h0M573.7 1867.7h0M447.2 1833.9h0M536.8 2127.7h0M697.6 2021.1h0M451.9 2062.9h0M612.7 1878.5h0M697.4 1918.5h0M461.4 2098.7h0M289.3 1931.8h0M239.1 1813.9h0M509.8 2126.4h0M358.7 1772.5h0M698.1 2083.8h0M324.3 1990.8h0M363.1 1987.4h0M281.9 1933.1h0M397.3 1804.9h0M460.1 2081.5h0M239.5 1729.6h0M331.4 1990.3h0M357.3 1989.7h0M696.6 2043.2h0M242.4 1923.5h0M284.4 1736h0M698.9 1897.3h0M241.3 1791.4h0M648.6 1881h0M633.1 1879.7h0M638.6 2080.4h0M546.6 1834.4h0M242.8 1743.1h0M304.7 1934.7h0M391.1 1986.4h0M449.3 2060.2h0M444.4 1836.4h0M405.2 2036.5h0M402.3 1792.3h0M315.4 1954.2h0M699.5 2022h0M315.6 1761.4h0M239.6 1926.5h0M697.1 2054.8h0M629.2 1882.5h0M698.8 1923.7h0M400.4 2033.6h0M264 1728.2h0M447.1 1837.2h0M349 1773.9h0M242.8 1758.7h0M614.8 1880.5h0M286.7 1930.5h0M694.8 1881.9h0M355.2 1770.8h0M408.1 1791.8h0M257.7 1730.4h0M699.6 2000.1h0M239 1926.6h0M244 1892.9h0M553.8 2104.2h0M376.2 1797.5h0M316.6 1989.6h0M378.4 1794.4h0M353 1990h0M583.9 1871.2h0M530.4 1825.8h0M695.1 2085.3h0M288.6 1931.3h0M488.2 2127.4h0M461.9 2120.6h0M696.8 1943h0M419.9 1819h0M613.3 1877.7h0M687.4 2083.1h0M455 2070.1h0M402.1 1795.4h0M645.6 1881.8h0M613.7 2080.2h0M254 1733h0M243.3 1850.8h0M449.2 1836.8h0M239 1890.7h0M314.8 1934.2h0M243.4 1761.6h0M240.6 1815.7h0M280.8 1935.4h0M514.6 2125.9h0M698.5 1973.9h0M644.8 1883h0M593.6 1876.3h0M507 2129.5h0M697.8 1935.3h0M563.1 2082.2h0M314.1 1933.9h0M697 1916.2h0M667.7 2083.5h0M462.1 2089.6h0M241.5 1880.6h0M307.4 1932.3h0M505 1824.1h0M587.3 2084.8h0M390.8 1805.1h0M465.7 2121.2h0M421.9 2046.2h0M241.5 1920.4h0M241.6 1892.7h0M441.3 2052.6h0M462.2 2090.5h0M585.9 2081.8h0M515.9 2129.7h0M697.8 1889.2h0M316.1 1966.1h0M604.6 1878.9h0M519 1826.8h0M631.7 2085.6h0M648.7 2084.7h0M539.5 2121.5h0M330.5 1772.9h0M699.7 2057.9h0M240.1 1922h0M447.4 2058.1h0M479.8 2125.2h0M629.5 1883.8h0M428.4 1831.4h0M462.9 1826.2h0M694.6 2039.1h0M240 1872.5h0M314.7 1954.4h0M641.3 1884.6h0M523.9 1823.9h0M316 1759.3h0M546.9 2113.9h0M283.1 1931.2h0M285.5 1747.2h0M316.1 1941.3h0M478.6 2127h0M238.6 1905h0M396.8 2026.6h0M497 1826.9h0M610.4 1882.1h0M446.1 2051.2h0M694.4 1970.8h0M698.4 1962.9h0M511.2 1826.4h0M329.8 1986.2h0M697.8 1929.1h0M697.7 2043.9h0M544.3 1825.6h0M542 2123.4h0M400.2 2000.8h0M695.4 1886.2h0M698.4 1964.1h0M289.7 1934.2h0M558.6 2088.1h0M696.8 1989.7h0M695.4 2016.8h0M241.7 1893h0M242.1 1776.3h0M290.1 1935.6h0M461.6 2117.1h0M416.1 1795.7h0M397.7 2026.8h0M401.9 2030.8h0M242.3 1849.4h0M371.5 1782h0M242.3 1894.2h0M281.5 1737.8h0M422.9 1824h0M326.3 1990.7h0M243 1820.2h0M513.8 1824.9h0M336.7 1990.3h0M240.3 1872.2h0M422.9 1820.2h0M303.8 1756.2h0M696.9 2001.6h0M418.1 1812.5h0M559.6 2094.7h0M615.5 2080.2h0M242.8 1887.3h0M324.2 1762.7h0M242.1 1742.5h0M606.8 2083.3h0M683.7 1883.9h0M695.9 2036.2h0M699.7 2052.8h0M556.7 1855.3h0M399.5 1798.4h0M256.8 1727.8h0M395.3 2011.2h0M483.5 2127.7h0M242.6 1830.9h0M311.9 1979.9h0M238.3 1825.2h0M698.1 2049.8h0M598.1 2084.2h0M616.5 1882.8h0M555.7 1850.8h0M395.9 2011h0M503 2125.8h0M697.6 1962h0M320.3 1764.5h0M238.2 1826.1h0M553.7 1851.6h0M502.8 1828.3h0M694.4 1994.2h0M478 2130.4h0M695.6 2021.5h0M373.9 1789.1h0M277.6 1730.8h0M238.2 1749.5h0M242.1 1816.9h0M697.5 2040.3h0M599.7 2084.7h0M536.3 2130.9h0M333.2 1985.3h0M324.5 1763.5h0M419.3 1808.2h0M242 1777.3h0M463.6 2119.1h0M239.2 1857.4h0M340.9 1987.5h0M697.5 1882.4h0M347.9 1769.9h0M287.1 1747h0M239.8 1849.2h0M509.8 1825h0M264.4 1934.8h0M699 2066.9h0M602.6 2081.9h0M697.4 1925.2h0M315.1 1763.3h0M396.7 1803h0M280.9 1732.1h0M697.5 1953.7h0M455 1837.6h0M398.3 2032.8h0M375.4 1796.2h0M241.5 1831.4h0M672.5 2082.1h0M247.3 1927.7h0M241.7 1876h0M691.9 1882.8h0M399.7 2007.3h0M485.5 2129.1h0M560.4 2090h0M245.1 1730.8h0M239.3 1921h0M488.9 2127.6h0M314.3 1972.5h0M252.5 1728.3h0M277.9 1932h0M519.9 2126.7h0M288.8 1932.9h0M595 1879.1h0M284.3 1742.8h0M689.4 2081.9h0M315.6 1943.9h0M694.9 1936.4h0M632.5 2082.8h0M564.5 1865.8h0M316.1 1969.7h0M239 1736h0M243.1 1868.7h0M253.2 1730.5h0M312.9 1944.4h0M311.9 1972.4h0M694.8 2051h0M685.1 2083.9h0M667.7 2081.7h0M278.9 1934.7h0M429.4 1834.3h0M589.6 2080.1h0M241.6 1741.4h0M311.5 1950.4h0M648.6 2083h0M241.4 1893.1h0M264.9 1928.1h0M468.3 2128.8h0M612.1 2084.8h0M260.7 1925.4h0M521.6 2125.3h0M477 1822.6h0M294.1 1932.6h0M312.5 1939h0M698.7 2041.4h0M582.1 2082h0M694.8 1951.7h0M610.4 2083.1h0M669.7 2086.3h0M238.9 1893.5h0M699.9 1957.8h0M628.1 2080.5h0M697.6 1962.7h0M282.6 1936.1h0M244.9 1925.4h0M478.9 1823.5h0M431.6 1834.1h0M549.1 2108.1h0M696.3 1940.3h0M679.7 1880h0M690 1884.1h0M308.2 1930.6h0M505.6 2126.2h0M275.6 1932.2h0M502.8 1826.6h0M502.6 1824h0M406.3 1790.7h0M311.3 1946.7h0M496.4 1824.5h0M574.6 2079.4h0M510 1823.5h0M656.7 1880.6h0M472.4 2126h0M697.1 1950.7h0M243.3 1891.2h0M427.1 1831.2h0M238.5 1888.7h0M528.3 2125.3h0M576.4 2081h0M311.3 1957.7h0M572.8 2081.6h0M387.9 1985.4h0M374.1 1790.7h0M457.9 2098.4h0M243.4 1861.9h0M290.7 1934.1h0M318.8 1986.9h0M313.6 1978.6h0M650.2 2082.1h0M464.9 2126.2h0M329.8 1767.2h0M631.5 1883.6h0M658.8 1884.1h0M511.5 1827.9h0M554.8 1841.4h0M660.9 1883.7h0M409.3 2037h0M410.1 1793h0M242.3 1867.8h0M465.5 2127.8h0M360.8 1776.1h0M558.9 2092.9h0M368.9 1984.8h0M327 1989.3h0M698.4 1894.4h0M241.7 1813.8h0M238.2 1792.1h0M658.5 1885.1h0M403.2 1797.8h0M459 2104.8h0M274.9 1729.6h0M672.6 1881.5h0M240.4 1804.1h0M493 1826.3h0M506.6 1825.5h0M456.9 2081.8h0M401.2 2019.5h0M239.4 1765h0M381.8 1801.1h0M514.7 1823.2h0M240.4 1873.1h0M495.8 2126.1h0M323.2 1768.6h0M363.9 1773.9h0M673.3 1885.5h0M512.9 2130.8h0M456.9 2082.7h0M377 1797.4h0M690.5 1882.1h0M411.5 2037.9h0M698.9 2084.3h0M288.5 1747.3h0M243.6 1917.5h0M682.4 2081.9h0M618.5 2083.4h0M238.2 1776.3h0M238.3 1898.9h0M526.6 2130.8h0M326.9 1768h0M444 2051.3h0M490.5 1825h0M694.7 2001.7h0M697.9 1922.8h0M448 2056.3h0M398.1 2012.5h0M288.5 1747.3h0M696.5 1955.3h0M456.8 1824.2h0M699.2 2030.1h0M557.5 1859.9h0M423.3 1833.4h0M354.3 1988.5h0M698.1 1927.9h0M386.6 1804h0M487.6 1824.8h0M468.9 1823.3h0M377.5 1797.5h0M668.5 1885.2h0M694.5 2048.5h0M574.5 2083h0M258.5 1925h0M317 1961.2h0M466.2 2126.8h0M692.9 1882.6h0M377.6 1791.7h0M597.8 1875.4h0M404.7 2039.3h0M694.8 2049.6h0M337.2 1772.8h0M244 1867.2h0M396.4 1987.3h0M695.6 2037.4h0M694.9 2080.8h0M283.9 1745.4h0M719.6 1958.4h0M717.4 1868.3h0M719.8 1959.9h0M717.7 1893.2h0M803 1942.8h0M718.7 1990.1h0M717.5 2103h0M718.7 2060.2h0M760.3 2132.3h0M803.9 2021.2h0M736.7 1844.1h0M776.2 1846.3h0M801.8 2062.7h0M800.4 2023.1h0M716.6 1856.8h0M802 1962.8h0M804.1 1991.6h0M719.9 1857h0M801.5 1905.9h0M769.8 1847.2h0M801.1 1922.5h0M718.1 2029.7h0M803.3 1957h0M803 2050.4h0M720.4 1889.7h0M803.8 1951.7h0M719.5 1851.1h0M717.2 1929.3h0M715.7 2003h0M718.5 1897.5h0M798.9 1943h0M804.1 1917.6h0M798.6 2037.4h0M719.6 2129h0M801.7 2007.6h0M716.6 1962.7h0M718.5 1841.7h0M799.7 2067.6h0M763.1 2128.2h0M718.7 1937.1h0M799 2033.7h0M800.7 2094.1h0M719.8 2002h0M799.5 1895.6h0M745.4 2128.3h0M721.6 2111.3h0M717.2 1957h0M716.4 1870.6h0M716.5 2081.3h0M715.6 2034.8h0M721.6 1846.7h0M790.7 2129.9h0M722.4 1841.6h0M715.8 2030.2h0M803.7 1951.6h0M719 2006.6h0M737.4 1845h0M716.1 2016.4h0M780.4 2128.2h0M801.7 2081.1h0M800.6 1894.6h0M724.7 2130.2h0M804 2002h0M760.8 1843.3h0M718.8 2074.2h0M717.5 1961.7h0M802.8 1898.8h0M736.2 2132.2h0M721.5 1938.9h0M802.5 1857.6h0M800.7 1924h0M801.7 1928h0M728.3 2132.9h0M715.6 2080.9h0M753 2130.2h0M802.5 1889.8h0M767.5 2128.4h0M715.9 1867.8h0M716.3 2002.8h0M801.2 2048.8h0M741.6 1843.9h0M717.5 1913.2h0M718 1971.9h0M718.4 2009.6h0M720.8 1926.1h0M798.2 1848.9h0M800.8 2052.1h0M719.5 1996.4h0M801.5 1875.5h0M779.6 2132.6h0M800.5 1862.6h0M801.6 2043.8h0M718.9 1982.1h0M802.7 2101.7h0M720.5 1913.4h0M799 1847.7h0M797.5 2128.7h0M802.4 2023.3h0M718.3 1999h0M719.9 2121.2h0M716.2 2103.5h0M716.2 1892h0M718.4 1873.2h0M796 1842.1h0M718.8 2121.5h0M801.9 2087.6h0M803 1973.3h0M799.6 2064.4h0M747.8 2131.4h0M719.6 2103.2h0M730.7 2128.4h0M786.2 1841.6h0M795.4 2132.2h0M749.7 1841.9h0M799.3 2063.3h0M720.1 1965.4h0M799.3 2023.1h0M719.4 2014.2h0M716.5 1876.7h0M742.8 1845.4h0M802.7 1933.1h0M716.6 1913.2h0M804.1 2091.5h0M721 2005.3h0M802.2 1889.1h0M716.1 2068h0M800.4 2064.7h0M800.6 2015.5h0M720.4 2044.8h0M718.2 1865.2h0M802.3 2007.6h0M803 2076.5h0M780.4 2128.3h0M738.7 2129.1h0M801.9 2010h0M716.8 1930h0M718.4 1846.6h0M802 1878.6h0M717.4 2108h0M715.9 1994.1h0M744.6 2128.4h0M720.6 2075.2h0M802.6 2078.9h0M720.2 1914.8h0M800.8 1928h0M804.1 2103.9h0M801.2 2011.1h0M749.2 1841.8h0M716.9 1920.4h0M778.9 1846.5h0M722.4 1841.5h0M719.9 2118.3h0M718.9 2097.4h0M718.7 1958.3h0M760 1845.8h0M801.7 1848h0M718 2023.4h0M799.9 1897.2h0M801.7 1920.9h0M801 1962.4h0M717.1 1918.6h0M799.1 2106.6h0M720 2128.6h0M798.6 1971.1h0M720.9 2108h0M801.1 1880.4h0M719 2002h0M803.9 2022.8h0M798.6 2093.8h0M800.9 2001.1h0M720 2125.2h0M715.9 1926.5h0M720.2 1945h0M717.7 1991.4h0M719.3 2116.7h0M722.4 1849.7h0M717.7 1937.2h0M800.3 1864.4h0M746.2 2131h0M802 2017.9h0M746.4 1846h0M753.5 2129.5h0M721 2038.1h0M716.5 2071.3h0M803.3 2058.3h0M717.7 2073.8h0M792.6 2129.5h0M717.5 2052.8h0M746.3 2130.1h0M802.6 1947.4h0M802.7 1988.9h0M746.8 1845.5h0M716.5 1969.7h0M718.9 2104.3h0M778.6 1842.5h0M800 1937.9h0M773.3 2128.9h0M825 2033.2h0M970.1 1949.7h0M919.9 1862h0M825.3 1895h0M888.3 1873.8h0M969.5 2003h0M974 1896.8h0M968.5 2116.5h0M856.9 1861.4h0M902 2122.5h0M955.6 1844.6h0M903.9 2117.1h0M969.3 2027.4h0M971.4 2094.3h0M949.3 2121.4h0M824.9 1905.7h0M970.9 2039.6h0M971.2 2114h0M825.6 2007.8h0M828.2 2100.8h0M830.5 2010.7h0M973 1911.6h0M829.5 1875h0M970.1 1921.4h0M969.7 1992.5h0M845.5 2114.9h0M897.4 1875.3h0M828.5 1963.7h0M970.9 1938.9h0M972.1 1966h0M880.5 2119.2h0M826.7 1923.5h0M935.2 1841.7h0M827.5 2109.7h0M921.2 1838.7h0M826.6 2111h0M971.4 2073.6h0M971.3 1960.2h0M971.6 1895.4h0M827.6 2021.4h0M891.1 1869.8h0M951.3 1841.2h0M882.2 1872.6h0M970.4 2102.5h0M827.6 2013.2h0M828.7 1866.8h0M968.9 1996.1h0M972.7 2089.6h0M891.9 2119.7h0M919.8 1856h0M951.7 2124.6h0M971.4 1892.4h0M865.3 1861.1h0M970.2 1884.8h0M830.8 2081.5h0M968.6 2003.5h0M825.7 1995h0M920.7 1839.3h0M828.5 2063.1h0M914.1 1862.4h0M825 1893.9h0M828.5 1934.7h0M973.9 1955.6h0M829.6 2058.2h0M840.8 1864.9h0M971.9 2025.8h0M921.7 2119.2h0M969.4 1872.5h0M973.8 1950.5h0M971.5 1997.3h0M825.6 2106.9h0M826.5 1882.6h0M910 1874.3h0M971.2 1896.2h0M827.5 2056.6h0M920.4 1842.5h0M922.4 1839.6h0M911.7 2120.1h0M828 2030.5h0M921.4 1851.4h0M973.5 2016.5h0M971.7 2036.1h0M827.2 2091.2h0M971.7 2106h0M880.8 2121.7h0M939.2 2123.3h0M891.5 2122.9h0M933.9 1842.1h0M972.3 2068.7h0M889.8 2119.4h0M973.1 2126.6h0M827.6 1929h0M830.5 1912.8h0M882.9 1869.2h0M970.5 1887.9h0M969.4 1952.3h0M956.4 2121.7h0M974 1929.8h0M926.5 1842h0M970.5 2013.7h0M828.2 2024.8h0M834.9 1864.7h0M971.2 1896.7h0M825.8 1937.7h0M829.1 1970.8h0M969.8 1936.8h0M919.1 1854.6h0M917.7 1865.4h0M825.1 2085.1h0M974.4 1995h0M920.2 1842.8h0M829.8 1899.9h0M974.1 1997.4h0M970.7 2012.6h0M921.6 1844.8h0M971.2 1975.6h0M972.1 1929.9h0M925.6 2118.9h0M831.4 1867.1h0M837.2 2115.2h0M969 1934h0M910.5 2118.3h0M950.8 2122.5h0M826.2 2009.8h0M827.6 1959.6h0M889.1 2124.3h0M919.3 1849.9h0M825.8 1923.8h0M851.6 1862.6h0M914.6 1871.3h0M974.5 1889.2h0M827.5 2101.9h0M968.8 2019.4h0M919.3 1844.3h0M938.5 1839.6h0M827.5 1917.5h0M971 1962.3h0M956.8 2125.5h0M829.5 2063.3h0M831.7 1863.2h0M948 2122.2h0M973.9 1926.6h0M971.9 1856.2h0M896.4 1870.8h0M834 2114h0M875.6 1862.3h0M972.3 2055.2h0M972.2 1850.4h0M973.6 2030.5h0M897.1 2121.6h0M887.5 2122.1h0M915.3 1865.2h0M972.9 1854.9h0M974.3 2078.3h0M829.2 2048.3h0M973.3 2050.7h0M868.8 1861.4h0M923.8 2120h0M955.3 1839.8h0M825.6 1951.1h0M833 2115.1h0M859.6 2120.4h0M970.4 1982.4h0M827.8 1986.6h0M826.4 1873.1h0M930.7 2121.2h0M891.9 2119h0M829.8 1983h0M970.6 1873.3h0M873.9 1862.6h0M921.9 2123.2h0M973.5 1977.1h0M954.4 2124h0M826.5 1878.5h0M955.5 1844h0M828.4 1910.6h0M917.9 1849h0M972.4 2088.9h0M971.9 1916.4h0M974.4 1877.6h0M881.1 1870.4h0M909.9 2120.7h0M972.9 1957.4h0M897.6 1871.2h0M972.2 1872.2h0M874.7 2121.4h0M826.6 2038.7h0M972.5 2094.3h0M968.7 2091.1h0M972.9 2009h0M826.9 1896.1h0M950 2121.9h0M971.9 1874.1h0M968.9 1894.2h0M847.3 2117.1h0M969.2 2030h0M827.6 1963.4h0M968.7 1884.8h0M829.4 2107.2h0M896.8 2121.7h0M863.9 1863.4h0M954.8 2123.3h0M974.5 1887h0M948.3 2124.6h0M825.5 2000.4h0M970.8 2023.6h0M828.8 2065.7h0M943.8 1840.7h0M974.2 2040.6h0M972.1 1975.9h0M970.3 1987.7h0M969.8 2072.4h0M924.4 2120.1h0M909.2 1872.3h0M826.4 1989.6h0M971.5 2064.3h0M828 2039.8h0M969.3 1896.7h0M826.3 1960.8h0M970.2 1892h0M974.1 1902.1h0M830.1 1865.7h0M922.8 2121.9h0M970.7 2019.9h0M968.9 2003.5h0M894.2 2122.7h0M940.3 2119.7h0M931.6 2123.4h0M972.6 2049.6h0M940.9 1842h0M830.8 2022.7h0M1040.1 1973.5h0M1015.7 2109.2h0M1038.7 1900.1h0M999.5 1912.5h0M999.6 1999.3h0M996.5 2006.2h0M998.2 2009.7h0M1012.6 2108.5h0M994.4 1913.8h0M1000 1863.8h0M1037.4 1998h0M999.5 2006.9h0M996.1 1938.6h0M1040.5 2053.1h0M995.8 1921.9h0M997.2 2096.6h0M1038.4 1920.5h0M993.7 1920h0M1036.4 1884.6h0M1040.9 1948h0M1037.2 2074.5h0M997.8 2096h0M1035.7 1960.8h0M1039 2046.9h0M997.8 1956h0M996.1 2024.9h0M1001.5 2109.7h0M1040.9 1912h0M1040.5 1915.5h0M1037.7 1953.4h0M998.8 2029.3h0M1018.9 1858.5h0M1038.5 1878.7h0M997 1878.5h0M1038.1 1951.3h0M1027.6 1860.1h0M995 2083.9h0M1037.2 2103.7h0M1037.9 2011.9h0M995.4 2042.4h0M1002.6 2107.9h0M1038.6 1883.2h0M1039.2 2036.7h0M999.3 1912.5h0M1028.7 2109.2h0M996.1 1887.7h0M995 1924.8h0M995.5 2054h0M1035 2104.1h0M1001.2 1861.3h0M1038 1860.3h0M999.7 1863.7h0M1037.9 2051.2h0M993.7 2008.1h0M1035.9 1959.3h0M1037.1 2035.9h0M1039.2 1920.7h0M1038.4 1985.1h0M1015.4 2110.8h0M1035.9 1863h0M1035.5 1867.7h0M1035.1 1900.5h0M994.9 1900.8h0M998.1 2066.7h0M1036 2046.5h0M998 1935.5h0M1011.3 2110.7h0M1038.3 2031.7h0M997 2069.2h0M1002 2106.2h0M1000.3 1871.4h0M1038.6 1980.8h0M998.6 1929.9h0M999 1937.8h0M1040.8 1950.2h0M998.9 1882.5h0M997.1 2067.1h0M996.6 1894.6h0M1002.6 2107.4h0M998.6 1909.7h0M1015 2110.3h0M1039 2016.4h0M995.1 1966.8h0M1036.2 1899h0M1040.7 1906.6h0M1036.8 2102.2h0M1038.4 2023.5h0M994.9 2070.6h0M995.2 2111.1h0M1041.1 2036.9h0M1036.9 2059.8h0M1009.4 1860.9h0M997.8 1995.8h0M996.1 2023.8h0M1035.8 1924.5h0M998.5 2089.3h0M1040.6 2011h0M995.1 2035.9h0M999.4 2098.1h0M998 1964.2h0M1005.7 2109.9h0M998.4 1884.4h0M1040.5 1994.9h0M1036.9 1969.4h0M1038.8 1921.3h0M994.5 2015.6h0M1033.8 2112.3h0M998.2 1932.7h0M1009 1862.9h0M1037 1937.8h0M996.5 1875.2h0M1036.9 2049.1h0M1017.6 2108h0M998.9 1881.7h0M999.5 1884h0M995.8 1936.1h0M1035.1 2105.7h0M998.9 2045.4h0M996.3 1924h0M994.8 1920.4h0M996.2 1996.1h0M997.6 2081.2h0M1037.1 1949.2h0M999.3 2062.5h0M1036.9 1982.5h0M1037 2099.9h0M1029.9 2109.5h0M996.9 1890.8h0M1040.2 1937.6h0M997.6 1989.6h0M1035.2 2077h0M1040.9 1889.3h0M1038.7 1910.8h0M1036.6 1904.6h0M1039.6 1958.2h0M1037.8 1871.6h0M997.4 2105.4h0M1038.9 2103.4h0M1041 1898.5h0M1038.8 1884.1h0M1035.9 2021.9h0M998.7 2048.9h0M1036.3 2035.3h0M1036.9 2003.8h0M1035.5 1897.5h0M1000.2 1872.6h0M995.3 1882.1h0M998.3 1960h0M1029.1 1859.8h0M1035.7 2090.4h0M1038.5 2092.9h0M1040.6 1977.7h0M1040 1874.6h0M997.5 2059.4h0M1037.4 2050.8h0M1040.5 1938.4h0M1110.1 1934.9h0M1202.8 1990.9h0M1206.3 1868.3h0M1110.6 1897h0M1112.5 2042.2h0M1113.6 1880.9h0M1206 2013h0M1203.2 1941.9h0M1204.6 1927.8h0M1113.1 1873.5h0M1205.6 1989.7h0M1110.8 1995.8h0M1180.2 2092h0M1110.4 1948.1h0M1174.2 2091.2h0M1205 1983.4h0M1126.2 1861.2h0M1116.5 2084.6h0M1207 1896h0M1155.9 2090.1h0M1202.4 1989.6h0M1112.1 1997.5h0M1110.1 2031.9h0M1201.8 2086.3h0M1111.8 1969.6h0M1206.8 2046.3h0M1117.1 1864.6h0M1168.3 2090.9h0M1111.7 1982.4h0M1202.5 2076.4h0M1132.8 2085.7h0M1114.6 1859.3h0M1112.7 1875.3h0M1109.5 2000.8h0M1202.4 1998.4h0M1139.2 1857.8h0M1206.5 2058.9h0M1197.6 2087.6h0M1114.4 2054h0M1111.3 1993.7h0M1133.7 1861.4h0M1122.5 2090.1h0M1115 1930.2h0M1141.8 2086.5h0M1111.4 2039.9h0M1112.9 2071.5h0M1110 1882.7h0M1135.2 1863.3h0M1203.7 1921.3h0M1208.3 2012.5h0M1113.4 1977h0M1204.1 1929.9h0M1113.5 1970h0M1125 2085.4h0M1114.4 2078.7h0M1205.1 1974h0M1136.4 2088.4h0M1117.6 1860.4h0M1198.8 1861.1h0M1205.4 1950.6h0M1111.3 1925.8h0M1207 1961.4h0M1204.4 2083.6h0M1109.7 1888.5h0M1185.6 1858.9h0M1113.8 1957.3h0M1207.9 1883.3h0M1111.2 2001.9h0M1206.8 2027.5h0M1110.9 1908.3h0M1125.9 1860.5h0M1113.3 2039.8h0M1115 1989.2h0M1206.3 1867.7h0M1110.8 2040h0M1186.2 1856.2h0M1203.4 2051.4h0M1137.6 2088.3h0M1204.4 1931.3h0M1110.4 1876.9h0M1110.3 2065.6h0M1206.5 1919.5h0M1202.8 1876.7h0M1201.5 2085.9h0M1206.3 2008h0M1207.1 1947h0M1204.7 1873.8h0M1112.9 1883.1h0M1113.3 2041.1h0M1110.4 2048.8h0M1113.7 1863.1h0M1205.4 2084.9h0M1205 2040.1h0M1207.2 1950.4h0M1208 1878.5h0M1203.7 2088.4h0M1124.6 1861.6h0M1203.6 2025.8h0M1113.8 1919.7h0M1205.8 2087.4h0M1113.6 1882.2h0M1180.8 2088.2h0M1112 2080h0M1204.5 1992.8h0M1204.8 1889.2h0M1113.7 1881.4h0M1110.9 1946.1h0M1206.7 2079.9h0M1115.1 2019.7h0M1202.9 2011.1h0M1183.7 2092.4h0M1112.4 1934h0M1143.1 1862.1h0M1203.7 1892.9h0M1202.4 1956.4h0M1206.6 1866.5h0M1202.4 2052.3h0M1111.8 1988.6h0M1109.6 2052.7h0M1208.1 1990h0M1203.8 1947.6h0M1188.6 1854.8h0M1124.6 2089.3h0M1174.6 1860.8h0M1171.1 1858.5h0M1205 1920.4h0M1110.3 2089.5h0M1202.1 1859.2h0M1146.1 1863.2h0M1110.5 2034.2h0M1112.6 2037.2h0M1110.2 2037.3h0M1117.6 1860h0M1114.7 1922.9h0M1112 1885.2h0M1122.3 2087.7h0M1110.5 1878.2h0M1205.7 2045.3h0M1114.6 1875.4h0M1175.5 1861.1h0M1112.6 1979.6h0M1125.1 2085.3h0M1114 2027.2h0M1110.8 1998.5h0M1202.9 2030h0M1111.3 2016.3h0M1111.4 1962h0M1111.6 2039.2h0M1129.2 1862.4h0M1203 1981h0M1207.1 2017.1h0M1143.2 2086.7h0M1207.1 2001.7h0M1112.5 2086.1h0M1160.4 1857.3h0M1112.7 1905.5h0M1115 2060.9h0M1208.2 1909h0M1113.3 1865.5h0M1110.7 1886.1h0M1191.4 1859h0M1203.2 1897.3h0M1203.7 1941.4h0M1110.5 2039.6h0M1182.7 1858.7h0M1125.1 1863.6h0M1111.1 2069.5h0M1206.2 1924.9h0M1110.1 2024.2h0M1202.9 1897.2h0M1206.8 1877.7h0M1110.4 2024.4h0M277.2 1953.7h0M260.5 1961h0M305.9 1975h0M292.8 1955.6h0M265 1977.7h0M288.3 1972.1h0M272.6 2031.3h0M256.5 1986.9h0M305.4 2000.5h0M305.7 2035.5h0M301.2 2030.9h0M261 1981.5h0M273.8 1948h0M289.3 1991h0M263.6 1962.2h0M272.1 2010.1h0M291.2 1966.6h0M281 1985.5h0M293.1 2015.1h0M258.3 1997h0M277.7 1996.5h0M276.4 1992.2h0M293.1 1973.4h0M304.1 1990.8h0M302.5 1969.7h0M299.2 1965.3h0M276.5 2020.3h0M262.3 1972.2h0M289.2 2044.3h0M259 2002.8h0M260.8 1978.3h0M293.1 1945.9h0M267.1 2049.2h0M292.5 2079.3h0M288.4 2073.1h0M261.3 2061.2h0M277.8 2054.5h0M370.7 2018.2h0M333.7 2020.1h0M336.5 2087.8h0M340.3 2009.6h0M339.2 2054.1h0M350 2015h0M340.6 2073.8h0M359.2 2095.7h0M317.8 2022h0M318.3 2069.9h0M315.9 2036.4h0M383.8 2095h0M327.4 2011h0M367.7 2095.8h0M343.8 2089.4h0M376.5 2077.5h0M357.4 2024.9h0M332.2 2005.2h0M365.2 2066.2h0M322.8 1998.4h0M382.8 2036.2h0M317.8 2010h0M332.2 1999.4h0M312.4 2015h0M346.8 2076.7h0M328 2037.3h0M341.1 2086.4h0M314.7 2084.4h0M324.3 2061.4h0M351.8 2054.4h0M324.4 2053.7h0M345 2006h0M330.6 2084.6h0M346.1 2000.2h0M366.5 2032.3h0M353.4 2011.1h0M313.9 2038.8h0M341.3 2083.1h0M362.9 2065.5h0M373 2057.2h0M333 2060.6h0M377.7 2007.1h0M320.5 2043h0M331.4 2058.1h0M376.8 2056.5h0M367.5 2074.8h0M331 1761h0M374.7 1751.1h0M373.6 1762.9h0M385.2 1767.7h0M365.6 1772h0M363.2 1774h0M339.5 1767.3h0M324.9 1759.3h0M346.8 1773.4h0M376.1 1751.3h0M384.9 1761.5h0M343.8 1772.9h0M402.8 2078.2h0M397.5 2091.8h0M443.6 2083.9h0M401.5 2072.1h0M404 2104.1h0M440.5 2093.7h0M443.7 2077h0M391.7 2066.4h0M412.9 2111.6h0M399.4 2114.8h0M425.2 2070h0M439.5 2081.2h0M413.3 2070.5h0M408.7 2091.4h0M406.2 2083.3h0M423.4 2062h0M437.3 2097.8h0M406.4 2103.7h0M428.4 2098.3h0M401.2 1794.1h0M400.6 1787h0M412 1777.8h0M413.1 1792.9h0M429.2 1780.4h0M413.1 1799.2h0M417.9 1787.8h0M524.3 1812.6h0M517.2 1782.9h0M478.6 1786.5h0M459.2 1814h0M461 1779h0M518.6 1807.2h0M549.7 1819.9h0M512 1812.5h0M547.9 1819h0M523.6 1810.2h0M507.8 1810h0M470.9 1818.9h0M506.8 1804.1h0M457.4 1816.8h0M473.4 1812.5h0M462.2 1779h0M550.2 1779.7h0M504 1813.4h0M498.4 1815.8h0M511.1 1788.4h0M535.6 1801.8h0M478.1 1798.4h0M491.9 1806.6h0M554.3 1797.7h0M545.6 1779.2h0M473.2 1781.3h0M513.6 1812.5h0M550.1 1804.9h0M556.9 2162.8h0M487.9 2142.8h0M488.4 2162.3h0M503.1 2146.9h0M481.4 2150.9h0M504.8 2165.4h0M496.6 2143.3h0M550.4 2152.3h0M558.7 2169.1h0M500.6 2187.2h0M492.8 2149.3h0M503.3 2162.4h0M606.7 2119.7h0M663.5 2130.8h0M628.9 2170.3h0M676.6 2105.9h0M695.8 2139.8h0M632.2 2144h0M636.5 2163.5h0M674.9 2129.2h0M676.5 2132.7h0M689.9 1873h0M658.3 1861.7h0M617 1838.2h0M593.1 1863h0M697.8 1873.6h0M585.6 1855.3h0M689.4 1849.6h0M590 1846h0M744.7 1798.4h0M756.1 1803.4h0M798.6 1837.3h0M728.5 1806.4h0M785.1 1825.7h0M739.7 1828.5h0M801 1836.6h0M772.5 1825.1h0M760.2 1806.1h0M747 1818h0M721.4 1806.6h0M789.3 1803.5h0M806.9 1838.9h0M732.9 1835.2h0M796.6 1787.8h0M787.8 1822.1h0M709.9 1835.4h0M765.8 1809.4h0M726.2 2146.2h0M759.9 2186.9h0M791.7 2143.9h0M778.2 2188.6h0M710.2 2182.1h0M762.8 2180.4h0M723.9 2127.8h0M763.7 2170h0M759.9 2185.5h0M707.7 2206.1h0M780.7 2205.7h0M783.1 2162.3h0M714.1 2172.3h0M729.2 2126.7h0M813.1 1927.6h0M823.6 2076.2h0M821.6 1972.4h0M819.8 1940.8h0M819.6 1975.8h0M822.2 2009.5h0M815.7 2032.3h0M813.1 1939.2h0M814.6 2068.7h0M809.8 1970.2h0M819.4 2043.5h0M823.7 1942.5h0M816.1 2042.2h0M816.5 1963.3h0M809 1962.3h0M819.7 2020.1h0M814.9 1886.1h0M811.4 1930.7h0M818.5 2015.7h0M820.3 1903.1h0M808.8 2039.6h0M821.9 2050.5h0M877.6 1821.4h0M868.3 1842.4h0M832.3 1853h0M876.3 1840.4h0M841.5 1852.6h0M863.1 1811h0M873 2154.9h0M825.5 2150.2h0M875 2164.1h0M837.6 2156.4h0M879.3 2157.7h0M881.7 2135.3h0M867.4 2141.5h0M828.1 2142.2h0M860.6 2155h0M891.5 2132.3h0M870.7 2139.4h0M880.1 2141.4h0M838.6 2140.2h0M839.2 2171.3h0M869.1 2173.1h0M901.6 2170.9h0M902.9 1907.4h0M895 1956.9h0M907.5 1947h0M902.9 1969.4h0M903.9 2058.2h0M898.6 1945.1h0M911.7 1957.6h0M898.3 2010.9h0M896.5 1935.2h0M901.3 2012.2h0M887.3 1899.5h0M908.2 2102.8h0M904.3 1963.5h0M902.3 2022h0M892.4 1962.7h0M886.2 1915.5h0M900.6 2075.6h0M900.2 1999.1h0M900.4 2024.8h0M906.2 1905.9h0M893.4 1911.6h0M911.5 2061h0M905.9 1900.5h0M890.3 2027h0M902.8 2034.8h0M887.7 2040.3h0M899.6 1944.1h0M898.3 1976h0M890.6 2115.5h0M887.1 2096.5h0M915 1824h0M971 1829.2h0M918 1822.6h0M957.1 1830h0M967.2 1827.8h0M939.6 1834.3h0M975.4 1822.4h0M927.9 1835.3h0M915.3 1826.8h0M948.3 1837.9h0M960.8 2152.4h0M931.6 2149.3h0M954.2 2160.1h0M936.4 2140.7h0M955.9 2147.1h0M936.7 2131.7h0M918.5 2132.3h0M942.6 2158.9h0M941.2 2152.7h0M950.6 2157.8h0M956.1 2134.4h0M964.4 2134.4h0M985.4 2092.5h0M982 2085.6h0M982 1959.4h0M984.8 2068.3h0M982.8 2031.9h0M986.4 1922.5h0M985.3 1879h0M982.7 1887.2h0M985.7 1971.1h0M982.2 1952.4h0M982.4 1988.6h0M981.9 1916.7h0M1040.7 1821.7h0M1010.1 1853.2h0M1024.9 1830.1h0M1006.4 1837.9h0M1003.5 1832.2h0M1025.1 1843.7h0M1026.5 1844.7h0M1021.1 1824.3h0M1037.7 2138h0M1009.3 2116.7h0M1029 2123h0M1024.7 2154.6h0M1017.4 2138h0M1012.4 2129.3h0M1066.1 2102.8h0M1073.2 1928.3h0M1083.4 2006.5h0M1081.7 2082.1h0M1064.9 1950.9h0M1101.1 1997.8h0M1050.8 2034.8h0M1096.9 1968.8h0M1074.4 1887.2h0M1083.5 2088.5h0M1048.4 1947.5h0M1095.4 2068.3h0M1073.9 2002.9h0M1086.5 1969.1h0M1071.4 2092.9h0M1091.2 2096.6h0M1099.3 1918.8h0M1056.9 1893h0M1091.1 2046.7h0M1053.8 1948.1h0M1078.4 2002.4h0M1083.2 1928.1h0M1067.9 2089.7h0M1071 2046h0M1064.5 1941.7h0M1059.3 1935h0M1090.4 1962.9h0M1087.6 2043.8h0M1100 2022.3h0M1076.4 1953.4h0M1076.3 2005.9h0M1071.2 1993.5h0M1057.8 2030.8h0M1059.5 2078.4h0M1077.4 1945.5h0M1047.9 2101.4h0M1083.1 2019.4h0M1087.6 1949.7h0M1072.2 1963.9h0M1085.9 2095.8h0M1080.7 1980.1h0M1067.9 2027.6h0M1092 1933.1h0M1053.9 2091h0M1070.8 2088.3h0M1056.1 2053.2h0M1061.3 1908.1h0M1082 2074.7h0M1056.4 1969h0M1049.6 2082.1h0M1095.1 2048.2h0M1100.5 1965.1h0M1142.7 1842h0M1158.1 1830.7h0M1195.7 1820.6h0M1175 1813.5h0M1169.5 1819.9h0M1112.2 1807.4h0M1145 1805.2h0M1202.5 1842.2h0M1181.9 1832.7h0M1165.2 1829h0M1153.1 1847.4h0M1194.4 1827.8h0M1178.5 1819.4h0M1162.4 1833.2h0M1116.3 2138h0M1168.3 2123.7h0M1175.2 2106.1h0M1161.6 2114h0M1153.1 2132.8h0M1170.3 2124.3h0M1132.1 2144.6h0M1120.6 2137.1h0M1136.7 2108.8h0M1132 2104.6h0M1192.3 2137.8h0M1149.2 2142.2h0M1191 2114.8h0M1174.5 2103.9h0M1190.6 2109.6h0M1116.8 2100.3h0M1168.4 2102.3h0M1108.3 2138.1h0M1186 2108.9h0M1176.2 2135.8h0M245 1729.5h0M252.5 1729.5h0M260 1729.5h0M267.5 1729.5h0M275 1729.5h0M282.5 1729.5h0M290 1729.5h0M327 1729.5h0M511.8 1773.4h0M1026.2 1786.3h0M1029.5 1775.9h0M965.2 1794h0M508.6 2206.8h0M540.8 2206.8h0M733.7 2206.8h0M616.3 2175.8h0" fill="none" stroke="#000080" stroke-width="15" stroke-linecap="round"/><line x1="389.7" x2="389.7" y1="1801.7" y2="1987.5" stroke="#fff" stroke-width="1.8" stroke-dasharray="10 12 22 9 6 14 30 11" stroke-linecap="round"/><line x1="443.4" x2="443.4" y1="1910.1" y2="2064.9" stroke="#fff" stroke-width="1.8" stroke-dasharray="10 12 22 9 6 14 30 11" stroke-linecap="round"/><line x1="889.6" x2="889.6" y1="1863.7" y2="2116.5" stroke="#fff" stroke-width="2" stroke-dasharray="10 12 22 9 6 14 30 11" stroke-linecap="round"/><line x1="908.3" x2="908.3" y1="1863.7" y2="2116.5" stroke="#fff" stroke-width="2" stroke-dasharray="10 12 22 9 6 14 30 11" stroke-linecap="round"/><path d="M446.6 2032.6h0M399.5 2000.1h0M552.3 2058.1h0M439.5 1918.7h0M573.4 1880.8h0M315.3 2007.2h0M437.6 1852.3h0M469.4 2040.1h0M363.9 1882.2h0M393.7 1995h0M502.1 1902.7h0M448.4 2052.2h0M359 1952.6h0M344 1923.9h0M497.8 1920.4h0M579.1 1861.2h0M396.9 1971.4h0M495.5 2056.1h0M403.1 2053.9h0M592.7 1949.4h0M466.5 2020h0M374.2 1928.7h0M393.9 1997.7h0M419.2 1939h0M573.3 1988.1h0M478.8 1971h0M307.8 2032.6h0M472.1 1875.5h0M451.9 1977.1h0M585.6 1951.1h0M611.6 1982.2h0M498.8 1863.5h0M356.3 1895.7h0M369 1859.1h0M570.7 2004.2h0M622.6 1841.2h0M460.7 1955.4h0M501.3 1916.3h0M371.6 1941.2h0M504.3 1909h0M545.5 1993.3h0M533 1919.2h0M550.3 1907.1h0M494 2025.5h0M312.7 2042.9h0M549.5 1880.3h0M307.9 2031h0M376.3 1910h0M375.6 1864.3h0M340 1924.2h0M878.5 1958h0M1115.9 2009.6h0M853.9 2043.8h0M734.8 1957.6h0M1145.4 2035.3h0M1162.8 1962.7h0M1125.7 1917.6h0M729.5 1987.2h0M909.5 1998.1h0M826.8 1947h0M813.2 1984.2h0M1086.5 2044.3h0M985.6 1965.8h0M1117.1 1881.3h0M969.5 1893.8h0M953 2005.8h0M1091.9 2012.6h0M1089.8 1993.4h0M850.5 2080.1h0M1135.6 2050h0M893.6 2046.8h0M746.1 2045.4h0M1079.2 1989h0M909.4 2033.3h0M747.4 2055.9h0M721.1 2053.9h0M883.3 2047.8h0M728.3 2065.5h0M719.6 2072.3h0M891.1 1903.4h0M782.8 1888.1h0M738 1925.6h0M892.3 2051.7h0M1170 2050.2h0M799.7 1990.4h0M1188 1923.2h0M753.4 1915h0M1133.2 1894.6h0M833.4 2050.8h0M747 2016.9h0M980.4 2045.1h0M740.6 1936.5h0M1078.9 1926.1h0M1160 1927.5h0M977.5 1924.3h0M789.6 1991.5h0M995.2 1903.8h0M1009 2051.3h0M747.7 1943.6h0M853.9 1892.9h0" fill="none" stroke="#fff" stroke-width="3.5" stroke-linecap="round"/><path d="M619.5 2053.7h0M586.3 2050.8h0M603.6 2003.4h0M602.4 1926h0M646.6 1921.7h0M627.5 1926.4h0M601.4 2004.6h0M603 2032.6h0M591.8 2006.3h0M590.7 1933.3h0M633.2 1895.9h0M643.8 1933.8h0" fill="none" stroke="#fff" stroke-width="6" stroke-linecap="round"/><path d="M691.1 2025.1h0M683 1934.5h0M659.3 2024h0M677.3 2017.9h0M704.5 2047.7h0M694.4 1901.6h0M681.9 1969.2h0M671.7 2057h0M664.9 1904.3h0M686.5 1934h0M651 1936.1h0M689.3 2042.9h0M649.9 1968.1h0M661 2027h0M663.9 2042.1h0M655.2 1930.5h0M664.5 1925.2h0M683.8 1936.7h0M668.9 1911.2h0M663.3 2033.6h0M669.5 1923.3h0M667.2 2021.1h0M660.7 1990.1h0M669.4 2024.6h0M702.3 1907.1h0M654.1 1927.4h0M691.3 2058.3h0M666.1 1919.4h0M695.2 1916.4h0M694.3 1893.5h0M701.6 1964.5h0M650.8 1971.2h0M701.6 1967.5h0M678.9 1898.6h0" fill="none" stroke="#fff" stroke-width="8" stroke-linecap="round"/></g><path d="M245 1987.5L1241.7 1987.5" fill="none" stroke="#000" stroke-width="6" stroke-linejoin="round"  stroke-dasharray="19 10" stroke-linecap="butt"/><path d="M261.1 1854L266.1 1855.2L271.1 1855.9L276.1 1855.4L281.1 1854.5L286.2 1854.3L291.2 1854.6L296.2 1854.2L301.2 1853.5L306.2 1853.4L311.2 1853.9L316.2 1853.8L321.3 1851.7L326.3 1851.2L331.3 1853.7L336.3 1855L341.3 1854.3L346.3 1853.8L351.4 1853.1L356.4 1852.4L361.4 1853.3L366.4 1854.6L371.4 1854.8L376.4 1855.2L381.4 1855.5L386.5 1854.7L391.7 1853.7L397 1853.8L402.2 1853.8L407.5 1853.6L412.7 1853.4L418 1852L423.2 1850.9L428.5 1850.6L433.7 1850.5L437.4 1855.2L441.1 1860.6L445.4 1859L449.7 1856.4L454 1853.2L459.2 1851.7L464.5 1851L469.8 1851.3L475 1851L480.3 1849.8L485.5 1849L490.8 1849.3L496.1 1849.8L501.3 1850.3L506.6 1849.6L511.8 1848.5L517.3 1848.5L522.8 1850L528.2 1851.4L533.7 1850L539.2 1848.7L544.6 1850L550.1 1851.6L555.6 1852.8L560.5 1855.8L565.4 1857.1L570.3 1858.8L575.2 1862.1L580.3 1861.7L585.4 1860.9L590.5 1861L595.6 1860.7L600.7 1860.2L605.8 1859.9L610.9 1860.7L616 1861.9L621.2 1861.9L626.4 1859.8L631.6 1858.5L636.8 1859.1L642.1 1860.4L647.3 1860.2L652.5 1859.3L657.7 1858.5L663 1857.9L668.6 1856.9L674.2 1855.8L679.8 1855.7L685.5 1855.1L689.3 1849.5L693.2 1844.5L697 1841.4L701.9 1846.8L706.7 1851.5L712.2 1851.9L717.8 1853.4L723.4 1852.8L729 1851.5L734.5 1852.7L740.1 1854.5L745.2 1854.8L750.2 1854.4L755.2 1852.9L760.3 1851.6L765.3 1852.7L770.4 1852.7L775.4 1851.7L780.5 1852.5L785.5 1852.4L790.6 1850.7L795.6 1848.8L800.7 1847.2L805.7 1846.7L810.3 1844.3L814.9 1842.1L819.5 1840.3L823.2 1846.7L826.9 1852.3L832.7 1851.8L838.5 1852.4L844.3 1851.8L850.1 1849.9L855.9 1848.5L861 1848.5L866.1 1848.1L871.3 1848.6L876.4 1850.3L881.6 1851.7L886.7 1851.4L891.9 1850.7L897 1850.5L902.1 1850.7L907.3 1851.9L912.6 1852.1L917.9 1851.3L923.1 1852.2L928.4 1853.1L933.7 1852.7L939 1852.8L944.3 1853.8L949.5 1854.9L954.8 1855.6L960.1 1855.6L965.4 1855.5L970.7 1855.3L976 1855.6L981.2 1855.9L986.4 1855.7L991.5 1855.3L996.7 1853.5L1001.8 1852.5L1007 1851.7L1012.5 1850.5L1018 1850.1L1023.5 1851.4L1029 1853.6L1034.5 1853.9L1040 1852.7L1045.5 1851.9L1051.5 1848.6L1057.4 1845.8L1062.7 1840.3L1068 1835.6L1073.4 1837.9L1078.8 1838.7L1084.1 1839.2L1089 1841.6L1093.9 1843.9L1098.8 1845L1103.7 1846.9L1108.5 1849.1L1113.6 1850.9L1118.7 1852L1123.8 1851.4L1128.9 1852L1134 1853L1139.1 1852.3L1144.1 1851.4L1149.2 1852.6L1154.3 1854.2L1159.4 1854.6L1164.5 1855.2L1169.6 1855.4L1174.8 1855.8L1179.9 1856.1L1185.1 1855.3L1190.2 1854" fill="none" stroke="#ffa500" stroke-width="11" stroke-linejoin="round" stroke-linecap="round"/><path d="M261.1 2122.3L266.1 2124.1L271.1 2125.7L276.1 2124.6L281.1 2123.2L286.2 2122.5L291.2 2122.7L296.2 2122.6L301.2 2122.2L306.2 2122.6L311.2 2122.9L316.2 2123.7L321.3 2125.4L326.3 2125.6L331.3 2124.2L336.3 2123.3L341.3 2122.5L346.3 2122.2L351.4 2123.3L356.4 2123.9L361.4 2122.9L366.4 2122L371.4 2121.5L376.4 2121.7L381.4 2123L386.5 2123.9L391.7 2123.9L397 2123.8L402.2 2124.3L407.5 2124.4L412.7 2123.4L418 2122.6L423.2 2122.4L428.5 2122.1L433.7 2122.4L439.5 2117.1L444.5 2119.6L449.5 2124.1L454.7 2125.2L459.9 2126.1L465.2 2126.4L470.4 2125.7L475.7 2126.7L480.9 2127.9L486.1 2128.2L491.6 2127.5L497.1 2127L502.7 2127.8L508.2 2128.3L513.7 2128.1L519.2 2127.4L524.7 2126.3L530.2 2125.1L535.7 2124.9L541.2 2124.5L546.8 2123.1L552.3 2121.3L557.8 2120.1L563.3 2118.6L569.7 2116.1L576.1 2114.4L582.6 2114.1L587.8 2114.2L593.1 2114L598.4 2114L603.7 2114.1L608.9 2114.3L614.2 2113.8L619.5 2114.6L624.8 2116.6L630 2116.2L635.3 2114.8L640.6 2116L645.8 2116.7L651.1 2115.6L656.4 2116L661.7 2116.2L666.4 2115.8L671.2 2116.4L675.9 2118L680.7 2120L685.5 2122.4L689.3 2125.4L693.2 2128.7L697 2134.4L702.5 2131.3L708 2124.9L713.3 2124L718.7 2125.7L724 2126L729.4 2124.9L734.8 2125.6L740.1 2125.9L745.2 2124.7L750.2 2125.2L755.2 2126.6L760.3 2126.8L765.3 2127.2L770.4 2128.5L775.4 2128.5L780.5 2127.6L785.5 2127.6L790.6 2127.4L795.6 2127.3L800.7 2127.4L805.7 2127.5L810.3 2130.6L814.9 2133.8L819.5 2135.1L824.8 2129.7L830.1 2126.3L835.4 2128L840.7 2128.3L845.9 2127L851.2 2125.8L856.4 2125.3L861.7 2124.7L867 2124.3L872.2 2124.4L877.5 2124L882.7 2123.4L888 2122.7L893.2 2122.4L898.4 2122.3L903.5 2121.9L908.7 2121.9L913.9 2121.1L919.1 2120.4L924.3 2122.2L929.4 2122.7L934.6 2121.2L939.8 2120.9L945 2119.9L950.2 2118.2L955.3 2118.6L960.5 2119.7L965.7 2120.3L970.9 2119.5L976.1 2117.8L981.2 2117.6L986.6 2118.6L992 2118.7L997.3 2118.4L1002.7 2119.5L1008 2120.6L1013.4 2120.6L1018.7 2120.4L1024.1 2119.4L1029.5 2118.6L1034.8 2118.7L1040.2 2118.9L1045.5 2119.4L1051.5 2123.8L1057.4 2128L1061 2131.7L1064.5 2135L1068 2138.6L1073.4 2137.6L1078.8 2136.8L1084.1 2135.2L1089 2134.1L1093.9 2133.2L1098.8 2130.3L1103.7 2128L1108.5 2126.8L1113.6 2126.6L1118.7 2126.2L1123.8 2125.6L1128.9 2124.5L1134 2123.8L1139.1 2123.9L1144.1 2123.8L1149.2 2123.7L1154.3 2123.3L1159.4 2121.7L1164.5 2119.9L1169.6 2120.4L1174.8 2121.2L1179.9 2122.1L1185.1 2122.9L1190.2 2123.2" fill="none" stroke="#ffa500" stroke-width="11" stroke-linejoin="round" stroke-linecap="round"/><path d="M261.1 1883.2L266.3 1884.6L271.5 1885.3L276.7 1883.5L281.9 1882.3L287.2 1883.4L292.4 1885.2L297.6 1885.8L302.8 1885.4L308 1885.7L313.2 1886.1L318.5 1885.4L323.7 1884.1L328.9 1884L334.2 1885.2L339.4 1885.6L344.6 1886.2L349.9 1886.6L355.1 1886.9L360.3 1887.8L365.5 1887L370.8 1886.5L376 1886.9L381.2 1886.5L386.5 1887.5L392.9 1886.9L399.3 1884.6L405.8 1882.1L411.3 1881.9L416.9 1882.4L422.5 1883L428.1 1883.5L433.7 1883.7L437.4 1887.3L441.1 1890.7L445.4 1888.5L449.7 1886.2L454 1884.7L459.2 1884.1L464.5 1881.7L469.8 1881.8L475 1882.3L480.3 1881.8L485.5 1881.4L490.8 1880.8L496.1 1880.9L501.3 1881L506.6 1880.3L511.8 1878.8L517.3 1878.7L522.8 1880.1L528.2 1880.5L533.7 1880.5L539.2 1881.8L544.6 1883.3L550.1 1883.2L555.6 1882.3L560.5 1882.7L565.4 1884.1L570.3 1886.4L575.2 1888.5L580.3 1889.7L585.4 1889.8L590.5 1888.7L595.6 1889L600.7 1889L605.8 1889.2L610.9 1890.2L616 1890.5L621.2 1890.6L626.4 1889.9L631.6 1890L636.8 1891.4L642.1 1891.5L647.3 1890.9L652.5 1890L657.7 1889L663 1889.9L668.6 1890L674.2 1888.3L679.8 1885.9L685.5 1884L691.2 1879.6L697 1875.4L701.9 1879.9L706.7 1885L712.2 1885.5L717.8 1885L723.4 1885L729 1885.7L734.5 1885L740.1 1883L745.2 1882.8L750.2 1884.2L755.2 1884.5L760.3 1883.5L765.3 1882.7L770.4 1882.8L775.4 1883.8L780.5 1883.3L785.5 1881.9L790.6 1882.3L795.6 1882.1L800.7 1881.1L805.7 1880.8L810.3 1878L814.9 1874.2L819.5 1870.9L823.2 1877.8L826.9 1885.3L832.7 1885L838.5 1883.8L844.3 1882.5L850.1 1880.8L855.9 1880.7L861 1881.5L866.1 1880.8L871.3 1880.7L876.4 1882L881.6 1883.6L886.7 1883.8L891.9 1883.2L897 1883.9L902.1 1884.2L907.3 1883.6L912.6 1884L917.9 1884.5L923.1 1884L928.4 1883L933.7 1883.4L939 1885.4L944.3 1885.8L949.5 1885.3L954.8 1884.9L960.1 1885.3L965.4 1886L970.7 1886.9L976 1888.1L981.2 1887.7L986.4 1886.8L991.5 1886.7L996.7 1884.6L1001.8 1883.2L1007 1883.4L1012.5 1883.2L1018 1882.7L1023.5 1883.9L1029 1885L1034.5 1885.5L1040 1884.8L1045.5 1883.6L1051.5 1880.4L1057.4 1877.3L1062.7 1874.1L1068 1871.9L1073.4 1873.2L1078.8 1872.9L1084.1 1872.8L1089 1874.2L1093.9 1875.2L1098.8 1875.4L1103.7 1875.6L1108.5 1877.7L1113.6 1879.7L1118.7 1881.6L1123.8 1882.5L1128.9 1881.5L1134 1881.7L1139.1 1883.6L1144.1 1885.2L1149.2 1885.9L1154.3 1885.3L1159.4 1885.4L1164.5 1886.3L1169.6 1885.5L1174.8 1886.2L1179.9 1886.8L1185.1 1885.2L1190.2 1884.5" fill="none" stroke="#00ff00" stroke-width="12" stroke-linejoin="round" stroke-linecap="round"/><path d="M261.1 2092.6L266.1 2094L271.1 2094.2L276.1 2093.5L281.1 2094.6L286.2 2095.2L291.2 2093.7L296.2 2092.3L301.2 2092.7L306.2 2093.4L311.2 2093.3L316.2 2092.3L321.3 2092.3L326.3 2093.7L331.3 2093.6L336.3 2091.9L341.3 2091.9L346.3 2092.4L351.4 2091.9L356.4 2092.3L361.4 2094.3L366.4 2095.5L371.4 2094.4L376.4 2092.7L381.4 2092.3L386.5 2092.5L391.7 2091.8L397 2092.6L402.2 2094.3L407.5 2094.5L412.7 2094.6L418 2093.7L423.2 2092.1L428.5 2092.8L433.7 2093.6L441.1 2086L445.4 2087.4L449.7 2090.2L454 2092.3L459.3 2093.2L464.7 2095.2L470.1 2095.5L475.4 2094.7L480.8 2095L486.1 2095.9L491.5 2095.5L496.8 2095.2L502.2 2095.2L507.4 2094.9L512.6 2095.3L517.9 2095.8L523.1 2095.2L528.3 2094.9L533.5 2095.6L538.8 2095L544 2094.3L548.8 2093.3L553.6 2090.9L558.5 2088.7L563.3 2088.5L569.7 2087.2L576.1 2084.4L582.6 2083L587.8 2082.6L593.1 2082.5L598.4 2084.6L603.7 2086.1L608.9 2086L614.2 2085.6L619.5 2084.3L624.8 2083L630 2083.8L635.3 2084.2L640.6 2083L645.8 2082.9L651.1 2083.9L656.4 2084.2L661.7 2085.2L666.4 2087.6L671.2 2087.8L675.9 2089L680.7 2091.9L685.5 2093.6L691.2 2097L697 2101L702.5 2096.9L708 2093.3L713.3 2094.2L718.7 2094L724 2093.1L729.4 2093.2L734.8 2094.1L740.1 2094.6L745.2 2095.3L750.2 2095.4L755.2 2094L760.3 2093.7L765.3 2095.1L770.4 2096.5L775.4 2096.7L780.5 2095.3L785.5 2094.5L790.6 2095.7L795.6 2096.9L800.7 2096.5L805.7 2096.6L812.6 2100L819.5 2102.7L824.8 2099.2L830.1 2097.4L835.4 2099.1L840.7 2098.1L845.9 2096.2L851.2 2094.6L856.4 2093.1L861.7 2093.2L867 2094.5L872.2 2094L877.5 2091.3L882.7 2090.6L888 2092.2L893.2 2093.8L898.4 2094.1L903.5 2091.9L908.7 2090.7L913.9 2091.3L919.1 2090.9L924.3 2090.6L929.4 2090.5L934.6 2090L939.8 2090.6L945 2091.3L950.2 2091.5L955.3 2091.6L960.5 2091.5L965.7 2091L970.9 2090.6L976.1 2090.5L981.2 2090.4L986.6 2090.8L992 2090.7L997.3 2090.2L1002.7 2090.4L1008 2090.4L1013.4 2089.9L1018.7 2089.8L1024.1 2089.6L1029.5 2089.3L1034.8 2090.2L1040.2 2090.2L1045.5 2088.9L1051.5 2092.6L1057.4 2097.2L1062.7 2100.5L1068 2103.7L1073.4 2103.4L1078.8 2102.5L1084.1 2100.3L1089 2098.3L1093.9 2097.6L1098.8 2097.1L1103.7 2096.2L1108.5 2095.1L1113.6 2095.2L1118.7 2095.3L1123.8 2094.3L1128.9 2093.6L1134 2094.3L1139.1 2094.3L1144.1 2093.3L1149.2 2091.8L1154.3 2090.3L1159.4 2090.4L1164.5 2091.6L1169.6 2092L1174.8 2092.2L1179.9 2093.4L1185.1 2093.5L1190.2 2093.1" fill="none" stroke="#00ff00" stroke-width="12" stroke-linejoin="round" stroke-linecap="round"/><path d="M261.1 1841.1L268.5 1847.1L272.5 1848.9L276.4 1851.9L280.4 1856.3L284.4 1861L288.4 1866.3L292.2 1872.3L295.9 1876.7L299.7 1879.3L305.7 1880.5L311.7 1884.7L317.7 1886.8L323.8 1885.3L328.6 1886.8L333.4 1890.3L338.2 1892.3L343.1 1893.7L347.9 1893.4L352.9 1895.4L358 1899.9L363 1905.2L368.2 1905.9L373.5 1907.1L378.7 1908.5L382.6 1912.1L386.5 1917.8L390.3 1921.4L393 1923.8L395.7 1928.3L398.4 1934.1L403.8 1935.6L409.3 1936.6L414.8 1937.9L420.2 1939.1L425.7 1940.2L429.8 1943.6L433.8 1947.3L437.9 1953.1L440.8 1958.9L443.7 1962.4L446.6 1967.2L449.5 1971.8L455.3 1974.4L461 1978.3L467 1979L472.9 1978.3L478.9 1979.1L484.8 1981.2L490.1 1980.6L495.3 1980.1L500.5 1980.4L505.8 1979.2L511 1978.5L516.2 1979L521.4 1979.7L526.7 1979.3L531.9 1977.8L537.1 1979.5L542.4 1983.1L547.6 1984.2L552.8 1983L558.1 1980.6L563.3 1978.5L568.8 1980.3L574.3 1983.1L579.8 1985.2L585.3 1985.8L590.8 1985.9L596.4 1988.3L601.9 1990.1L607.2 1986.5L612.6 1985.3L617.9 1984.4L623.3 1981.4L628.7 1977.7L634 1975.1L639.4 1980.6L644.7 1984.8L650.1 1988.8L655.6 1990L661 1988.7L666.5 1984.7L672 1983.1L677.4 1981.2L683 1982.1L688.7 1982.9L692.7 1979.8L696.8 1976.4L700.9 1969.3L704.4 1973.1L708 1978.8L713.3 1978.7L718.7 1978.3L724 1978.4L729.4 1980.4L734.8 1981.8L740.1 1982.1L745.9 1981.9L751.7 1982L757.5 1981.2L763.3 1979.4L769 1978L774.3 1977.4L779.5 1977L784.8 1978L790 1978.3L795.2 1978.6L800.5 1980.1L805.7 1979.3L810.7 1973.6L815.7 1972.2L816.6 1981.2L817.6 1987.4L818.6 1993.2L819.5 1998.6L824.8 1998L830.1 1997.9L835.3 1998.8L840.6 1999.6L845.9 1998.2L851.1 1996.6L856.4 1997.1L861.7 1998.4L866.9 1997.8L872.2 1997L877.5 1998.4L882.7 1999.1L888 1998.1L894.4 1996.2L900.9 1995.3L906.5 2000.1L912.1 2003.9L917.2 2001.2L922.3 1998.1L927.3 1996.9L932.4 1998.5L937.5 2001.4L942.5 2000.9L947.6 1999.6L952.7 2000.8L957.7 2000.2L962.8 1999.5L967.9 1998.5L973 1995.8L978 1996.4L980.9 1992.7L983.8 1987.2L986.7 1982.1L991.9 1982.3L997 1982.2L1002.2 1982.4L1007.4 1982.5L1012.6 1982.6L1017.7 1983L1022.9 1985.2L1028.1 1986.1L1033.2 1983.5L1038.4 1981.1L1043.6 1981.4L1048.8 1982.5L1053.1 1988.7L1057.4 1996.8L1062.7 1997.4L1068 1995.4L1070.3 1990.3L1072.5 1984.6L1074.8 1980.2L1077 1976.8L1082.2 1972.8L1087.3 1968.9L1092.4 1969.8L1097.4 1971.1L1102.5 1972L1107.5 1972.6L1112.6 1975.8L1117.6 1978.5L1122.7 1976.1L1127.9 1973.4L1133.1 1972.7L1138.4 1973.9L1143.6 1976.6L1148.8 1977.5L1154 1976.8L1159.3 1976.8L1164.5 1978.2L1170.9 1977.8L1177.3 1977.8L1183.8 1978L1190.2 1971.7" fill="none" stroke="#ff0000" stroke-width="13" stroke-linejoin="round" stroke-linecap="round"/><g font-family="'DejaVu Sans','Liberation Sans',sans-serif" fill="#4a4a4a" stroke="#4a4a4a" stroke-width="0.5"><text x="214" y="2259" font-size="35" text-anchor="end">−1.0</text><text x="214" y="2130" font-size="35" text-anchor="end">−0.5</text><text x="214" y="2001" font-size="35" text-anchor="end">0.0</text><text x="214" y="1872" font-size="35" text-anchor="end">0.5</text><text x="214" y="1743" font-size="35" text-anchor="end">1.0</text><text x="245" y="2312" font-size="35" text-anchor="middle">0</text><text x="405.8" y="2312" font-size="35" text-anchor="middle">5</text><text x="566.5" y="2312" font-size="35" text-anchor="middle">10</text><text x="727.2" y="2312" font-size="35" text-anchor="middle">15</text><text x="888" y="2312" font-size="35" text-anchor="middle">20</text><text x="1048.8" y="2312" font-size="35" text-anchor="middle">25</text><text x="1209.5" y="2312" font-size="35" text-anchor="middle">30</text><text x="938" y="2376" font-size="55" text-anchor="middle" fill="#333" stroke="#333" stroke-width="0.3">position (Mb)</text><text transform="translate(103 1988) rotate(-90)" font-size="55" text-anchor="middle" fill="#333" stroke="#333" stroke-width="0.3">ΔSNP-index</text></g><rect x="254" y="151" width="50.5" height="2110" fill="#ff0000" fill-opacity="0.4"/></g></svg></body></html>
